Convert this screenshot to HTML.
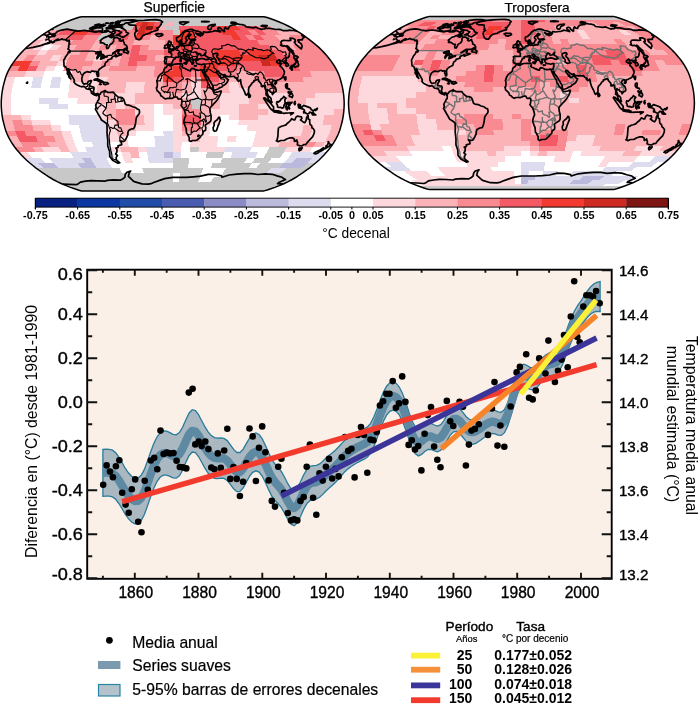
<!DOCTYPE html>
<html><head><meta charset="utf-8"><style>
html,body{margin:0;padding:0;background:#fff;width:700px;height:705px;overflow:hidden}
svg{display:block;font-family:"Liberation Sans",Arial,Helvetica,sans-serif}
</style></head><body>
<svg width="700" height="705" viewBox="0 0 700 705">
<text x="174.3" y="11.6" font-size="13.8" text-anchor="middle" stroke="#000" stroke-width="0.25">Superficie</text>
<text x="537" y="11.6" font-size="13.6" text-anchor="middle" stroke="#000" stroke-width="0.25">Troposfera</text>
<clipPath id="clipL"><path d="M263.97,190.90 L267.16,190.02 L270.83,188.82 L274.90,187.34 L279.25,185.62 L283.76,183.70 L288.15,181.63 L292.19,179.49 L295.94,177.27 L299.52,174.98 L302.99,172.64 L306.37,170.23 L309.66,167.78 L312.84,165.29 L315.90,162.76 L318.82,160.19 L321.54,157.59 L324.05,154.97 L326.40,152.32 L328.65,149.66 L330.75,146.98 L332.65,144.30 L334.37,141.60 L335.94,138.90 L337.34,136.20 L338.55,133.50 L339.57,130.80 L340.41,128.10 L341.15,125.40 L341.85,122.70 L342.49,120.00 L343.00,117.30 L343.41,114.60 L343.73,111.90 L343.96,109.20 L344.12,106.50 L344.20,103.80 L344.12,101.10 L343.96,98.40 L343.73,95.70 L343.41,93.00 L343.00,90.30 L342.49,87.60 L341.85,84.90 L341.15,82.20 L340.41,79.50 L339.57,76.80 L338.55,74.10 L337.34,71.40 L335.94,68.70 L334.37,66.00 L332.65,63.30 L330.75,60.62 L328.65,57.94 L326.40,55.28 L324.05,52.63 L321.54,50.01 L318.82,47.41 L315.90,44.84 L312.84,42.31 L309.66,39.82 L306.37,37.37 L302.99,34.96 L299.52,32.62 L295.94,30.33 L292.19,28.11 L288.15,25.97 L283.76,23.90 L279.25,21.98 L274.90,20.26 L270.83,18.78 L267.16,17.58 L263.97,16.70 L81.43,16.70 L78.24,17.58 L74.57,18.78 L70.50,20.26 L66.15,21.98 L61.64,23.90 L57.25,25.97 L53.21,28.11 L49.46,30.33 L45.88,32.62 L42.41,34.96 L39.03,37.37 L35.74,39.82 L32.56,42.31 L29.50,44.84 L26.58,47.41 L23.86,50.01 L21.35,52.63 L19.00,55.28 L16.75,57.94 L14.65,60.62 L12.75,63.30 L11.03,66.00 L9.46,68.70 L8.06,71.40 L6.85,74.10 L5.83,76.80 L4.99,79.50 L4.25,82.20 L3.55,84.90 L2.91,87.60 L2.40,90.30 L1.99,93.00 L1.67,95.70 L1.44,98.40 L1.28,101.10 L1.20,103.80 L1.28,106.50 L1.44,109.20 L1.67,111.90 L1.99,114.60 L2.40,117.30 L2.91,120.00 L3.55,122.70 L4.25,125.40 L4.99,128.10 L5.83,130.80 L6.85,133.50 L8.06,136.20 L9.46,138.90 L11.03,141.60 L12.75,144.30 L14.65,146.98 L16.75,149.66 L19.00,152.32 L21.35,154.97 L23.86,157.59 L26.58,160.19 L29.50,162.76 L32.56,165.29 L35.74,167.78 L39.03,170.23 L42.41,172.64 L45.88,174.98 L49.46,177.27 L53.21,179.49 L57.25,181.63 L61.64,183.70 L66.15,185.62 L70.50,187.34 L74.57,188.82 L78.24,190.02 L81.43,190.90Z"/></clipPath>
<path d="M263.97,190.90 L267.16,190.02 L270.83,188.82 L274.90,187.34 L279.25,185.62 L283.76,183.70 L288.15,181.63 L292.19,179.49 L295.94,177.27 L299.52,174.98 L302.99,172.64 L306.37,170.23 L309.66,167.78 L312.84,165.29 L315.90,162.76 L318.82,160.19 L321.54,157.59 L324.05,154.97 L326.40,152.32 L328.65,149.66 L330.75,146.98 L332.65,144.30 L334.37,141.60 L335.94,138.90 L337.34,136.20 L338.55,133.50 L339.57,130.80 L340.41,128.10 L341.15,125.40 L341.85,122.70 L342.49,120.00 L343.00,117.30 L343.41,114.60 L343.73,111.90 L343.96,109.20 L344.12,106.50 L344.20,103.80 L344.12,101.10 L343.96,98.40 L343.73,95.70 L343.41,93.00 L343.00,90.30 L342.49,87.60 L341.85,84.90 L341.15,82.20 L340.41,79.50 L339.57,76.80 L338.55,74.10 L337.34,71.40 L335.94,68.70 L334.37,66.00 L332.65,63.30 L330.75,60.62 L328.65,57.94 L326.40,55.28 L324.05,52.63 L321.54,50.01 L318.82,47.41 L315.90,44.84 L312.84,42.31 L309.66,39.82 L306.37,37.37 L302.99,34.96 L299.52,32.62 L295.94,30.33 L292.19,28.11 L288.15,25.97 L283.76,23.90 L279.25,21.98 L274.90,20.26 L270.83,18.78 L267.16,17.58 L263.97,16.70 L81.43,16.70 L78.24,17.58 L74.57,18.78 L70.50,20.26 L66.15,21.98 L61.64,23.90 L57.25,25.97 L53.21,28.11 L49.46,30.33 L45.88,32.62 L42.41,34.96 L39.03,37.37 L35.74,39.82 L32.56,42.31 L29.50,44.84 L26.58,47.41 L23.86,50.01 L21.35,52.63 L19.00,55.28 L16.75,57.94 L14.65,60.62 L12.75,63.30 L11.03,66.00 L9.46,68.70 L8.06,71.40 L6.85,74.10 L5.83,76.80 L4.99,79.50 L4.25,82.20 L3.55,84.90 L2.91,87.60 L2.40,90.30 L1.99,93.00 L1.67,95.70 L1.44,98.40 L1.28,101.10 L1.20,103.80 L1.28,106.50 L1.44,109.20 L1.67,111.90 L1.99,114.60 L2.40,117.30 L2.91,120.00 L3.55,122.70 L4.25,125.40 L4.99,128.10 L5.83,130.80 L6.85,133.50 L8.06,136.20 L9.46,138.90 L11.03,141.60 L12.75,144.30 L14.65,146.98 L16.75,149.66 L19.00,152.32 L21.35,154.97 L23.86,157.59 L26.58,160.19 L29.50,162.76 L32.56,165.29 L35.74,167.78 L39.03,170.23 L42.41,172.64 L45.88,174.98 L49.46,177.27 L53.21,179.49 L57.25,181.63 L61.64,183.70 L66.15,185.62 L70.50,187.34 L74.57,188.82 L78.24,190.02 L81.43,190.90Z" fill="#c8c8c8"/>
<g clip-path="url(#clipL)">
<g shape-rendering="crispEdges"><path d="M81.43,16.70 86.50,16.70 91.57,16.70 96.64,16.70 101.71,16.70 106.78,16.70 111.85,16.70 116.92,16.70 121.99,16.70 127.06,16.70 132.13,16.70 137.21,16.70 142.28,16.70 147.35,16.70 152.42,16.70 157.49,16.70 162.56,16.70 167.63,16.70 172.70,16.70 177.77,16.70 182.84,16.70 187.91,16.70 192.98,16.70 198.05,16.70 203.12,16.70 208.19,16.70 213.27,16.70 218.34,16.70 223.41,16.70 228.48,16.70 233.55,16.70 238.62,16.70 243.69,16.70 248.76,16.70 253.83,16.70 258.90,16.70 263.97,16.70 270.83,18.78 265.38,18.78 259.93,18.78 254.48,18.78 249.03,18.78 243.57,18.78 238.12,18.78 232.67,18.78 227.22,18.78 221.77,18.78 216.31,18.78 210.86,18.78 205.41,18.78 199.96,18.78 194.51,18.78 189.06,18.78 183.60,18.78 178.15,18.78 172.70,18.78 167.25,18.78 161.80,18.78 156.34,18.78 150.89,18.78 145.44,18.78 139.99,18.78 134.54,18.78 129.09,18.78 123.63,18.78 118.18,18.78 112.73,18.78 107.28,18.78 101.83,18.78 96.37,18.78 90.92,18.78 85.47,18.78 80.02,18.78 74.57,18.78ZM74.57,18.78 80.02,18.78 85.47,18.78 90.92,18.78 96.37,18.78 101.83,18.78 107.28,18.78 112.73,18.78 118.18,18.78 123.63,18.78 129.09,18.78 134.54,18.78 139.99,18.78 145.44,18.78 150.89,18.78 156.34,18.78 161.80,18.78 167.25,18.78 172.70,18.78 178.15,18.78 183.60,18.78 189.06,18.78 194.51,18.78 199.96,18.78 205.41,18.78 210.86,18.78 216.31,18.78 221.77,18.78 227.22,18.78 232.67,18.78 238.12,18.78 243.57,18.78 249.03,18.78 254.48,18.78 259.93,18.78 265.38,18.78 270.83,18.78 279.25,21.98 273.33,21.98 267.41,21.98 261.49,21.98 255.57,21.98 249.65,21.98 243.74,21.98 237.82,21.98 231.90,21.98 225.98,21.98 220.06,21.98 214.14,21.98 208.22,21.98 202.30,21.98 196.38,21.98 190.46,21.98 184.54,21.98 178.62,21.98 172.70,21.98 166.78,21.98 160.86,21.98 154.94,21.98 149.02,21.98 143.10,21.98 137.18,21.98 131.26,21.98 125.34,21.98 119.42,21.98 113.50,21.98 107.58,21.98 101.66,21.98 95.75,21.98 89.83,21.98 83.91,21.98 77.99,21.98 72.07,21.98 66.15,21.98ZM66.15,21.98 72.07,21.98 77.99,21.98 83.91,21.98 89.83,21.98 95.75,21.98 101.66,21.98 107.58,21.98 113.50,21.98 119.42,21.98 125.34,21.98 131.26,21.98 137.18,21.98 134.22,25.97 127.80,25.97 121.39,25.97 114.97,25.97 108.56,25.97 102.14,25.97 95.73,25.97 89.32,25.97 82.90,25.97 76.49,25.97 70.07,25.97 63.66,25.97 57.25,25.97ZM160.86,21.98 166.78,21.98 166.29,25.97 159.87,25.97ZM172.70,21.98 178.62,21.98 184.54,21.98 190.46,21.98 196.38,21.98 202.30,21.98 208.22,21.98 214.14,21.98 220.06,21.98 225.98,21.98 231.90,21.98 237.82,21.98 243.74,21.98 249.65,21.98 255.57,21.98 261.49,21.98 267.41,21.98 273.33,21.98 279.25,21.98 288.15,25.97 281.74,25.97 275.33,25.97 268.91,25.97 262.50,25.97 256.08,25.97 249.67,25.97 243.26,25.97 236.84,25.97 230.43,25.97 224.01,25.97 217.60,25.97 211.18,25.97 204.77,25.97 198.36,25.97 191.94,25.97 185.53,25.97 179.11,25.97 172.70,25.97ZM57.25,25.97 63.66,25.97 70.07,25.97 76.49,25.97 82.90,25.97 89.32,25.97 95.73,25.97 102.14,25.97 108.56,25.97 114.97,25.97 121.39,25.97 127.80,25.97 134.22,25.97 131.62,30.33 124.77,30.33 117.93,30.33 111.08,30.33 104.23,30.33 97.39,30.33 90.54,30.33 83.69,30.33 76.85,30.33 70.00,30.33 63.15,30.33 56.31,30.33 49.46,30.33ZM166.29,25.97 172.70,25.97 179.11,25.97 179.55,30.33 172.70,30.33 165.85,30.33ZM268.91,25.97 275.33,25.97 281.74,25.97 288.15,25.97 295.94,30.33 289.09,30.33 282.25,30.33 275.40,30.33ZM104.23,30.33 111.08,30.33 107.56,34.96 100.32,34.96ZM172.70,30.33 179.55,30.33 179.94,34.96 172.70,34.96ZM100.32,34.96 107.56,34.96 114.79,34.96 111.83,39.82 104.22,39.82 96.61,39.82ZM104.22,39.82 111.83,39.82 109.05,44.84 101.10,44.84ZM191.73,98.40 201.24,98.40 201.28,103.80 191.76,103.80ZM191.76,103.80 201.28,103.80 201.24,109.20 191.73,109.20ZM190.26,146.98 199.04,146.98 198.32,152.32 189.78,152.32ZM269.29,146.98 278.07,146.98 286.85,146.98 283.70,152.32 275.17,152.32 266.63,152.32ZM206.86,152.32 215.39,152.32 223.93,152.32 222.31,157.59 214.05,157.59 205.78,157.59ZM266.63,152.32 275.17,152.32 283.70,152.32 280.20,157.59 271.93,157.59 263.66,157.59ZM172.70,157.59 180.97,157.59 189.24,157.59 188.61,162.76 180.66,162.76 172.70,162.76ZM222.31,157.59 230.58,157.59 238.85,157.59 247.12,157.59 244.30,162.76 236.35,162.76 228.39,162.76 220.43,162.76ZM255.39,157.59 263.66,157.59 271.93,157.59 268.17,162.76 260.21,162.76 252.26,162.76ZM172.70,162.76 180.66,162.76 188.61,162.76 187.92,167.78 180.31,167.78 172.70,167.78ZM212.48,162.76 220.43,162.76 228.39,162.76 236.35,162.76 244.30,162.76 252.26,162.76 248.79,167.78 241.18,167.78 233.57,167.78 225.96,167.78 218.35,167.78 210.74,167.78ZM260.21,162.76 268.17,162.76 276.12,162.76 284.08,162.76 279.22,167.78 271.62,167.78 264.01,167.78 256.40,167.78ZM307.95,162.76 315.90,162.76 309.66,167.78 302.05,167.78ZM35.74,167.78 43.35,167.78 50.96,167.78 58.57,167.78 66.18,167.78 73.78,167.78 81.39,167.78 89.00,167.78 96.61,167.78 104.22,167.78 111.83,167.78 119.44,167.78 122.03,172.64 114.79,172.64 107.56,172.64 100.32,172.64 93.08,172.64 85.84,172.64 78.60,172.64 71.36,172.64 64.13,172.64 56.89,172.64 49.65,172.64 42.41,172.64ZM142.26,167.78 149.87,167.78 157.48,167.78 165.09,167.78 172.70,167.78 180.31,167.78 187.92,167.78 195.53,167.78 203.14,167.78 201.65,172.64 194.41,172.64 187.18,172.64 179.94,172.64 172.70,172.64 165.46,172.64 158.22,172.64 150.99,172.64 143.75,172.64ZM225.96,167.78 233.57,167.78 241.18,167.78 248.79,167.78 256.40,167.78 264.01,167.78 271.62,167.78 266.80,172.64 259.56,172.64 252.32,172.64 245.08,172.64 237.84,172.64 230.61,172.64 223.37,172.64ZM286.83,167.78 294.44,167.78 302.05,167.78 309.66,167.78 302.99,172.64 295.75,172.64 288.51,172.64 281.27,172.64ZM42.41,172.64 49.65,172.64 56.89,172.64 64.13,172.64 71.36,172.64 78.60,172.64 85.84,172.64 93.08,172.64 100.32,172.64 107.56,172.64 114.79,172.64 122.03,172.64 129.27,172.64 136.51,172.64 143.75,172.64 150.99,172.64 158.22,172.64 165.46,172.64 172.70,172.64 172.70,177.27 165.85,177.27 159.01,177.27 152.16,177.27 145.31,177.27 138.47,177.27 131.62,177.27 124.77,177.27 117.93,177.27 111.08,177.27 104.23,177.27 97.39,177.27 90.54,177.27 83.69,177.27 76.85,177.27 70.00,177.27 63.15,177.27 56.31,177.27 49.46,177.27ZM179.94,172.64 187.18,172.64 194.41,172.64 201.65,172.64 200.09,177.27 193.24,177.27 186.39,177.27 179.55,177.27ZM223.37,172.64 230.61,172.64 237.84,172.64 245.08,172.64 252.32,172.64 259.56,172.64 266.80,172.64 274.04,172.64 281.27,172.64 288.51,172.64 295.75,172.64 302.99,172.64 295.94,177.27 289.09,177.27 282.25,177.27 275.40,177.27 268.55,177.27 261.71,177.27 254.86,177.27 248.01,177.27 241.17,177.27 234.32,177.27 227.47,177.27 220.63,177.27ZM49.46,177.27 56.31,177.27 63.15,177.27 70.00,177.27 76.85,177.27 83.69,177.27 90.54,177.27 97.39,177.27 104.23,177.27 111.08,177.27 117.93,177.27 124.77,177.27 131.62,177.27 138.47,177.27 145.31,177.27 152.16,177.27 159.01,177.27 165.85,177.27 172.70,177.27 172.70,181.63 166.29,181.63 159.87,181.63 153.46,181.63 147.04,181.63 140.63,181.63 134.22,181.63 127.80,181.63 121.39,181.63 114.97,181.63 108.56,181.63 102.14,181.63 95.73,181.63 89.32,181.63 82.90,181.63 76.49,181.63 70.07,181.63 63.66,181.63 57.25,181.63ZM179.55,177.27 186.39,177.27 193.24,177.27 200.09,177.27 198.36,181.63 191.94,181.63 185.53,181.63 179.11,181.63ZM213.78,177.27 220.63,177.27 227.47,177.27 234.32,177.27 241.17,177.27 248.01,177.27 254.86,177.27 261.71,177.27 268.55,177.27 275.40,177.27 282.25,177.27 289.09,177.27 295.94,177.27 288.15,181.63 281.74,181.63 275.33,181.63 268.91,181.63 262.50,181.63 256.08,181.63 249.67,181.63 243.26,181.63 236.84,181.63 230.43,181.63 224.01,181.63 217.60,181.63 211.18,181.63ZM57.25,181.63 63.66,181.63 70.07,181.63 76.49,181.63 82.90,181.63 89.32,181.63 95.73,181.63 102.14,181.63 108.56,181.63 114.97,181.63 121.39,181.63 127.80,181.63 134.22,181.63 140.63,181.63 147.04,181.63 153.46,181.63 159.87,181.63 166.29,181.63 172.70,181.63 179.11,181.63 185.53,181.63 191.94,181.63 198.36,181.63 204.77,181.63 211.18,181.63 217.60,181.63 224.01,181.63 230.43,181.63 236.84,181.63 243.26,181.63 249.67,181.63 256.08,181.63 262.50,181.63 268.91,181.63 275.33,181.63 281.74,181.63 288.15,181.63 279.25,185.62 273.33,185.62 267.41,185.62 261.49,185.62 255.57,185.62 249.65,185.62 243.74,185.62 237.82,185.62 231.90,185.62 225.98,185.62 220.06,185.62 214.14,185.62 208.22,185.62 202.30,185.62 196.38,185.62 190.46,185.62 184.54,185.62 178.62,185.62 172.70,185.62 166.78,185.62 160.86,185.62 154.94,185.62 149.02,185.62 143.10,185.62 137.18,185.62 131.26,185.62 125.34,185.62 119.42,185.62 113.50,185.62 107.58,185.62 101.66,185.62 95.75,185.62 89.83,185.62 83.91,185.62 77.99,185.62 72.07,185.62 66.15,185.62ZM66.15,185.62 72.07,185.62 77.99,185.62 83.91,185.62 89.83,185.62 95.75,185.62 101.66,185.62 107.58,185.62 113.50,185.62 119.42,185.62 125.34,185.62 131.26,185.62 137.18,185.62 143.10,185.62 149.02,185.62 154.94,185.62 160.86,185.62 166.78,185.62 172.70,185.62 178.62,185.62 184.54,185.62 190.46,185.62 196.38,185.62 202.30,185.62 208.22,185.62 214.14,185.62 220.06,185.62 225.98,185.62 231.90,185.62 237.82,185.62 243.74,185.62 249.65,185.62 255.57,185.62 261.49,185.62 267.41,185.62 273.33,185.62 279.25,185.62 270.83,188.82 265.38,188.82 259.93,188.82 254.48,188.82 249.03,188.82 243.57,188.82 238.12,188.82 232.67,188.82 227.22,188.82 221.77,188.82 216.31,188.82 210.86,188.82 205.41,188.82 199.96,188.82 194.51,188.82 189.06,188.82 183.60,188.82 178.15,188.82 172.70,188.82 167.25,188.82 161.80,188.82 156.34,188.82 150.89,188.82 145.44,188.82 139.99,188.82 134.54,188.82 129.09,188.82 123.63,188.82 118.18,188.82 112.73,188.82 107.28,188.82 101.83,188.82 96.37,188.82 90.92,188.82 85.47,188.82 80.02,188.82 74.57,188.82ZM74.57,188.82 80.02,188.82 85.47,188.82 90.92,188.82 96.37,188.82 101.83,188.82 107.28,188.82 112.73,188.82 118.18,188.82 123.63,188.82 129.09,188.82 134.54,188.82 139.99,188.82 145.44,188.82 150.89,188.82 156.34,188.82 161.80,188.82 167.25,188.82 172.70,188.82 178.15,188.82 183.60,188.82 189.06,188.82 194.51,188.82 199.96,188.82 205.41,188.82 210.86,188.82 216.31,188.82 221.77,188.82 227.22,188.82 232.67,188.82 238.12,188.82 243.57,188.82 249.03,188.82 254.48,188.82 259.93,188.82 265.38,188.82 270.83,188.82 263.97,190.90 258.90,190.90 253.83,190.90 248.76,190.90 243.69,190.90 238.62,190.90 233.55,190.90 228.48,190.90 223.41,190.90 218.34,190.90 213.27,190.90 208.19,190.90 203.12,190.90 198.05,190.90 192.98,190.90 187.91,190.90 182.84,190.90 177.77,190.90 172.70,190.90 167.63,190.90 162.56,190.90 157.49,190.90 152.42,190.90 147.35,190.90 142.28,190.90 137.21,190.90 132.13,190.90 127.06,190.90 121.99,190.90 116.92,190.90 111.85,190.90 106.78,190.90 101.71,190.90 96.64,190.90 91.57,190.90 86.50,190.90 81.43,190.90Z" fill="#c8c8c8"/><path d="M137.18,21.98 143.10,21.98 140.63,25.97 134.22,25.97ZM149.02,21.98 154.94,21.98 153.46,25.97 147.04,25.97ZM153.46,25.97 159.87,25.97 159.01,30.33 152.16,30.33ZM217.60,25.97 224.01,25.97 230.43,25.97 236.84,25.97 241.17,30.33 234.32,30.33 227.47,30.33 220.63,30.33ZM76.85,30.33 83.69,30.33 90.54,30.33 85.84,34.96 78.60,34.96 71.36,34.96ZM145.31,30.33 152.16,30.33 150.99,34.96 143.75,34.96ZM179.55,30.33 186.39,30.33 193.24,30.33 194.41,34.96 187.18,34.96 179.94,34.96ZM220.63,30.33 227.47,30.33 234.32,30.33 237.84,34.96 230.61,34.96 223.37,34.96ZM136.51,34.96 143.75,34.96 142.26,39.82 134.66,39.82ZM172.70,34.96 179.94,34.96 187.18,34.96 194.41,34.96 195.53,39.82 187.92,39.82 180.31,39.82 172.70,39.82ZM230.61,34.96 237.84,34.96 241.18,39.82 233.57,39.82ZM172.70,39.82 180.31,39.82 187.92,39.82 188.61,44.84 180.66,44.84 172.70,44.84ZM180.66,44.84 188.61,44.84 189.24,50.01 180.97,50.01ZM214.05,50.01 222.31,50.01 230.58,50.01 238.85,50.01 241.01,55.28 232.47,55.28 223.93,55.28 215.39,55.28ZM247.12,50.01 255.39,50.01 263.66,50.01 271.93,50.01 275.17,55.28 266.63,55.28 258.09,55.28 249.55,55.28ZM215.39,55.28 223.93,55.28 232.47,55.28 241.01,55.28 249.55,55.28 258.09,55.28 260.51,60.62 251.73,60.62 242.95,60.62 234.17,60.62 225.38,60.62 216.60,60.62ZM14.65,60.62 23.43,60.62 32.21,60.62 28.99,66.00 20.01,66.00 11.03,66.00ZM207.82,60.62 216.60,60.62 225.38,60.62 234.17,60.62 235.57,66.00 226.59,66.00 217.61,66.00 208.63,66.00ZM269.29,60.62 278.07,60.62 280.48,66.00 271.50,66.00ZM20.01,66.00 28.99,66.00 26.35,71.40 17.21,71.40ZM172.70,66.00 181.68,66.00 181.85,71.40 172.70,71.40ZM199.65,66.00 208.63,66.00 217.61,66.00 218.43,71.40 209.29,71.40 200.14,71.40ZM163.55,71.40 172.70,71.40 181.85,71.40 181.97,76.80 172.70,76.80 163.43,76.80ZM200.14,71.40 209.29,71.40 218.43,71.40 219.05,76.80 209.78,76.80 200.51,76.80ZM163.43,76.80 172.70,76.80 172.70,82.20 163.34,82.20ZM200.51,76.80 209.78,76.80 210.13,82.20 200.77,82.20Z" fill="#f33a30"/><path d="M143.10,21.98 149.02,21.98 147.04,25.97 140.63,25.97ZM140.63,25.97 147.04,25.97 145.31,30.33 138.47,30.33ZM138.47,30.33 145.31,30.33 143.75,34.96 136.51,34.96ZM258.09,55.28 266.63,55.28 275.17,55.28 278.07,60.62 269.29,60.62 260.51,60.62ZM260.51,60.62 269.29,60.62 271.50,66.00 262.52,66.00Z" fill="#cf2a22"/><path d="M154.94,21.98 160.86,21.98 159.87,25.97 153.46,25.97ZM134.22,25.97 140.63,25.97 138.47,30.33 131.62,30.33ZM179.11,25.97 185.53,25.97 191.94,25.97 198.36,25.97 204.77,25.97 211.18,25.97 217.60,25.97 220.63,30.33 213.78,30.33 206.93,30.33 200.09,30.33 193.24,30.33 186.39,30.33 179.55,30.33ZM236.84,25.97 243.26,25.97 249.67,25.97 256.08,25.97 261.71,30.33 254.86,30.33 248.01,30.33 241.17,30.33ZM63.15,30.33 70.00,30.33 76.85,30.33 71.36,34.96 64.13,34.96 56.89,34.96ZM90.54,30.33 97.39,30.33 104.23,30.33 100.32,34.96 93.08,34.96 85.84,34.96ZM117.93,30.33 124.77,30.33 122.03,34.96 114.79,34.96ZM193.24,30.33 200.09,30.33 206.93,30.33 213.78,30.33 220.63,30.33 223.37,34.96 216.13,34.96 208.89,34.96 201.65,34.96 194.41,34.96ZM234.32,30.33 241.17,30.33 248.01,30.33 252.32,34.96 245.08,34.96 237.84,34.96ZM254.86,30.33 261.71,30.33 266.80,34.96 259.56,34.96ZM71.36,34.96 78.60,34.96 85.84,34.96 81.39,39.82 73.78,39.82 66.18,39.82ZM122.03,34.96 129.27,34.96 127.05,39.82 119.44,39.82ZM194.41,34.96 201.65,34.96 208.89,34.96 216.13,34.96 223.37,34.96 230.61,34.96 233.57,39.82 225.96,39.82 218.35,39.82 210.74,39.82 203.14,39.82 195.53,39.82ZM237.84,34.96 245.08,34.96 248.79,39.82 241.18,39.82ZM252.32,34.96 259.56,34.96 264.01,39.82 256.40,39.82ZM187.92,39.82 195.53,39.82 203.14,39.82 210.74,39.82 218.35,39.82 225.96,39.82 233.57,39.82 241.18,39.82 248.79,39.82 256.40,39.82 260.21,44.84 252.26,44.84 244.30,44.84 236.35,44.84 228.39,44.84 220.43,44.84 212.48,44.84 204.52,44.84 196.57,44.84 188.61,44.84ZM132.92,44.84 140.88,44.84 139.62,50.01 131.35,50.01ZM172.70,44.84 180.66,44.84 180.97,50.01 172.70,50.01ZM188.61,44.84 196.57,44.84 204.52,44.84 212.48,44.84 220.43,44.84 228.39,44.84 236.35,44.84 244.30,44.84 252.26,44.84 260.21,44.84 268.17,44.84 271.93,50.01 263.66,50.01 255.39,50.01 247.12,50.01 238.85,50.01 230.58,50.01 222.31,50.01 214.05,50.01 205.78,50.01 197.51,50.01 189.24,50.01ZM131.35,50.01 139.62,50.01 138.54,55.28 130.01,55.28ZM164.43,50.01 172.70,50.01 180.97,50.01 189.24,50.01 197.51,50.01 205.78,50.01 214.05,50.01 215.39,55.28 206.86,55.28 198.32,55.28 189.78,55.28 181.24,55.28 172.70,55.28 164.16,55.28ZM238.85,50.01 247.12,50.01 249.55,55.28 241.01,55.28ZM271.93,50.01 280.20,50.01 283.70,55.28 275.17,55.28ZM130.01,55.28 138.54,55.28 147.08,55.28 146.36,60.62 137.58,60.62 128.80,60.62ZM172.70,55.28 181.24,55.28 189.78,55.28 198.32,55.28 206.86,55.28 215.39,55.28 216.60,60.62 207.82,60.62 199.04,60.62 190.26,60.62 181.48,60.62 172.70,60.62ZM275.17,55.28 283.70,55.28 292.24,55.28 295.63,60.62 286.85,60.62 278.07,60.62ZM128.80,60.62 137.58,60.62 136.77,66.00 127.79,66.00ZM163.92,60.62 172.70,60.62 181.48,60.62 190.26,60.62 199.04,60.62 207.82,60.62 208.63,66.00 199.65,66.00 190.66,66.00 181.68,66.00 172.70,66.00 163.72,66.00ZM234.17,60.62 242.95,60.62 251.73,60.62 260.51,60.62 262.52,66.00 253.54,66.00 244.55,66.00 235.57,66.00ZM278.07,60.62 286.85,60.62 295.63,60.62 298.45,66.00 289.46,66.00 280.48,66.00ZM28.99,66.00 37.97,66.00 35.50,71.40 26.35,71.40ZM163.72,66.00 172.70,66.00 172.70,71.40 163.55,71.40ZM181.68,66.00 190.66,66.00 199.65,66.00 200.14,71.40 190.99,71.40 181.85,71.40ZM217.61,66.00 226.59,66.00 235.57,66.00 236.73,71.40 227.58,71.40 218.43,71.40ZM244.55,66.00 253.54,66.00 262.52,66.00 271.50,66.00 280.48,66.00 282.46,71.40 273.31,71.40 264.17,71.40 255.02,71.40 245.87,71.40ZM289.46,66.00 298.45,66.00 300.75,71.40 291.61,71.40ZM181.85,71.40 190.99,71.40 191.24,76.80 181.97,76.80ZM264.17,71.40 273.31,71.40 282.46,71.40 283.95,76.80 274.68,76.80 265.41,76.80ZM172.70,76.80 181.97,76.80 182.06,82.20 172.70,82.20ZM209.78,76.80 219.05,76.80 219.49,82.20 210.13,82.20ZM200.77,82.20 210.13,82.20 210.43,87.60 201.00,87.60ZM182.18,114.60 191.67,114.60 201.15,114.60 201.00,120.00 191.56,120.00 182.13,120.00ZM182.13,120.00 191.56,120.00 201.00,120.00 200.77,125.40 191.42,125.40 182.06,125.40ZM15.10,130.80 24.37,130.80 26.35,136.20 17.21,136.20ZM17.21,136.20 26.35,136.20 35.50,136.20 37.97,141.60 28.99,141.60 20.01,141.60Z" fill="#f45a66"/><path d="M166.78,21.98 172.70,21.98 172.70,25.97 166.29,25.97ZM159.87,25.97 166.29,25.97 165.85,30.33 159.01,30.33ZM49.46,30.33 56.31,30.33 49.65,34.96 42.41,34.96ZM275.40,30.33 282.25,30.33 289.09,30.33 295.94,30.33 302.99,34.96 295.75,34.96 288.51,34.96 281.27,34.96ZM49.65,34.96 56.89,34.96 50.96,39.82 43.35,39.82ZM150.99,34.96 158.22,34.96 157.48,39.82 149.87,39.82ZM274.04,34.96 281.27,34.96 288.51,34.96 294.44,39.82 286.83,39.82 279.22,39.82ZM35.74,39.82 43.35,39.82 37.45,44.84 29.50,44.84ZM58.57,39.82 66.18,39.82 73.78,39.82 69.28,44.84 61.32,44.84 53.36,44.84ZM96.61,39.82 104.22,39.82 101.10,44.84 93.14,44.84ZM134.66,39.82 142.26,39.82 149.87,39.82 157.48,39.82 165.09,39.82 164.74,44.84 156.79,44.84 148.83,44.84 140.88,44.84 132.92,44.84ZM279.22,39.82 286.83,39.82 294.44,39.82 299.99,44.84 292.04,44.84 284.08,44.84ZM29.50,44.84 37.45,44.84 32.12,50.01 23.86,50.01ZM61.32,44.84 69.28,44.84 77.23,44.84 73.47,50.01 65.20,50.01 56.93,50.01ZM93.14,44.84 101.10,44.84 98.28,50.01 90.01,50.01ZM109.05,44.84 117.01,44.84 114.82,50.01 106.55,50.01ZM148.83,44.84 156.79,44.84 164.74,44.84 164.43,50.01 156.16,50.01 147.89,50.01ZM284.08,44.84 292.04,44.84 296.74,50.01 288.47,50.01ZM23.86,50.01 32.12,50.01 40.39,50.01 36.08,55.28 27.54,55.28 19.00,55.28ZM48.66,50.01 56.93,50.01 65.20,50.01 73.47,50.01 81.74,50.01 78.77,55.28 70.23,55.28 61.70,55.28 53.16,55.28 44.62,55.28ZM90.01,50.01 98.28,50.01 106.55,50.01 114.82,50.01 112.93,55.28 104.39,55.28 95.85,55.28 87.31,55.28ZM19.00,55.28 27.54,55.28 23.43,60.62 14.65,60.62ZM36.08,55.28 44.62,55.28 53.16,55.28 49.77,60.62 40.99,60.62 32.21,60.62ZM61.70,55.28 70.23,55.28 67.33,60.62 58.55,60.62ZM87.31,55.28 95.85,55.28 93.67,60.62 84.89,60.62ZM104.39,55.28 112.93,55.28 121.47,55.28 120.02,60.62 111.23,60.62 102.45,60.62ZM155.62,55.28 164.16,55.28 163.92,60.62 155.14,60.62ZM40.99,60.62 49.77,60.62 58.55,60.62 55.94,66.00 46.95,66.00 37.97,66.00ZM93.67,60.62 102.45,60.62 100.85,66.00 91.86,66.00ZM111.23,60.62 120.02,60.62 118.81,66.00 109.83,66.00ZM37.97,66.00 46.95,66.00 44.65,71.40 35.50,71.40ZM82.88,66.00 91.86,66.00 100.85,66.00 109.83,66.00 108.67,71.40 99.53,71.40 90.38,71.40 81.23,71.40ZM136.77,66.00 145.75,66.00 154.74,66.00 154.41,71.40 145.26,71.40 136.11,71.40ZM8.06,71.40 17.21,71.40 26.35,71.40 24.37,76.80 15.10,76.80 5.83,76.80ZM72.09,71.40 81.23,71.40 90.38,71.40 89.27,76.80 79.99,76.80 70.72,76.80ZM99.53,71.40 108.67,71.40 117.82,71.40 126.97,71.40 136.11,71.40 145.26,71.40 154.41,71.40 154.16,76.80 144.89,76.80 135.62,76.80 126.35,76.80 117.08,76.80 107.81,76.80 98.54,76.80ZM236.73,71.40 245.87,71.40 255.02,71.40 256.13,76.80 246.86,76.80 237.59,76.80ZM309.90,71.40 319.05,71.40 328.19,71.40 337.34,71.40 339.57,76.80 330.30,76.80 321.03,76.80 311.76,76.80ZM70.72,76.80 79.99,76.80 89.27,76.80 88.48,82.20 79.12,82.20 69.76,82.20ZM107.81,76.80 117.08,76.80 126.35,76.80 135.62,76.80 144.89,76.80 154.16,76.80 163.43,76.80 163.34,82.20 153.98,82.20 144.63,82.20 135.27,82.20 125.91,82.20 116.55,82.20 107.19,82.20ZM191.24,76.80 200.51,76.80 200.77,82.20 191.42,82.20ZM228.32,76.80 237.59,76.80 246.86,76.80 256.13,76.80 256.92,82.20 247.57,82.20 238.21,82.20 228.85,82.20ZM302.49,76.80 311.76,76.80 321.03,76.80 330.30,76.80 339.57,76.80 341.15,82.20 331.79,82.20 322.43,82.20 313.07,82.20 303.71,82.20ZM97.83,82.20 107.19,82.20 116.55,82.20 125.91,82.20 125.54,87.60 116.10,87.60 106.67,87.60 97.24,87.60ZM144.63,82.20 153.98,82.20 163.34,82.20 163.27,87.60 153.83,87.60 144.40,87.60ZM182.06,82.20 191.42,82.20 191.56,87.60 182.13,87.60ZM219.49,82.20 228.85,82.20 229.29,87.60 219.86,87.60ZM238.21,82.20 247.57,82.20 256.92,82.20 266.28,82.20 267.02,87.60 257.59,87.60 248.16,87.60 238.73,87.60ZM275.64,82.20 285.00,82.20 294.36,82.20 303.71,82.20 313.07,82.20 322.43,82.20 331.79,82.20 341.15,82.20 342.49,87.60 333.05,87.60 323.62,87.60 314.19,87.60 304.75,87.60 295.32,87.60 285.89,87.60 276.46,87.60ZM97.24,87.60 106.67,87.60 116.10,87.60 125.54,87.60 125.28,93.00 115.80,93.00 106.31,93.00 96.83,93.00ZM144.40,87.60 153.83,87.60 163.27,87.60 163.22,93.00 153.73,93.00 144.25,93.00ZM182.13,87.60 191.56,87.60 191.67,93.00 182.18,93.00ZM201.00,87.60 210.43,87.60 219.86,87.60 229.29,87.60 229.60,93.00 220.12,93.00 210.64,93.00 201.15,93.00ZM248.16,87.60 257.59,87.60 267.02,87.60 276.46,87.60 285.89,87.60 295.32,87.60 304.75,87.60 314.19,87.60 323.62,87.60 333.05,87.60 342.49,87.60 343.41,93.00 333.93,93.00 324.44,93.00 314.96,93.00 305.48,93.00 295.99,93.00 286.51,93.00 277.02,93.00 267.54,93.00 258.06,93.00 248.57,93.00ZM96.83,93.00 106.31,93.00 115.80,93.00 115.61,98.40 106.10,98.40 96.58,98.40ZM134.76,93.00 144.25,93.00 153.73,93.00 163.22,93.00 172.70,93.00 182.18,93.00 182.21,98.40 172.70,98.40 163.19,98.40 153.67,98.40 144.16,98.40 134.64,98.40ZM201.15,93.00 210.64,93.00 220.12,93.00 220.27,98.40 210.76,98.40 201.24,98.40ZM248.57,93.00 258.06,93.00 267.54,93.00 267.84,98.40 258.33,98.40 248.82,98.40ZM286.51,93.00 295.99,93.00 305.48,93.00 314.96,93.00 315.42,98.40 305.90,98.40 296.39,98.40 286.87,98.40ZM96.58,98.40 106.10,98.40 115.61,98.40 115.53,103.80 106.01,103.80 96.48,103.80ZM134.64,98.40 144.16,98.40 153.67,98.40 163.19,98.40 172.70,98.40 182.21,98.40 191.73,98.40 191.76,103.80 182.23,103.80 172.70,103.80 163.17,103.80 153.64,103.80 144.12,103.80 134.59,103.80ZM201.24,98.40 210.76,98.40 220.27,98.40 220.34,103.80 210.81,103.80 201.28,103.80ZM248.82,98.40 258.33,98.40 267.84,98.40 267.98,103.80 258.45,103.80 248.92,103.80ZM286.87,98.40 296.39,98.40 305.90,98.40 306.09,103.80 296.56,103.80 287.03,103.80ZM106.01,103.80 115.53,103.80 115.61,109.20 106.10,109.20ZM125.06,103.80 134.59,103.80 134.64,109.20 125.13,109.20ZM172.70,103.80 182.23,103.80 182.21,109.20 172.70,109.20ZM201.28,103.80 210.81,103.80 220.34,103.80 220.27,109.20 210.76,109.20 201.24,109.20ZM239.39,103.80 248.92,103.80 258.45,103.80 258.33,109.20 248.82,109.20 239.30,109.20ZM106.10,109.20 115.61,109.20 115.80,114.60 106.31,114.60ZM201.24,109.20 210.76,109.20 210.64,114.60 201.15,114.60ZM239.30,109.20 248.82,109.20 258.33,109.20 267.84,109.20 267.54,114.60 258.06,114.60 248.57,114.60 239.09,114.60ZM334.45,109.20 343.96,109.20 343.41,114.60 333.93,114.60ZM1.99,114.60 11.47,114.60 20.96,114.60 21.78,120.00 12.35,120.00 2.91,120.00ZM106.31,114.60 115.80,114.60 116.10,120.00 106.67,120.00ZM134.76,114.60 144.25,114.60 144.40,120.00 134.97,120.00ZM201.15,114.60 210.64,114.60 210.43,120.00 201.00,120.00ZM239.09,114.60 248.57,114.60 258.06,114.60 257.59,120.00 248.16,120.00 238.73,120.00ZM324.44,114.60 333.93,114.60 343.41,114.60 342.49,120.00 333.05,120.00 323.62,120.00ZM2.91,120.00 12.35,120.00 13.61,125.40 4.25,125.40ZM21.78,120.00 31.21,120.00 32.33,125.40 22.97,125.40ZM134.97,120.00 144.40,120.00 144.63,125.40 135.27,125.40ZM201.00,120.00 210.43,120.00 210.13,125.40 200.77,125.40ZM323.62,120.00 333.05,120.00 342.49,120.00 341.15,125.40 331.79,125.40 322.43,125.40ZM4.25,125.40 13.61,125.40 15.10,130.80 5.83,130.80ZM32.33,125.40 41.69,125.40 51.04,125.40 52.18,130.80 42.91,130.80 33.64,130.80ZM116.55,125.40 125.91,125.40 135.27,125.40 135.62,130.80 126.35,130.80 117.08,130.80ZM303.71,125.40 313.07,125.40 311.76,130.80 302.49,130.80ZM331.79,125.40 341.15,125.40 339.57,130.80 330.30,130.80ZM42.91,130.80 52.18,130.80 61.45,130.80 62.94,136.20 53.79,136.20 44.65,136.20ZM117.08,130.80 126.35,130.80 126.97,136.20 117.82,136.20ZM181.97,130.80 191.24,130.80 200.51,130.80 200.14,136.20 190.99,136.20 181.85,136.20ZM302.49,130.80 311.76,130.80 309.90,136.20 300.75,136.20ZM330.30,130.80 339.57,130.80 337.34,136.20 328.19,136.20ZM8.06,136.20 17.21,136.20 20.01,141.60 11.03,141.60ZM53.79,136.20 62.94,136.20 64.92,141.60 55.94,141.60ZM190.99,136.20 200.14,136.20 199.65,141.60 190.66,141.60ZM291.61,136.20 300.75,136.20 309.90,136.20 307.43,141.60 298.45,141.60 289.46,141.60ZM328.19,136.20 337.34,136.20 334.37,141.60 325.39,141.60ZM11.03,141.60 20.01,141.60 23.43,146.98 14.65,146.98ZM46.95,141.60 55.94,141.60 64.92,141.60 67.33,146.98 58.55,146.98 49.77,146.98ZM280.48,141.60 289.46,141.60 298.45,141.60 307.43,141.60 304.41,146.98 295.63,146.98 286.85,146.98 278.07,146.98ZM316.41,141.60 325.39,141.60 321.97,146.98 313.19,146.98ZM32.21,146.98 40.99,146.98 44.62,152.32 36.08,152.32ZM58.55,146.98 67.33,146.98 70.23,152.32 61.70,152.32ZM120.02,146.98 128.80,146.98 137.58,146.98 138.54,152.32 130.01,152.32 121.47,152.32ZM130.01,152.32 138.54,152.32 139.62,157.59 131.35,157.59Z" fill="#fcb3b8"/><path d="M147.04,25.97 153.46,25.97 152.16,30.33 145.31,30.33Z" fill="#7e1614"/><path d="M256.08,25.97 262.50,25.97 268.91,25.97 275.40,30.33 268.55,30.33 261.71,30.33ZM56.31,30.33 63.15,30.33 56.89,34.96 49.65,34.96ZM111.08,30.33 117.93,30.33 114.79,34.96 107.56,34.96ZM124.77,30.33 131.62,30.33 138.47,30.33 136.51,34.96 129.27,34.96 122.03,34.96ZM152.16,30.33 159.01,30.33 165.85,30.33 172.70,30.33 172.70,34.96 165.46,34.96 158.22,34.96 150.99,34.96ZM248.01,30.33 254.86,30.33 259.56,34.96 252.32,34.96ZM261.71,30.33 268.55,30.33 275.40,30.33 281.27,34.96 274.04,34.96 266.80,34.96ZM56.89,34.96 64.13,34.96 71.36,34.96 66.18,39.82 58.57,39.82 50.96,39.82ZM85.84,34.96 93.08,34.96 100.32,34.96 96.61,39.82 89.00,39.82 81.39,39.82ZM114.79,34.96 122.03,34.96 119.44,39.82 111.83,39.82ZM129.27,34.96 136.51,34.96 134.66,39.82 127.05,39.82ZM143.75,34.96 150.99,34.96 149.87,39.82 142.26,39.82ZM158.22,34.96 165.46,34.96 172.70,34.96 172.70,39.82 165.09,39.82 157.48,39.82ZM245.08,34.96 252.32,34.96 256.40,39.82 248.79,39.82ZM259.56,34.96 266.80,34.96 274.04,34.96 279.22,39.82 271.62,39.82 264.01,39.82ZM288.51,34.96 295.75,34.96 302.99,34.96 309.66,39.82 302.05,39.82 294.44,39.82ZM73.78,39.82 81.39,39.82 89.00,39.82 96.61,39.82 93.14,44.84 85.19,44.84 77.23,44.84 69.28,44.84ZM111.83,39.82 119.44,39.82 127.05,39.82 134.66,39.82 132.92,44.84 124.97,44.84 117.01,44.84 109.05,44.84ZM165.09,39.82 172.70,39.82 172.70,44.84 164.74,44.84ZM256.40,39.82 264.01,39.82 271.62,39.82 279.22,39.82 284.08,44.84 276.12,44.84 268.17,44.84 260.21,44.84ZM294.44,39.82 302.05,39.82 309.66,39.82 315.90,44.84 307.95,44.84 299.99,44.84ZM77.23,44.84 85.19,44.84 93.14,44.84 90.01,50.01 81.74,50.01 73.47,50.01ZM101.10,44.84 109.05,44.84 106.55,50.01 98.28,50.01ZM117.01,44.84 124.97,44.84 132.92,44.84 131.35,50.01 123.09,50.01 114.82,50.01ZM140.88,44.84 148.83,44.84 147.89,50.01 139.62,50.01ZM164.74,44.84 172.70,44.84 172.70,50.01 164.43,50.01ZM268.17,44.84 276.12,44.84 284.08,44.84 288.47,50.01 280.20,50.01 271.93,50.01ZM292.04,44.84 299.99,44.84 307.95,44.84 315.90,44.84 321.54,50.01 313.28,50.01 305.01,50.01 296.74,50.01ZM81.74,50.01 90.01,50.01 87.31,55.28 78.77,55.28ZM114.82,50.01 123.09,50.01 131.35,50.01 130.01,55.28 121.47,55.28 112.93,55.28ZM139.62,50.01 147.89,50.01 156.16,50.01 164.43,50.01 164.16,55.28 155.62,55.28 147.08,55.28 138.54,55.28ZM280.20,50.01 288.47,50.01 296.74,50.01 305.01,50.01 313.28,50.01 321.54,50.01 326.40,55.28 317.86,55.28 309.32,55.28 300.78,55.28 292.24,55.28 283.70,55.28ZM27.54,55.28 36.08,55.28 32.21,60.62 23.43,60.62ZM70.23,55.28 78.77,55.28 87.31,55.28 84.89,60.62 76.11,60.62 67.33,60.62ZM121.47,55.28 130.01,55.28 128.80,60.62 120.02,60.62ZM147.08,55.28 155.62,55.28 155.14,60.62 146.36,60.62ZM164.16,55.28 172.70,55.28 172.70,60.62 163.92,60.62ZM292.24,55.28 300.78,55.28 309.32,55.28 317.86,55.28 326.40,55.28 330.75,60.62 321.97,60.62 313.19,60.62 304.41,60.62 295.63,60.62ZM32.21,60.62 40.99,60.62 37.97,66.00 28.99,66.00ZM67.33,60.62 76.11,60.62 84.89,60.62 93.67,60.62 91.86,66.00 82.88,66.00 73.90,66.00 64.92,66.00ZM102.45,60.62 111.23,60.62 109.83,66.00 100.85,66.00ZM120.02,60.62 128.80,60.62 127.79,66.00 118.81,66.00ZM137.58,60.62 146.36,60.62 155.14,60.62 163.92,60.62 163.72,66.00 154.74,66.00 145.75,66.00 136.77,66.00ZM295.63,60.62 304.41,60.62 313.19,60.62 321.97,60.62 330.75,60.62 334.37,66.00 325.39,66.00 316.41,66.00 307.43,66.00 298.45,66.00ZM11.03,66.00 20.01,66.00 17.21,71.40 8.06,71.40ZM64.92,66.00 73.90,66.00 82.88,66.00 81.23,71.40 72.09,71.40 62.94,71.40ZM109.83,66.00 118.81,66.00 127.79,66.00 136.77,66.00 136.11,71.40 126.97,71.40 117.82,71.40 108.67,71.40ZM154.74,66.00 163.72,66.00 163.55,71.40 154.41,71.40ZM235.57,66.00 244.55,66.00 245.87,71.40 236.73,71.40ZM280.48,66.00 289.46,66.00 291.61,71.40 282.46,71.40ZM298.45,66.00 307.43,66.00 316.41,66.00 325.39,66.00 334.37,66.00 337.34,71.40 328.19,71.40 319.05,71.40 309.90,71.40 300.75,71.40ZM154.41,71.40 163.55,71.40 163.43,76.80 154.16,76.80ZM190.99,71.40 200.14,71.40 200.51,76.80 191.24,76.80ZM218.43,71.40 227.58,71.40 236.73,71.40 237.59,76.80 228.32,76.80 219.05,76.80ZM255.02,71.40 264.17,71.40 265.41,76.80 256.13,76.80ZM282.46,71.40 291.61,71.40 300.75,71.40 309.90,71.40 311.76,76.80 302.49,76.80 293.22,76.80 283.95,76.80ZM181.97,76.80 191.24,76.80 191.42,82.20 182.06,82.20ZM219.05,76.80 228.32,76.80 228.85,82.20 219.49,82.20ZM256.13,76.80 265.41,76.80 274.68,76.80 283.95,76.80 293.22,76.80 302.49,76.80 303.71,82.20 294.36,82.20 285.00,82.20 275.64,82.20 266.28,82.20 256.92,82.20ZM163.34,82.20 172.70,82.20 182.06,82.20 182.13,87.60 172.70,87.60 163.27,87.60ZM210.13,82.20 219.49,82.20 219.86,87.60 210.43,87.60ZM266.28,82.20 275.64,82.20 276.46,87.60 267.02,87.60ZM163.27,87.60 172.70,87.60 182.13,87.60 182.18,93.00 172.70,93.00 163.22,93.00ZM182.23,103.80 191.76,103.80 191.73,109.20 182.21,109.20ZM115.61,109.20 125.13,109.20 134.64,109.20 134.76,114.60 125.28,114.60 115.80,114.60ZM182.21,109.20 191.73,109.20 201.24,109.20 201.15,114.60 191.67,114.60 182.18,114.60ZM115.80,114.60 125.28,114.60 134.76,114.60 134.97,120.00 125.54,120.00 116.10,120.00ZM12.35,120.00 21.78,120.00 22.97,125.40 13.61,125.40ZM116.10,120.00 125.54,120.00 134.97,120.00 135.27,125.40 125.91,125.40 116.55,125.40ZM13.61,125.40 22.97,125.40 32.33,125.40 33.64,130.80 24.37,130.80 15.10,130.80ZM182.06,125.40 191.42,125.40 200.77,125.40 200.51,130.80 191.24,130.80 181.97,130.80ZM5.83,130.80 15.10,130.80 17.21,136.20 8.06,136.20ZM24.37,130.80 33.64,130.80 42.91,130.80 44.65,136.20 35.50,136.20 26.35,136.20ZM35.50,136.20 44.65,136.20 53.79,136.20 55.94,141.60 46.95,141.60 37.97,141.60ZM20.01,141.60 28.99,141.60 37.97,141.60 46.95,141.60 49.77,146.98 40.99,146.98 32.21,146.98 23.43,146.98ZM307.43,141.60 316.41,141.60 313.19,146.98 304.41,146.98ZM14.65,146.98 23.43,146.98 32.21,146.98 36.08,152.32 27.54,152.32 19.00,152.32Z" fill="#fa8a92"/><path d="M42.41,34.96 49.65,34.96 43.35,39.82 35.74,39.82ZM43.35,39.82 50.96,39.82 58.57,39.82 53.36,44.84 45.41,44.84 37.45,44.84ZM37.45,44.84 45.41,44.84 40.39,50.01 32.12,50.01ZM53.36,44.84 61.32,44.84 56.93,50.01 48.66,50.01ZM40.39,50.01 48.66,50.01 44.62,55.28 36.08,55.28ZM53.16,55.28 61.70,55.28 58.55,60.62 49.77,60.62ZM95.85,55.28 104.39,55.28 102.45,60.62 93.67,60.62ZM58.55,60.62 67.33,60.62 64.92,66.00 55.94,66.00ZM46.95,66.00 55.94,66.00 53.79,71.40 44.65,71.40ZM26.35,71.40 35.50,71.40 44.65,71.40 42.91,76.80 33.64,76.80 24.37,76.80ZM90.38,71.40 99.53,71.40 98.54,76.80 89.27,76.80ZM5.83,76.80 15.10,76.80 13.61,82.20 4.25,82.20ZM89.27,76.80 98.54,76.80 107.81,76.80 107.19,82.20 97.83,82.20 88.48,82.20ZM4.25,82.20 13.61,82.20 12.35,87.60 2.91,87.60ZM69.76,82.20 79.12,82.20 88.48,82.20 97.83,82.20 97.24,87.60 87.81,87.60 78.37,87.60 68.94,87.60ZM125.91,82.20 135.27,82.20 144.63,82.20 144.40,87.60 134.97,87.60 125.54,87.60ZM191.42,82.20 200.77,82.20 201.00,87.60 191.56,87.60ZM228.85,82.20 238.21,82.20 238.73,87.60 229.29,87.60ZM2.91,87.60 12.35,87.60 11.47,93.00 1.99,93.00ZM68.94,87.60 78.37,87.60 87.81,87.60 97.24,87.60 96.83,93.00 87.34,93.00 77.86,93.00 68.38,93.00ZM125.54,87.60 134.97,87.60 144.40,87.60 144.25,93.00 134.76,93.00 125.28,93.00ZM191.56,87.60 201.00,87.60 201.15,93.00 191.67,93.00ZM229.29,87.60 238.73,87.60 248.16,87.60 248.57,93.00 239.09,93.00 229.60,93.00ZM1.99,93.00 11.47,93.00 10.95,98.40 1.44,98.40ZM68.38,93.00 77.86,93.00 87.34,93.00 96.83,93.00 96.58,98.40 87.07,98.40 77.56,98.40 68.04,98.40ZM115.80,93.00 125.28,93.00 134.76,93.00 134.64,98.40 125.13,98.40 115.61,98.40ZM182.18,93.00 191.67,93.00 201.15,93.00 201.24,98.40 191.73,98.40 182.21,98.40ZM220.12,93.00 229.60,93.00 239.09,93.00 248.57,93.00 248.82,98.40 239.30,98.40 229.79,98.40 220.27,98.40ZM267.54,93.00 277.02,93.00 286.51,93.00 286.87,98.40 277.36,98.40 267.84,98.40ZM314.96,93.00 324.44,93.00 333.93,93.00 343.41,93.00 343.96,98.40 334.45,98.40 324.93,98.40 315.42,98.40ZM1.44,98.40 10.95,98.40 10.73,103.80 1.20,103.80ZM77.56,98.40 87.07,98.40 96.58,98.40 96.48,103.80 86.95,103.80 77.42,103.80ZM115.61,98.40 125.13,98.40 134.64,98.40 134.59,103.80 125.06,103.80 115.53,103.80ZM220.27,98.40 229.79,98.40 239.30,98.40 248.82,98.40 248.92,103.80 239.39,103.80 229.87,103.80 220.34,103.80ZM267.84,98.40 277.36,98.40 286.87,98.40 287.03,103.80 277.51,103.80 267.98,103.80ZM305.90,98.40 315.42,98.40 324.93,98.40 334.45,98.40 343.96,98.40 344.20,103.80 334.67,103.80 325.14,103.80 315.62,103.80 306.09,103.80ZM1.20,103.80 10.73,103.80 10.95,109.20 1.44,109.20ZM96.48,103.80 106.01,103.80 106.10,109.20 96.58,109.20ZM115.53,103.80 125.06,103.80 125.13,109.20 115.61,109.20ZM134.59,103.80 144.12,103.80 153.64,103.80 153.67,109.20 144.16,109.20 134.64,109.20ZM163.17,103.80 172.70,103.80 172.70,109.20 163.19,109.20ZM220.34,103.80 229.87,103.80 239.39,103.80 239.30,109.20 229.79,109.20 220.27,109.20ZM258.45,103.80 267.98,103.80 277.51,103.80 287.03,103.80 296.56,103.80 306.09,103.80 315.62,103.80 325.14,103.80 334.67,103.80 344.20,103.80 343.96,109.20 334.45,109.20 324.93,109.20 315.42,109.20 305.90,109.20 296.39,109.20 286.87,109.20 277.36,109.20 267.84,109.20 258.33,109.20ZM1.44,109.20 10.95,109.20 11.47,114.60 1.99,114.60ZM96.58,109.20 106.10,109.20 106.31,114.60 96.83,114.60ZM134.64,109.20 144.16,109.20 153.67,109.20 153.73,114.60 144.25,114.60 134.76,114.60ZM163.19,109.20 172.70,109.20 182.21,109.20 182.18,114.60 172.70,114.60 163.22,114.60ZM210.76,109.20 220.27,109.20 229.79,109.20 239.30,109.20 239.09,114.60 229.60,114.60 220.12,114.60 210.64,114.60ZM267.84,109.20 277.36,109.20 286.87,109.20 296.39,109.20 305.90,109.20 315.42,109.20 324.93,109.20 334.45,109.20 333.93,114.60 324.44,114.60 314.96,114.60 305.48,114.60 295.99,114.60 286.51,114.60 277.02,114.60 267.54,114.60ZM20.96,114.60 30.44,114.60 31.21,120.00 21.78,120.00ZM96.83,114.60 106.31,114.60 106.67,120.00 97.24,120.00ZM144.25,114.60 153.73,114.60 153.83,120.00 144.40,120.00ZM172.70,114.60 182.18,114.60 182.13,120.00 172.70,120.00ZM210.64,114.60 220.12,114.60 219.86,120.00 210.43,120.00ZM229.60,114.60 239.09,114.60 238.73,120.00 229.29,120.00ZM258.06,114.60 267.54,114.60 277.02,114.60 286.51,114.60 295.99,114.60 305.48,114.60 314.96,114.60 324.44,114.60 323.62,120.00 314.19,120.00 304.75,120.00 295.32,120.00 285.89,120.00 276.46,120.00 267.02,120.00 257.59,120.00ZM31.21,120.00 40.65,120.00 50.08,120.00 51.04,125.40 41.69,125.40 32.33,125.40ZM106.67,120.00 116.10,120.00 116.55,125.40 107.19,125.40ZM144.40,120.00 153.83,120.00 153.98,125.40 144.63,125.40ZM172.70,120.00 182.13,120.00 182.06,125.40 172.70,125.40ZM210.43,120.00 219.86,120.00 219.49,125.40 210.13,125.40ZM238.73,120.00 248.16,120.00 257.59,120.00 267.02,120.00 276.46,120.00 285.89,120.00 295.32,120.00 304.75,120.00 314.19,120.00 323.62,120.00 322.43,125.40 313.07,125.40 303.71,125.40 294.36,125.40 285.00,125.40 275.64,125.40 266.28,125.40 256.92,125.40 247.57,125.40 238.21,125.40ZM51.04,125.40 60.40,125.40 61.45,130.80 52.18,130.80ZM107.19,125.40 116.55,125.40 117.08,130.80 107.81,130.80ZM135.27,125.40 144.63,125.40 153.98,125.40 154.16,130.80 144.89,130.80 135.62,130.80ZM172.70,125.40 182.06,125.40 181.97,130.80 172.70,130.80ZM200.77,125.40 210.13,125.40 209.78,130.80 200.51,130.80ZM247.57,125.40 256.92,125.40 266.28,125.40 275.64,125.40 285.00,125.40 294.36,125.40 303.71,125.40 302.49,130.80 293.22,130.80 283.95,130.80 274.68,130.80 265.41,130.80 256.13,130.80 246.86,130.80ZM313.07,125.40 322.43,125.40 331.79,125.40 330.30,130.80 321.03,130.80 311.76,130.80ZM61.45,130.80 70.72,130.80 72.09,136.20 62.94,136.20ZM107.81,130.80 117.08,130.80 117.82,136.20 108.67,136.20ZM126.35,130.80 135.62,130.80 136.11,136.20 126.97,136.20ZM172.70,130.80 181.97,130.80 181.85,136.20 172.70,136.20ZM200.51,130.80 209.78,130.80 209.29,136.20 200.14,136.20ZM256.13,130.80 265.41,130.80 274.68,130.80 283.95,130.80 293.22,130.80 302.49,130.80 300.75,136.20 291.61,136.20 282.46,136.20 273.31,136.20 264.17,136.20 255.02,136.20ZM311.76,130.80 321.03,130.80 330.30,130.80 328.19,136.20 319.05,136.20 309.90,136.20ZM62.94,136.20 72.09,136.20 73.90,141.60 64.92,141.60ZM108.67,136.20 117.82,136.20 126.97,136.20 127.79,141.60 118.81,141.60 109.83,141.60ZM172.70,136.20 181.85,136.20 190.99,136.20 190.66,141.60 181.68,141.60 172.70,141.60ZM200.14,136.20 209.29,136.20 218.43,136.20 217.61,141.60 208.63,141.60 199.65,141.60ZM227.58,136.20 236.73,136.20 235.57,141.60 226.59,141.60ZM255.02,136.20 264.17,136.20 273.31,136.20 282.46,136.20 291.61,136.20 289.46,141.60 280.48,141.60 271.50,141.60 262.52,141.60 253.54,141.60ZM309.90,136.20 319.05,136.20 328.19,136.20 325.39,141.60 316.41,141.60 307.43,141.60ZM64.92,141.60 73.90,141.60 76.11,146.98 67.33,146.98ZM118.81,141.60 127.79,141.60 128.80,146.98 120.02,146.98ZM172.70,141.60 181.68,141.60 181.48,146.98 172.70,146.98ZM190.66,141.60 199.65,141.60 208.63,141.60 217.61,141.60 216.60,146.98 207.82,146.98 199.04,146.98 190.26,146.98ZM253.54,141.60 262.52,141.60 271.50,141.60 280.48,141.60 278.07,146.98 269.29,146.98 260.51,146.98 251.73,146.98ZM325.39,141.60 334.37,141.60 330.75,146.98 321.97,146.98ZM40.99,146.98 49.77,146.98 58.55,146.98 61.70,152.32 53.16,152.32 44.62,152.32ZM67.33,146.98 76.11,146.98 78.77,152.32 70.23,152.32ZM111.23,146.98 120.02,146.98 121.47,152.32 112.93,152.32ZM137.58,146.98 146.36,146.98 147.08,152.32 138.54,152.32ZM172.70,146.98 181.48,146.98 181.24,152.32 172.70,152.32ZM199.04,146.98 207.82,146.98 216.60,146.98 225.38,146.98 223.93,152.32 215.39,152.32 206.86,152.32 198.32,152.32ZM286.85,146.98 295.63,146.98 304.41,146.98 313.19,146.98 309.32,152.32 300.78,152.32 292.24,152.32 283.70,152.32ZM19.00,152.32 27.54,152.32 32.12,157.59 23.86,157.59ZM121.47,152.32 130.01,152.32 131.35,157.59 123.09,157.59ZM123.09,157.59 131.35,157.59 132.92,162.76 124.97,162.76Z" fill="#fdd8dc"/><path d="M45.41,44.84 53.36,44.84 48.66,50.01 40.39,50.01ZM55.94,66.00 64.92,66.00 62.94,71.40 53.79,71.40ZM44.65,71.40 53.79,71.40 62.94,71.40 72.09,71.40 70.72,76.80 61.45,76.80 52.18,76.80 42.91,76.80ZM15.10,76.80 24.37,76.80 33.64,76.80 32.33,82.20 22.97,82.20 13.61,82.20ZM42.91,76.80 52.18,76.80 51.04,82.20 41.69,82.20ZM61.45,76.80 70.72,76.80 69.76,82.20 60.40,82.20ZM13.61,82.20 22.97,82.20 32.33,82.20 31.21,87.60 21.78,87.60 12.35,87.60ZM41.69,82.20 51.04,82.20 50.08,87.60 40.65,87.60ZM60.40,82.20 69.76,82.20 68.94,87.60 59.51,87.60ZM12.35,87.60 21.78,87.60 31.21,87.60 40.65,87.60 50.08,87.60 59.51,87.60 68.94,87.60 68.38,93.00 58.89,93.00 49.41,93.00 39.92,93.00 30.44,93.00 20.96,93.00 11.47,93.00ZM11.47,93.00 20.96,93.00 30.44,93.00 39.92,93.00 49.41,93.00 58.89,93.00 68.38,93.00 68.04,98.40 58.53,98.40 49.01,98.40 39.50,98.40 29.98,98.40 20.47,98.40 10.95,98.40ZM10.95,98.40 20.47,98.40 29.98,98.40 39.50,98.40 39.31,103.80 29.78,103.80 20.26,103.80 10.73,103.80ZM58.53,98.40 68.04,98.40 77.56,98.40 77.42,103.80 67.89,103.80 58.37,103.80ZM10.73,103.80 20.26,103.80 29.78,103.80 39.31,103.80 48.84,103.80 49.01,109.20 39.50,109.20 29.98,109.20 20.47,109.20 10.95,109.20ZM67.89,103.80 77.42,103.80 86.95,103.80 96.48,103.80 96.58,109.20 87.07,109.20 77.56,109.20 68.04,109.20ZM153.64,103.80 163.17,103.80 163.19,109.20 153.67,109.20ZM10.95,109.20 20.47,109.20 29.98,109.20 39.50,109.20 49.01,109.20 58.53,109.20 68.04,109.20 77.56,109.20 87.07,109.20 96.58,109.20 96.83,114.60 87.34,114.60 77.86,114.60 68.38,114.60 58.89,114.60 49.41,114.60 39.92,114.60 30.44,114.60 20.96,114.60 11.47,114.60ZM153.67,109.20 163.19,109.20 163.22,114.60 153.73,114.60ZM30.44,114.60 39.92,114.60 49.41,114.60 58.89,114.60 68.38,114.60 68.94,120.00 59.51,120.00 50.08,120.00 40.65,120.00 31.21,120.00ZM153.73,114.60 163.22,114.60 172.70,114.60 172.70,120.00 163.27,120.00 153.83,120.00ZM220.12,114.60 229.60,114.60 229.29,120.00 219.86,120.00ZM50.08,120.00 59.51,120.00 68.94,120.00 69.76,125.40 60.40,125.40 51.04,125.40ZM153.83,120.00 163.27,120.00 172.70,120.00 172.70,125.40 163.34,125.40 153.98,125.40ZM219.86,120.00 229.29,120.00 238.73,120.00 238.21,125.40 228.85,125.40 219.49,125.40ZM60.40,125.40 69.76,125.40 79.12,125.40 79.99,130.80 70.72,130.80 61.45,130.80ZM153.98,125.40 163.34,125.40 172.70,125.40 172.70,130.80 163.43,130.80 154.16,130.80ZM210.13,125.40 219.49,125.40 228.85,125.40 238.21,125.40 247.57,125.40 246.86,130.80 237.59,130.80 228.32,130.80 219.05,130.80 209.78,130.80ZM70.72,130.80 79.99,130.80 81.23,136.20 72.09,136.20ZM135.62,130.80 144.89,130.80 154.16,130.80 163.43,130.80 163.55,136.20 154.41,136.20 145.26,136.20 136.11,136.20ZM209.78,130.80 219.05,130.80 228.32,130.80 237.59,130.80 246.86,130.80 256.13,130.80 255.02,136.20 245.87,136.20 236.73,136.20 227.58,136.20 218.43,136.20 209.29,136.20ZM72.09,136.20 81.23,136.20 82.88,141.60 73.90,141.60ZM126.97,136.20 136.11,136.20 145.26,136.20 154.41,136.20 154.74,141.60 145.75,141.60 136.77,141.60 127.79,141.60ZM218.43,136.20 227.58,136.20 226.59,141.60 217.61,141.60ZM236.73,136.20 245.87,136.20 255.02,136.20 253.54,141.60 244.55,141.60 235.57,141.60ZM73.90,141.60 82.88,141.60 91.86,141.60 93.67,146.98 84.89,146.98 76.11,146.98ZM109.83,141.60 118.81,141.60 120.02,146.98 111.23,146.98ZM127.79,141.60 136.77,141.60 145.75,141.60 154.74,141.60 155.14,146.98 146.36,146.98 137.58,146.98 128.80,146.98ZM181.68,141.60 190.66,141.60 190.26,146.98 181.48,146.98ZM217.61,141.60 226.59,141.60 235.57,141.60 244.55,141.60 253.54,141.60 251.73,146.98 242.95,146.98 234.17,146.98 225.38,146.98 216.60,146.98ZM76.11,146.98 84.89,146.98 87.31,152.32 78.77,152.32ZM181.48,146.98 190.26,146.98 189.78,152.32 181.24,152.32ZM251.73,146.98 260.51,146.98 269.29,146.98 266.63,152.32 258.09,152.32 249.55,152.32ZM313.19,146.98 321.97,146.98 330.75,146.98 326.40,152.32 317.86,152.32 309.32,152.32ZM27.54,152.32 36.08,152.32 44.62,152.32 53.16,152.32 61.70,152.32 70.23,152.32 73.47,157.59 65.20,157.59 56.93,157.59 48.66,157.59 40.39,157.59 32.12,157.59ZM112.93,152.32 121.47,152.32 123.09,157.59 114.82,157.59ZM138.54,152.32 147.08,152.32 147.89,157.59 139.62,157.59ZM181.24,152.32 189.78,152.32 198.32,152.32 206.86,152.32 205.78,157.59 197.51,157.59 189.24,157.59 180.97,157.59ZM223.93,152.32 232.47,152.32 230.58,157.59 222.31,157.59ZM258.09,152.32 266.63,152.32 263.66,157.59 255.39,157.59ZM283.70,152.32 292.24,152.32 288.47,157.59 280.20,157.59ZM40.39,157.59 48.66,157.59 53.36,162.76 45.41,162.76ZM106.55,157.59 114.82,157.59 123.09,157.59 124.97,162.76 117.01,162.76 109.05,162.76ZM131.35,157.59 139.62,157.59 147.89,157.59 148.83,162.76 140.88,162.76 132.92,162.76ZM189.24,157.59 197.51,157.59 205.78,157.59 214.05,157.59 222.31,157.59 220.43,162.76 212.48,162.76 204.52,162.76 196.57,162.76 188.61,162.76ZM247.12,157.59 255.39,157.59 252.26,162.76 244.30,162.76ZM271.93,157.59 280.20,157.59 288.47,157.59 284.08,162.76 276.12,162.76 268.17,162.76ZM109.05,162.76 117.01,162.76 124.97,162.76 132.92,162.76 140.88,162.76 148.83,162.76 156.79,162.76 164.74,162.76 172.70,162.76 172.70,167.78 165.09,167.78 157.48,167.78 149.87,167.78 142.26,167.78 134.66,167.78 127.05,167.78 119.44,167.78 111.83,167.78ZM188.61,162.76 196.57,162.76 204.52,162.76 212.48,162.76 210.74,167.78 203.14,167.78 195.53,167.78 187.92,167.78ZM252.26,162.76 260.21,162.76 256.40,167.78 248.79,167.78ZM119.44,167.78 127.05,167.78 134.66,167.78 142.26,167.78 143.75,172.64 136.51,172.64 129.27,172.64 122.03,172.64ZM203.14,167.78 210.74,167.78 218.35,167.78 225.96,167.78 223.37,172.64 216.13,172.64 208.89,172.64 201.65,172.64ZM172.70,172.64 179.94,172.64 179.55,177.27 172.70,177.27ZM201.65,172.64 208.89,172.64 216.13,172.64 223.37,172.64 220.63,177.27 213.78,177.27 206.93,177.27 200.09,177.27ZM172.70,177.27 179.55,177.27 179.11,181.63 172.70,181.63ZM200.09,177.27 206.93,177.27 213.78,177.27 211.18,181.63 204.77,181.63 198.36,181.63Z" fill="#ffffff"/><path d="M33.64,76.80 42.91,76.80 41.69,82.20 32.33,82.20ZM52.18,76.80 61.45,76.80 60.40,82.20 51.04,82.20ZM32.33,82.20 41.69,82.20 40.65,87.60 31.21,87.60ZM51.04,82.20 60.40,82.20 59.51,87.60 50.08,87.60ZM39.50,98.40 49.01,98.40 58.53,98.40 58.37,103.80 48.84,103.80 39.31,103.80ZM48.84,103.80 58.37,103.80 67.89,103.80 68.04,109.20 58.53,109.20 49.01,109.20ZM68.38,114.60 77.86,114.60 87.34,114.60 96.83,114.60 97.24,120.00 87.81,120.00 78.37,120.00 68.94,120.00ZM68.94,120.00 78.37,120.00 87.81,120.00 97.24,120.00 106.67,120.00 107.19,125.40 97.83,125.40 88.48,125.40 79.12,125.40 69.76,125.40ZM79.12,125.40 88.48,125.40 97.83,125.40 107.19,125.40 107.81,130.80 98.54,130.80 89.27,130.80 79.99,130.80ZM79.99,130.80 89.27,130.80 98.54,130.80 107.81,130.80 108.67,136.20 99.53,136.20 90.38,136.20 81.23,136.20ZM163.43,130.80 172.70,130.80 172.70,136.20 163.55,136.20ZM81.23,136.20 90.38,136.20 99.53,136.20 108.67,136.20 109.83,141.60 100.85,141.60 91.86,141.60 82.88,141.60ZM154.41,136.20 163.55,136.20 172.70,136.20 172.70,141.60 163.72,141.60 154.74,141.60ZM91.86,141.60 100.85,141.60 109.83,141.60 111.23,146.98 102.45,146.98 93.67,146.98ZM154.74,141.60 163.72,141.60 172.70,141.60 172.70,146.98 163.92,146.98 155.14,146.98ZM84.89,146.98 93.67,146.98 102.45,146.98 111.23,146.98 112.93,152.32 104.39,152.32 95.85,152.32 87.31,152.32ZM146.36,146.98 155.14,146.98 163.92,146.98 172.70,146.98 172.70,152.32 164.16,152.32 155.62,152.32 147.08,152.32ZM225.38,146.98 234.17,146.98 242.95,146.98 251.73,146.98 249.55,152.32 241.01,152.32 232.47,152.32 223.93,152.32ZM70.23,152.32 78.77,152.32 87.31,152.32 95.85,152.32 104.39,152.32 112.93,152.32 114.82,157.59 106.55,157.59 98.28,157.59 90.01,157.59 81.74,157.59 73.47,157.59ZM147.08,152.32 155.62,152.32 164.16,152.32 164.43,157.59 156.16,157.59 147.89,157.59ZM172.70,152.32 181.24,152.32 180.97,157.59 172.70,157.59ZM232.47,152.32 241.01,152.32 249.55,152.32 258.09,152.32 255.39,157.59 247.12,157.59 238.85,157.59 230.58,157.59ZM292.24,152.32 300.78,152.32 309.32,152.32 317.86,152.32 326.40,152.32 321.54,157.59 313.28,157.59 305.01,157.59 296.74,157.59 288.47,157.59ZM23.86,157.59 32.12,157.59 40.39,157.59 45.41,162.76 37.45,162.76 29.50,162.76ZM48.66,157.59 56.93,157.59 65.20,157.59 73.47,157.59 81.74,157.59 85.19,162.76 77.23,162.76 69.28,162.76 61.32,162.76 53.36,162.76ZM90.01,157.59 98.28,157.59 106.55,157.59 109.05,162.76 101.10,162.76 93.14,162.76ZM147.89,157.59 156.16,157.59 164.43,157.59 172.70,157.59 172.70,162.76 164.74,162.76 156.79,162.76 148.83,162.76ZM288.47,157.59 296.74,157.59 292.04,162.76 284.08,162.76ZM313.28,157.59 321.54,157.59 315.90,162.76 307.95,162.76ZM29.50,162.76 37.45,162.76 43.35,167.78 35.74,167.78ZM53.36,162.76 61.32,162.76 69.28,162.76 77.23,162.76 81.39,167.78 73.78,167.78 66.18,167.78 58.57,167.78ZM93.14,162.76 101.10,162.76 109.05,162.76 111.83,167.78 104.22,167.78 96.61,167.78ZM271.62,167.78 279.22,167.78 286.83,167.78 281.27,172.64 274.04,172.64 266.80,172.64Z" fill="#dddcee"/><path d="M164.16,152.32 172.70,152.32 172.70,157.59 164.43,157.59ZM81.74,157.59 90.01,157.59 93.14,162.76 85.19,162.76ZM296.74,157.59 305.01,157.59 313.28,157.59 307.95,162.76 299.99,162.76 292.04,162.76ZM37.45,162.76 45.41,162.76 53.36,162.76 58.57,167.78 50.96,167.78 43.35,167.78ZM77.23,162.76 85.19,162.76 93.14,162.76 96.61,167.78 89.00,167.78 81.39,167.78ZM284.08,162.76 292.04,162.76 299.99,162.76 307.95,162.76 302.05,167.78 294.44,167.78 286.83,167.78 279.22,167.78Z" fill="#bbb9dc"/></g>
<path d="M70.0,51.1 L93.4,51.1 L93.8,51.4 L95.1,51.5 L97.6,52.1 L98.8,51.8 L101.1,53.3 L101.3,53.7 L101.8,54.1 L102.5,55.0 L101.4,57.4 L100.5,58.4 L100.9,58.8 L104.4,57.6 L104.6,57.1 L107.2,56.1 L108.7,55.3 L111.6,55.3 L112.5,54.7 L113.5,53.5 L114.5,52.7 L115.3,52.7 L115.5,53.2 L115.1,54.5 L115.5,55.3M75.7,30.7 L65.7,39.5 L66.9,39.8 L67.3,40.6 L69.4,40.0 L69.7,41.3 L69.4,43.3 L70.1,43.9 L69.3,44.8M66.5,68.7 L68.8,68.5 L68.6,68.7 L71.6,70.0 L74.2,70.0 L74.3,69.5 L75.9,69.5 L77.0,71.8 L78.2,72.5 L79.0,71.6 L79.9,71.6 L81.0,74.1 L82.8,75.8M85.7,88.1 L86.0,86.5 L87.6,86.5 L87.8,84.6 L89.0,84.6 L89.9,83.8M88.6,87.5 L89.6,86.8M88.3,88.2 L89.7,89.3M88.6,87.5 L90.1,88.7 L92.5,88.1 L94.2,87.6M91.5,91.7 L93.4,92.0M93.9,94.8 L94.3,93.4M99.2,94.4 L98.7,96.0M104.6,91.3 L104.0,91.9 L104.0,94.6 L104.3,96.2 L106.2,96.2 L108.5,97.2 L108.2,99.5 L108.6,101.6 L109.0,102.5M115.7,94.6 L114.5,96.6 L115.0,98.4 L112.9,99.5 L111.0,99.3 L111.7,102.3 L109.0,102.5 L106.5,102.6 L106.6,105.0 L106.1,108.3M118.3,97.4 L117.5,99.5 L118.4,101.7M121.3,97.6 L121.1,100.6 L120.8,101.3M123.6,99.3 L122.3,101.4 L120.8,101.3 L119.4,101.6 L118.4,101.7 L115.7,102.3 L115.0,98.2M97.6,102.3 L99.3,103.4 L101.0,103.8 L101.0,104.8 L102.6,105.2 L106.1,108.3M96.3,107.5 L97.5,109.2 L98.1,107.5 L99.4,106.6 L101.0,104.8M106.1,108.3 L103.3,111.9 L102.9,113.5 L105.8,115.7 L106.8,115.7 L110.8,114.4 L111.7,117.2 L114.1,118.4 L115.8,120.0 L117.9,121.4 L118.2,125.2 L118.8,127.6 L120.8,127.9 L122.2,131.4M106.8,115.7 L107.7,117.3 L107.3,120.3 L107.8,121.6 L107.3,122.7 L106.6,123.6M107.3,122.7 L108.6,125.4 L109.6,128.4 L110.9,127.3 L112.8,128.4 L114.4,127.9 L114.9,125.0 L118.2,125.2M109.6,128.4 L110.5,130.3 L109.6,133.0 L109.0,136.2 L109.3,139.4 L109.6,142.7 L109.9,145.9 L110.8,150.2 L111.4,152.3 L111.9,155.5 L112.0,157.6 L113.6,159.3 L116.2,159.9M114.4,127.9 L117.0,129.7 L119.0,131.3 L122.2,131.4M122.2,131.4 L123.1,133.1 L121.4,134.0 L120.0,136.4 L119.8,138.4 L120.0,140.5M120.0,136.4 L121.6,137.3 L124.4,140.2M165.0,58.6 L165.7,58.5 L167.0,58.6 L166.7,59.5 L166.5,61.0 L166.2,62.3 L166.0,63.6M171.1,57.0 L173.3,57.6 L175.5,58.0M174.8,48.9 L176.2,50.1 L177.5,50.5 L178.0,50.5 L179.5,51.1 L179.1,52.5 L178.5,52.6 L177.8,53.9 L178.5,54.1 L178.7,55.0 L178.3,55.2 L178.7,56.1 L179.1,56.6M175.5,48.5 L176.4,48.4 L177.5,49.0 L177.6,49.2 L177.7,49.9M177.6,49.2 L177.6,48.0 L178.4,47.7 L178.5,46.7M179.5,44.9 L180.6,45.0M184.1,46.0 L184.5,47.3 L184.8,49.0 L185.0,49.0M182.7,49.7 L184.4,49.0 L185.0,49.0 L186.1,49.3 L186.7,49.7 L188.0,50.1 L188.5,50.5 L187.0,51.2 L186.5,51.3 L185.2,51.1 L184.2,51.3 L182.7,49.7M184.2,51.3 L183.6,51.9 L183.5,52.5 L181.5,52.6 L180.8,52.6 L179.9,52.4 L179.1,52.5M178.6,54.3 L179.9,53.9 L180.3,54.3 L181.6,53.7 L181.6,53.3 L183.0,53.2 L184.3,53.7 L186.2,53.5 L186.6,52.6 L186.9,52.1 L186.8,51.5M188.5,50.5 L191.4,50.9 L191.7,50.4 L192.5,49.5 L191.9,48.3 L192.1,47.2 L191.6,46.0 L190.9,45.5 L188.4,45.5M189.6,44.6 L190.9,45.5M189.3,43.7 L193.7,44.1M191.6,41.9 L194.1,42.3M194.1,40.4 L194.1,42.3 L194.5,43.0 L194.9,43.7M191.6,46.0 L193.1,45.6 L193.7,44.1 L194.9,43.7 L197.2,44.2 L199.1,46.6 L198.6,47.8M192.0,48.4 L193.9,48.0 L197.7,48.7 L198.6,47.8 L200.9,48.7 L201.8,49.4 L204.3,50.0 L205.9,50.4 L206.0,52.3 L204.9,53.1M191.2,51.7 L191.9,52.1 L193.6,52.4 L195.0,51.9 L196.3,51.9 L197.2,52.5 L198.2,53.8 L197.9,54.9M195.0,51.9 L196.4,53.5 L196.7,54.7M192.2,56.1 L194.2,56.7 L196.0,56.2 L197.3,56.7M191.2,51.7 L190.5,54.0 L189.9,54.1 L191.0,55.1 L192.2,56.1M187.1,52.1 L188.5,52.3 L189.7,51.6 L191.2,51.7M186.6,52.6 L186.3,53.3 L186.7,53.7 L188.7,54.3 L189.9,54.1M184.3,54.7 L185.6,54.7 L186.0,54.0 L186.7,53.7M186.1,55.1 L186.8,55.1 L188.9,55.3 L189.2,56.3 L188.7,57.9M189.3,55.4 L189.4,56.9 L188.7,57.4M189.6,58.5 L190.0,57.9 L190.6,58.6 L191.1,59.8 L190.9,60.6 L190.3,60.9M190.8,59.7 L192.7,59.2 L195.5,59.2 L195.8,58.6 L197.0,58.5M192.2,56.1 L192.1,57.4 L192.7,58.5 L192.7,59.2M190.6,58.6 L192.1,57.4 L190.0,57.9M182.1,40.8 L181.7,40.0 L182.1,38.8 L181.8,37.6 L182.8,35.6 L183.1,34.3 L184.2,32.6 L185.4,31.7 L187.0,31.1M187.0,31.1 L189.3,32.2 L190.1,34.2M187.0,31.1 L188.3,31.5 L190.5,31.3 L192.7,31.1 L192.6,30.3M192.7,31.1 L192.7,32.0 L193.8,32.4 L193.6,33.3 L194.3,34.3 L194.3,35.7 L195.1,36.4 L196.1,37.0 L193.8,39.3M205.0,64.3 L206.7,63.9 L208.9,63.7 L210.4,63.6 L212.6,63.6 L211.9,62.8 L211.9,60.9M208.9,59.0 L210.7,59.4 L211.0,60.4 L211.9,60.9M210.4,63.6 L209.6,64.5 L209.6,66.6 L207.8,67.7 L208.3,69.0 L206.4,69.8 L207.4,70.9 L206.1,71.9 L204.8,71.9M208.3,69.0 L211.0,70.2 L213.7,72.3 L215.4,72.4 L216.5,73.0M212.6,63.6 L213.4,65.0 L214.1,66.0 L213.6,67.1 L214.4,68.2 L216.0,69.2 L216.5,70.3 L217.1,71.5M204.9,68.7 L204.9,70.1 L204.8,71.9M203.8,70.0 L204.7,71.9M204.8,65.0 L205.7,66.9 L204.9,67.8 L204.5,68.0M213.0,86.1 L214.2,85.0 L216.3,85.2 L217.4,84.9 L218.7,83.7 L221.4,83.3 L224.2,82.2 L224.6,80.0 L224.1,79.3 L221.1,79.0 L220.6,77.6M221.4,83.3 L222.7,85.8M229.8,76.6 L230.6,74.4 L231.1,74.4 L230.4,73.2 L229.0,71.9 L228.4,71.6 L228.9,69.9 L227.3,67.5 L227.5,66.6 L227.6,65.4M227.6,65.4 L225.3,63.4 L223.6,62.9 L220.7,63.4M228.4,71.6 L231.6,71.9 L233.5,71.5 L234.6,69.7 L235.7,69.3 L236.3,67.2 L236.8,66.6 L236.3,64.8 L236.7,64.2 L239.1,63.8M227.6,65.4 L228.6,65.7 L230.3,64.6 L231.8,63.4 L233.3,63.8 L234.9,63.2 L236.1,62.9 L238.9,63.4M236.1,78.2 L238.1,77.4 L238.4,76.0 L237.1,73.8 L238.9,73.7 L240.3,71.4 L240.6,70.3 L240.3,68.4 L241.4,68.4 L242.4,65.5M242.4,65.5 L243.8,66.8 L244.5,68.7 L244.3,69.8 L246.1,71.1 L246.8,71.2 L248.3,72.0 L250.0,72.7 L251.9,73.7 L253.8,73.7 L254.6,74.5 L255.2,73.2 L257.1,73.8 L257.7,74.7 L259.4,72.3 L260.7,71.9 L262.2,73.2 L262.3,73.7M246.2,72.7 L248.3,74.1 L250.7,74.4 L254.2,75.3M254.8,79.9 L255.5,79.0 L255.0,77.6 L256.0,76.5 L258.1,76.7 L258.5,77.9 L258.1,78.2 L258.9,80.8M262.3,73.7 L264.0,75.8 L263.5,77.9 L264.6,77.8 L265.5,79.9 L267.2,80.7 L267.9,79.6 L269.1,79.3 L272.1,79.2 L273.4,80.6M266.3,81.8 L264.9,82.5 L264.4,83.7 L265.8,86.3 L265.7,88.6 L266.6,90.8 L266.3,92.6M266.3,81.8 L267.5,82.7 L267.7,84.9 L269.1,84.5 L271.1,84.9 L272.2,87.0 L272.3,88.2M269.1,79.3 L270.2,82.7 L272.3,85.1 L274.2,87.3 L274.3,88.1 L273.3,92.0 L271.8,92.6M269.8,90.6 L270.0,88.5 L272.3,88.2 L274.3,88.1M267.9,96.8 L268.8,97.0 L269.8,97.1M245.7,50.8 L249.8,54.5 L256.0,57.7 L259.9,57.7 L264.1,58.9 L268.1,57.5 L268.9,56.7 L268.0,55.8 L269.7,55.5 L272.0,53.6 L274.0,53.5 L271.6,52.1 L269.3,50.2M245.7,50.8 L248.5,49.2 L253.3,50.3 L252.7,47.9 L256.3,48.7 L259.1,49.7 L260.9,49.6 L263.6,50.7 L267.2,49.8 L269.3,50.2M269.3,50.2 L270.5,50.5 L271.3,49.3 L270.3,46.6 L272.2,46.4 L275.4,46.9 L278.3,50.2 L281.5,51.2 L282.7,52.4 L285.4,51.8 L286.4,54.7 L284.9,55.4 L285.9,57.5 L285.9,58.0M285.9,58.0 L285.0,58.0 L284.0,58.5 L282.9,59.5 L281.9,60.7M284.7,63.1 L285.3,62.4 L286.2,62.1M245.7,50.8 L244.8,53.2 L242.6,52.9 L242.9,54.7 L241.0,55.3 L242.1,57.6 L239.8,60.2 L237.6,61.2 L239.2,63.5 L239.6,63.8 L242.4,65.5M245.7,50.8 L244.6,50.2 L241.2,49.0 L238.4,49.1 L235.5,46.6 L234.0,45.7 L231.7,45.9 L228.9,44.5 L227.4,44.4 L224.8,45.5 L221.6,45.9 L222.2,48.3 L219.5,48.9 L218.6,49.4 L214.7,48.7 L212.8,49.4 L211.6,51.7 L212.0,52.6 L213.3,53.7M218.6,58.7 L221.5,59.2 L222.9,57.8 L225.0,55.9 L226.1,56.9 L228.5,56.7 L229.8,57.5 L232.8,59.1 L234.3,58.2 L236.4,57.9 L242.1,57.6M221.5,59.2 L222.5,59.2 L224.8,58.5 L226.7,59.4 L229.6,61.8 L231.8,63.4M232.8,59.1 L234.4,60.1 L237.6,61.2M233.3,63.8 L233.0,61.2 L234.4,60.1M207.2,57.0 L208.9,57.2 L210.8,57.7 L213.1,58.7 L214.8,58.7M210.7,59.4 L211.9,59.2 L213.3,59.4M211.9,60.9 L213.8,61.8 L215.2,62.2 L216.0,62.3M171.2,66.0 L171.1,66.5 L171.6,69.1 L169.3,69.9 L168.1,71.4 L164.7,72.8 L164.7,74.3 L161.6,75.7 L161.5,78.4 L160.6,79.0 L160.5,80.8 L156.8,80.8M164.7,74.3 L168.3,76.8 L167.1,81.0 L167.5,86.0 L161.9,87.1 L161.2,87.9M168.3,76.8 L173.8,81.4 L176.7,83.1 L178.1,82.7 L179.7,81.2 L183.9,78.4M180.4,63.9 L180.1,66.4 L179.5,67.9 L181.0,69.1 L181.4,71.2 L181.8,74.6 L181.9,76.3 L182.7,77.2 L183.8,78.4M195.4,69.7 L196.0,80.0 L196.1,82.2 L195.2,82.2 L195.2,82.7 L187.5,78.5 L185.9,79.4 L185.4,79.0M187.1,79.0 L187.6,81.8 L187.1,84.5 L185.5,89.0M196.0,80.0 L201.9,80.0 L207.1,80.0M195.2,82.7 L195.3,86.8 L194.0,88.7 L193.5,90.2 L194.4,91.8 L196.0,94.2 L198.8,98.4 L202.0,100.0 L205.0,99.3 L206.3,97.9 L205.1,94.5 L203.9,90.6 L205.5,92.0 L206.8,90.1 L207.2,88.4 L207.5,85.4 L208.9,84.4M205.0,99.3 L208.9,99.9 L211.7,99.5 L212.6,99.5 L215.4,98.5 L218.2,95.2 L214.5,94.1 L213.8,93.5 L213.3,91.9 L212.8,90.4M207.1,88.2 L208.5,87.7 L210.5,88.4 L212.1,89.4 L213.5,90.1M212.6,99.5 L211.7,100.8 L211.8,104.8 L212.3,105.6M161.2,87.9 L161.9,90.4 L163.0,90.9 L164.6,92.6 L164.9,91.5 L167.5,92.6 L167.5,91.8 L168.5,90.3 L170.0,87.6 L172.9,87.7 L173.9,87.3 L176.1,87.1 L176.7,85.5 L176.7,83.1M167.5,92.6 L170.0,92.0 L170.0,93.4 L170.3,95.2 L169.7,97.0 L170.0,98.4M172.7,91.9 L173.2,94.6 L173.8,97.2M175.3,97.0 L175.3,94.1 L176.1,91.2M176.1,91.2 L176.6,89.2 L179.1,89.7 L181.2,90.0 L184.5,89.2 L185.5,89.0M186.1,90.3 L185.6,92.8 L184.3,94.8 L183.0,96.3 L181.8,97.0 L180.8,98.9M186.1,90.3 L187.0,93.0 L187.4,95.7 L186.5,98.7 L187.9,101.4M187.9,101.4 L190.3,100.0 L193.9,99.4 L196.5,98.4 L198.8,98.4M187.4,95.7 L190.6,94.3 L193.4,92.0 L194.4,91.8M182.0,101.3 L183.5,101.3 L185.4,101.4 L187.9,101.4M185.4,101.4 L186.5,106.4 L183.9,108.3M190.3,100.0 L189.6,104.4 L188.4,105.6 L187.8,108.2 L184.4,110.3M184.4,110.3 L188.2,110.4 L189.4,112.5 L191.1,112.4 L193.4,111.7 L193.6,114.4 L195.4,115.7 L198.5,116.5 L200.1,118.3 L200.7,117.0 L199.9,113.0 L201.9,112.8M202.0,100.0 L200.9,105.3 L200.5,107.5 L200.6,110.5 L201.9,112.8M205.0,99.3 L205.6,102.2 L205.0,104.9 L208.6,107.1 L210.0,108.9M200.9,104.9 L205.0,104.9M211.0,114.9 L208.2,116.3 L206.1,116.1 L205.5,116.2 L204.3,114.1 L203.9,114.0 L201.9,112.8M205.5,116.2 L205.7,118.4 L206.0,119.5 L206.5,121.1 L205.8,122.3 L204.1,118.9 L203.6,118.5M201.4,120.6 L203.9,118.9M201.4,120.6 L199.9,121.1 L198.1,123.1 L196.5,123.0M193.5,117.8 L193.4,121.4 L194.8,123.1 L196.5,123.0M183.8,122.5 L185.3,122.2 L190.1,122.6 L192.4,123.2 L194.8,123.1M192.4,123.5 L192.3,127.6 L191.4,127.6 L191.2,130.6 L191.1,134.5M187.9,134.7 L191.1,134.5M191.2,130.6 L191.9,132.7 L194.0,131.0 L196.5,131.3 L197.8,129.7 L200.1,127.8 L198.6,125.9 L197.1,123.2 L196.5,123.0M200.1,127.8 L201.9,128.0 L203.1,126.5 L203.6,123.2 L203.5,121.2 L201.4,120.6M201.9,128.0 L202.4,130.3 L203.1,132.7M197.4,135.8 L198.6,134.8 L199.6,135.6 L198.9,136.4 L197.8,136.8 L197.4,135.8" fill="none" stroke="#000" stroke-width="1.15" stroke-linejoin="round"/>
<path d="M57.6,31.3 L61.5,30.1 L67.0,29.2 L69.6,29.6 L73.4,30.3 L75.7,30.7 L77.8,31.2 L80.8,30.8 L84.4,30.3 L87.3,30.8 L89.6,31.2 L92.6,31.7 L95.6,32.2 L99.1,31.4 L101.8,32.3 L104.0,32.2 L106.3,32.0 L108.0,30.8 L109.6,31.7 L111.4,32.6 L114.2,30.8 L115.2,32.2 L114.6,33.5 L111.8,34.0 L109.4,35.9 L108.3,35.9 L106.2,36.9 L103.7,37.9 L101.2,39.8 L100.1,40.8 L100.9,41.3 L100.4,42.8 L102.3,42.8 L103.6,43.3 L105.2,44.5 L107.2,44.8 L106.4,46.9 L106.9,48.4 L108.1,48.4 L109.2,46.4 L109.9,44.8 L112.2,43.3 L113.7,41.3 L113.6,39.3 L114.8,37.6 L117.6,37.7 L118.8,38.8 L120.3,38.8 L119.3,40.8 L121.0,41.3 L123.2,39.8 L123.2,40.8 L124.2,42.8 L124.4,44.3 L126.4,45.4 L127.2,47.4 L125.3,48.4 L123.2,49.8 L117.7,49.9 L115.1,51.6 L112.8,53.3 L115.5,51.6 L118.7,50.8 L119.0,51.6 L118.2,52.3 L118.0,53.4 L120.4,54.4 L121.8,54.2 L120.7,55.0 L118.3,55.7 L116.0,56.8 L116.4,55.1 L114.9,55.8 L112.5,56.7 L111.6,57.8 L111.8,58.7 L110.6,59.0 L107.9,60.0 L107.6,61.2 L105.9,62.2 L105.0,63.8 L104.8,65.8 L103.4,66.5 L101.9,67.3 L99.1,69.5 L98.2,71.4 L98.7,74.6 L98.4,76.3 L97.5,76.6 L97.2,75.0 L96.5,73.6 L96.9,71.9 L95.9,71.3 L94.4,71.7 L93.2,71.0 L91.4,71.1 L90.6,72.3 L89.3,72.2 L87.1,71.7 L85.6,72.2 L83.4,73.8 L82.5,75.7 L81.8,78.4 L81.9,80.6 L82.6,82.7 L84.0,84.1 L85.9,83.7 L87.4,83.6 L88.3,81.2 L90.1,80.7 L91.5,80.6 L90.7,82.7 L89.8,84.0 L89.7,86.2 L91.7,86.6 L93.5,87.0 L94.1,88.0 L93.6,90.8 L93.3,92.1 L94.7,93.9 L95.8,94.3 L97.3,93.4 L99.1,94.5 L99.3,94.9 L98.2,94.9 L97.0,94.2 L96.4,95.7 L95.1,95.1 L93.9,94.7 L91.4,93.1 L91.4,91.7 L90.0,89.4 L88.1,89.2 L86.3,88.7 L84.6,86.7 L83.2,86.4 L81.8,86.8 L80.0,86.2 L77.3,84.9 L75.6,84.0 L74.0,82.2 L74.4,80.6 L73.6,78.7 L72.2,76.5 L71.2,74.6 L70.6,73.6 L69.6,71.9 L69.2,70.3 L68.3,69.6 L68.3,71.2 L69.1,73.0 L69.3,75.0 L70.1,77.6 L70.8,79.0 L70.2,78.4 L68.8,77.0 L68.9,75.7 L67.3,73.8 L67.5,71.4 L66.8,69.5 L66.5,68.5 L65.9,67.1 L64.2,66.4 L63.9,64.3 L64.0,63.0 L63.7,61.2 L63.8,60.1 L64.9,58.5 L65.4,56.9 L67.7,53.9 L68.4,51.8 L69.7,51.9 L69.7,52.6 L70.3,51.1 L69.3,50.0 L68.0,49.0 L68.8,47.4 L68.6,45.7 L69.3,44.3 L69.0,43.3 L69.3,41.5 L68.6,40.8 L66.9,41.0 L66.1,40.1 L64.8,39.7 L63.2,39.7 L62.2,38.9 L60.3,39.6 L58.1,40.2 L56.3,40.6 L58.5,39.2 L57.1,39.4 L54.8,40.8 L53.1,42.0 L51.2,42.3 L48.0,43.5 L44.8,44.3 L41.3,45.4 L43.2,44.6 L47.0,43.3 L50.0,42.0 L51.5,41.0 L49.6,41.0 L49.2,40.0 L48.5,39.3 L48.7,38.3 L49.8,37.1 L51.4,36.7 L54.3,36.4 L55.6,35.4 L54.2,35.3 L51.9,35.3 L51.9,34.4 L55.5,33.5 L57.6,31.3M128.4,23.1 L134.0,21.6 L138.3,20.6 L144.3,20.3 L150.2,19.8 L155.9,19.7 L160.2,20.3 L161.2,20.9 L162.6,22.0 L161.2,23.1 L161.2,24.3 L159.9,26.0 L158.5,27.7 L156.8,28.1 L157.9,29.0 L157.7,30.2 L155.1,30.8 L151.7,32.0 L148.5,33.5 L145.4,34.4 L143.2,35.4 L141.5,37.4 L140.0,39.6 L138.5,39.6 L136.8,39.0 L135.6,37.4 L135.0,35.9 L134.7,34.0 L135.2,32.2 L137.2,30.8 L135.6,29.9 L136.4,29.0 L135.9,28.1 L135.8,25.5 L133.5,25.1 L130.4,25.1 L128.5,24.3 L128.4,23.1M121.6,28.1 L123.6,29.0 L125.1,29.9 L125.9,30.8 L126.1,32.2 L128.7,33.3 L126.7,35.0 L125.1,36.1 L123.3,37.4 L122.1,36.9 L120.1,36.4 L119.9,35.4 L117.8,35.4 L115.9,35.4 L120.0,33.5 L121.6,32.2 L119.8,31.7 L119.0,30.8 L116.4,30.5 L114.2,29.9 L112.5,29.4 L113.0,28.1 L117.1,27.2 L120.3,27.2 L121.6,28.1M93.4,29.0 L97.5,27.7 L99.8,28.0 L102.3,27.5 L102.5,29.3 L102.5,30.8 L99.3,31.2 L95.4,31.7 L92.1,30.8 L92.2,29.4 L93.4,29.0M116.3,24.7 L121.1,24.9 L123.9,24.3 L125.4,23.1 L128.8,22.7 L132.8,21.6 L137.2,20.6 L133.3,19.9 L127.5,20.1 L121.0,20.7 L118.7,21.6 L115.7,22.1 L115.0,23.1 L117.2,23.9 L116.3,24.7M121.1,26.3 L113.3,26.4 L114.6,25.1 L119.7,24.5 L122.3,25.0 L121.1,26.3M89.0,28.7 L93.7,26.6 L97.2,26.8 L96.5,27.7 L91.5,29.4 L89.0,28.7M98.2,25.5 L103.2,24.6 L105.5,25.3 L103.2,26.1 L99.7,26.4 L98.2,25.5M119.9,23.1 L119.9,21.6 L118.2,21.1 L115.9,22.0 L116.1,23.3 L119.9,23.1M105.7,28.1 L109.4,27.0 L112.2,26.8 L109.2,28.6 L106.8,29.0 L105.7,28.1M109.8,35.9 L113.8,35.4 L113.9,36.4 L110.3,37.4 L109.1,36.4 L109.8,35.9M122.9,52.5 L125.6,52.5 L127.9,53.5 L128.6,51.6 L126.7,50.2 L127.3,48.4 L126.1,48.4 L122.9,52.5M93.5,80.1 L95.4,79.0 L97.8,78.9 L100.4,80.3 L102.0,81.0 L103.3,82.0 L100.2,82.3 L99.8,81.6 L97.1,80.5 L95.8,80.0 L93.5,80.1M102.9,84.0 L104.6,82.3 L107.2,82.5 L108.5,83.7 L107.0,84.1 L105.5,84.8 L102.9,84.0M99.2,83.9 L101.2,84.3 L100.4,84.6 L99.3,84.1 L99.2,83.9M99.3,94.9 L100.1,94.2 L101.1,92.5 L102.4,91.7 L104.1,91.1 L105.1,90.4 L104.9,91.9 L106.4,91.4 L108.0,92.5 L110.1,92.4 L112.0,92.4 L113.5,92.2 L114.3,93.5 L115.3,94.6 L117.1,96.2 L118.5,97.3 L120.4,97.4 L122.3,97.9 L123.7,99.3 L124.6,101.9 L125.1,103.8 L126.5,104.9 L129.8,105.4 L132.7,106.8 L135.6,107.6 L137.3,109.0 L139.1,109.7 L139.6,111.9 L139.3,113.5 L137.6,115.7 L136.3,117.8 L135.9,120.5 L135.6,123.2 L134.6,127.0 L133.6,128.6 L131.3,129.0 L128.6,130.6 L127.9,132.4 L127.9,134.6 L126.7,137.3 L125.3,140.0 L124.5,141.0 L123.3,141.5 L121.4,141.1 L120.0,140.8 L121.4,142.7 L121.7,144.8 L118.0,145.9 L118.1,147.5 L115.9,148.1 L117.0,149.7 L116.8,152.3 L115.6,153.9 L117.4,155.5 L116.1,157.6 L116.4,159.9 L117.3,160.7 L119.8,162.8 L118.0,163.3 L115.3,161.7 L112.6,160.2 L109.8,156.5 L109.7,153.9 L109.6,151.3 L108.8,149.1 L107.8,145.9 L107.7,143.8 L107.8,140.5 L107.3,136.2 L107.0,133.0 L107.1,129.2 L106.9,124.3 L105.5,122.7 L101.5,120.0 L100.4,117.8 L98.2,114.1 L96.7,111.4 L95.4,109.2 L96.2,107.4 L95.7,105.4 L96.5,103.3 L97.4,102.2 L97.7,100.8 L98.9,99.5 L99.2,96.8 L98.6,95.9 L99.3,94.9M164.7,63.8 L164.8,62.0 L164.4,61.3 L165.0,59.5 L165.0,57.9 L164.7,57.4 L165.8,56.7 L168.4,56.9 L171.0,57.0 L171.4,56.9 L171.7,54.7 L171.7,53.9 L170.8,52.9 L168.9,52.2 L168.8,51.5 L170.2,51.3 L171.4,51.4 L171.6,50.4 L172.9,50.5 L173.9,49.9 L174.1,49.0 L175.3,48.5 L176.1,47.9 L176.6,46.9 L177.9,46.4 L179.5,46.3 L179.6,44.8 L179.1,43.0 L180.5,42.2 L180.9,43.3 L181.3,44.3 L180.7,45.4 L181.5,45.9 L182.7,45.5 L183.9,46.0 L185.5,45.6 L187.4,45.0 L188.5,45.5 L189.4,44.6 L189.3,43.3 L189.8,42.2 L191.4,42.6 L191.5,41.5 L190.7,40.6 L192.6,40.3 L194.1,40.1 L195.5,39.8 L194.3,39.3 L192.4,39.4 L190.2,39.9 L189.7,39.0 L188.7,38.3 L188.6,36.9 L190.5,35.2 L191.1,34.7 L189.6,34.2 L188.5,34.2 L188.1,35.2 L187.0,36.4 L185.7,37.4 L185.6,38.5 L186.7,39.6 L187.2,40.3 L186.5,40.8 L185.6,42.3 L185.5,43.3 L184.1,43.8 L182.8,44.3 L182.5,43.3 L182.0,42.3 L181.3,40.9 L180.7,40.1 L180.0,40.8 L178.5,41.8 L177.3,41.5 L176.8,40.6 L176.6,39.3 L176.4,38.3 L176.6,37.6 L177.9,37.1 L179.3,36.4 L180.3,35.4 L181.7,34.0 L182.6,32.6 L183.5,31.9 L184.2,31.4 L185.4,30.5 L187.4,30.2 L189.0,29.5 L190.3,29.4 L192.0,29.4 L193.9,30.2 L195.5,30.9 L197.6,31.1 L200.8,32.3 L201.8,33.3 L200.3,34.0 L197.7,33.7 L196.5,33.5 L195.7,33.0 L197.7,35.0 L199.3,35.4 L200.2,36.1 L201.1,35.4 L202.1,35.3 L203.4,33.8 L203.4,31.9 L204.9,32.0 L206.4,32.4 L210.1,31.9 L211.7,31.7 L213.3,31.3 L214.3,30.6 L216.5,30.9 L219.4,31.7 L220.6,32.0 L219.9,30.8 L218.0,29.6 L217.7,28.4 L218.5,27.7 L219.9,27.8 L221.0,28.4 L221.5,29.5 L223.5,31.1 L223.9,31.7 L224.4,31.4 L224.3,30.2 L224.6,28.3 L225.4,27.2 L226.6,28.6 L228.4,28.8 L228.6,27.5 L229.4,26.9 L230.2,25.7 L232.6,25.0 L235.0,24.9 L235.7,24.5 L237.0,23.7 L239.4,24.4 L242.1,24.6 L244.5,25.2 L246.2,26.8 L250.1,27.3 L253.3,27.8 L255.9,27.2 L258.1,28.2 L261.8,29.5 L262.1,29.0 L264.8,29.0 L265.6,28.1 L269.9,28.3 L273.5,29.0 L276.0,29.5 L278.9,29.4 L281.0,29.7 L283.3,30.7 L285.4,30.6 L287.9,30.7 L289.0,30.2 L291.4,30.5 L293.5,30.5 L295.8,30.9 L297.5,31.3M47.9,31.3 L49.0,32.0 L49.4,33.1 L50.9,33.5 L50.9,34.0 L48.9,34.5 L46.6,35.6 L45.8,35.2 L45.0,34.7 L44.2,34.5 L42.4,35.0M303.0,35.0 L301.9,35.3 L304.1,37.4 L303.2,38.0 L302.3,38.8 L302.4,39.8 L299.0,39.8 L297.7,40.0 L299.0,41.8 L298.5,42.0 L301.1,43.6 L301.8,45.0 L302.1,46.9 L301.6,47.6 L301.4,49.0 L298.8,46.9 L295.4,43.8 L294.2,42.1 L295.4,41.8 L295.0,40.3 L295.1,39.4 L292.7,38.3 L290.0,38.2 L290.8,40.5 L288.6,40.7 L286.1,40.5 L283.7,40.4 L281.9,40.8 L280.9,42.3 L281.7,44.8 L280.5,45.1 L283.3,46.2 L284.4,45.7 L286.8,46.6 L287.8,47.9 L288.4,49.5 L289.9,51.6 L289.5,53.2 L289.2,55.8 L288.2,57.6 L286.2,57.7 L286.1,58.2 L286.0,59.5 L286.3,60.6 L284.8,60.8 L286.1,62.1 L287.9,63.8 L288.6,65.5 L287.7,66.0 L286.5,66.5 L285.9,65.5 L285.7,63.9 L284.7,63.1 L283.7,62.8 L283.0,61.2 L282.1,60.7 L280.5,61.5 L279.8,61.9 L279.8,61.2 L279.9,60.1 L278.5,59.8 L277.7,60.7 L276.7,61.5 L276.6,62.2 L278.3,63.3 L279.1,63.7 L279.9,63.0 L281.7,63.6 L280.7,64.3 L280.0,66.0 L281.4,67.1 L283.1,69.2 L283.9,70.4 L283.8,71.3 L284.4,71.6 L284.3,73.0 L283.9,74.6 L283.3,75.7 L282.8,77.2 L281.5,78.3 L279.4,79.5 L278.5,79.8 L276.8,80.6 L276.1,81.9 L275.5,81.1 L275.1,80.6 L273.9,80.4 L272.5,81.4 L271.8,83.1 L272.8,84.9 L273.9,86.1 L275.3,87.3 L276.1,89.8 L276.1,91.3 L275.1,92.1 L274.0,92.6 L272.5,94.5 L272.1,93.5 L271.8,92.5 L270.3,91.9 L269.5,90.6 L268.2,90.2 L267.3,89.3 L267.4,90.8 L266.8,92.7 L267.5,93.8 L267.9,94.8 L268.2,95.9 L269.0,96.3 L269.9,97.1 L271.1,98.5 L271.2,100.6 L272.0,102.3 L271.3,102.4 L270.3,101.6 L269.2,100.7 L268.3,98.9 L268.0,97.9 L268.1,96.8 L266.7,95.3 L266.1,94.9 L266.1,93.0 L266.2,91.2 L265.3,89.2 L264.8,87.1 L264.1,85.5 L263.2,85.7 L262.6,86.7 L261.4,86.5 L261.5,84.9 L260.8,83.3 L259.7,82.2 L258.8,81.1 L258.2,79.5 L257.0,79.5 L255.7,80.3 L253.9,80.6 L253.9,81.7 L252.3,82.7 L251.5,84.1 L250.1,85.9 L249.0,87.1 L248.5,89.2 L248.6,91.9 L248.4,92.7 L247.6,93.9 L246.3,95.1 L245.3,94.1 L244.5,91.6 L243.3,89.2 L241.9,86.5 L240.9,83.3 L240.8,81.4 L240.5,80.7 L240.6,79.7 L238.6,81.3 L237.0,79.7 L237.9,79.1 L236.6,78.4 L235.4,77.9 L234.3,76.4 L232.5,76.5 L229.7,76.6 L227.3,76.4 L225.7,75.9 L224.8,74.5 L223.0,75.1 L220.6,73.8 L219.3,72.6 L218.5,71.2 L217.4,71.0 L216.6,71.4 L216.6,71.9 L217.3,73.6 L218.4,74.6 L219.0,75.4 L219.6,76.8 L220.4,75.7 L220.6,77.6 L221.9,77.8 L223.3,77.4 L224.5,75.9 L225.0,76.9 L226.2,78.2 L227.6,79.2 L228.4,79.5 L227.4,81.7 L226.8,82.7 L226.0,83.7 L224.7,84.8 L222.6,86.0 L221.9,87.0 L219.4,87.9 L218.5,88.7 L215.7,89.8 L213.8,90.1 L213.3,88.1 L212.9,86.5 L212.8,85.7 L211.3,83.3 L210.6,81.7 L209.3,80.0 L209.0,79.2 L208.2,77.7 L207.4,76.6 L206.6,75.7 L205.5,74.0 L204.7,72.0 L204.2,73.8 L202.5,71.5 L202.1,70.0 L203.8,70.0 L204.3,68.4 L204.6,66.5 L204.8,65.0 L204.8,64.2 L203.5,64.1 L201.8,64.8 L199.9,64.3 L198.6,64.2 L197.0,63.8 L196.2,62.3 L195.9,61.2 L195.9,60.4 L197.7,60.1 L198.5,59.5 L197.6,59.4 L195.9,59.9 L193.7,59.7 L192.7,60.1 L193.4,61.2 L192.9,62.4 L193.8,62.8 L193.0,63.8 L192.3,64.4 L191.8,63.2 L191.3,62.2 L190.3,61.0 L189.7,60.1 L189.7,58.7 L188.7,57.9 L187.4,57.2 L186.0,56.3 L185.5,55.3 L184.4,54.7 L183.3,54.9 L183.2,55.8 L184.4,56.9 L185.5,58.5 L186.6,59.1 L188.5,60.0 L188.9,60.6 L187.6,60.3 L187.4,61.8 L186.9,62.8 L186.6,62.4 L186.6,60.8 L185.7,60.0 L184.7,59.3 L183.4,58.8 L182.2,57.9 L181.6,56.7 L180.2,55.9 L179.1,56.6 L178.3,57.3 L176.8,57.0 L175.4,57.3 L175.5,58.6 L173.6,59.5 L172.7,61.2 L172.3,62.2 L172.0,63.2 L170.8,64.2 L168.7,64.2 L167.7,64.9 L167.1,64.1 L166.0,63.6 L164.7,63.8M198.0,59.3 L197.1,58.9 L196.8,57.1 L197.3,56.0 L198.0,55.0 L198.5,53.7 L199.3,53.6 L200.7,54.2 L200.4,54.9 L201.4,55.8 L202.6,55.5 L203.8,55.1 L204.7,53.7 L205.6,52.9 L205.2,54.5 L204.7,55.3 L205.7,55.9 L207.2,57.0 L208.9,58.9 L207.7,59.7 L205.9,59.7 L204.0,58.8 L202.2,58.5 L200.5,58.7 L198.0,59.3M213.0,55.8 L213.1,54.4 L214.2,53.7 L216.1,53.2 L217.5,53.6 L217.9,55.0 L216.6,55.9 L217.2,57.4 L218.5,58.5 L219.1,60.1 L220.3,61.7 L220.6,63.3 L218.6,64.1 L217.2,63.4 L216.1,62.4 L216.1,60.4 L214.9,58.7 L213.7,57.4 L213.0,55.8M202.1,70.0 L200.9,69.7 L200.0,70.0 L198.2,70.3 L195.4,69.7 L193.6,68.6 L191.7,68.3 L190.9,69.2 L190.5,70.9 L189.1,70.5 L186.8,69.5 L184.5,68.3 L183.1,67.9 L181.9,66.9 L182.6,65.5 L182.1,63.9 L181.3,63.5 L180.3,63.9 L178.5,63.8 L175.4,64.1 L173.6,64.4 L171.4,65.8 L170.0,65.7 L167.9,65.0 L167.0,66.0 L166.4,67.3 L165.0,67.9 L164.0,69.6 L163.7,71.5 L162.1,73.2 L160.7,74.1 L159.3,75.5 L157.8,77.9 L157.3,79.8 L156.8,81.1 L157.2,82.7 L157.4,84.9 L156.9,87.6 L156.3,87.9 L156.8,89.2 L156.9,90.5 L158.3,91.6 L159.0,92.5 L160.2,93.5 L160.8,95.7 L162.2,96.5 L163.7,98.0 L165.6,99.0 L167.5,98.3 L169.8,98.3 L171.7,98.4 L173.7,97.4 L175.4,97.0 L177.0,97.0 L178.2,99.2 L179.2,99.0 L180.8,98.9 L181.7,99.6 L182.0,101.1 L181.8,102.7 L181.6,104.3 L181.1,105.4 L182.2,107.0 L183.6,108.7 L184.4,110.3 L185.2,113.0 L185.8,115.7 L184.5,118.4 L183.8,122.2 L185.3,126.5 L186.2,128.6 L186.5,133.0 L187.9,134.8 L189.3,137.8 L189.2,140.0 L189.4,140.8 L190.7,141.4 L192.5,140.5 L195.7,140.5 L197.1,140.0 L198.6,138.7 L200.1,137.3 L201.3,135.4 L202.6,134.6 L203.1,132.1 L203.7,131.3 L205.5,130.3 L205.8,128.1 L205.6,126.8 L205.2,125.2 L206.9,123.8 L208.7,122.7 L210.3,121.6 L211.0,120.0 L211.1,115.7 L210.2,112.4 L210.1,110.8 L209.8,108.8 L211.0,106.7 L212.2,105.6 L213.7,103.8 L215.6,101.9 L217.9,98.9 L219.7,95.7 L221.0,92.5 L221.2,91.1 L220.0,91.2 L218.6,91.7 L215.8,92.4 L214.4,92.5 L213.6,91.3 L213.0,90.2 L211.4,88.1 L209.9,87.1 L209.2,84.9 L207.9,83.5 L207.5,81.1 L206.7,79.5 L205.7,78.1 L204.6,75.9 L203.7,74.1 L202.6,71.8 L202.1,70.0M219.4,116.8 L220.3,120.5 L219.5,122.2 L219.0,123.8 L218.0,125.9 L216.8,129.7 L216.3,130.8 L214.6,131.3 L213.5,130.6 L213.1,127.6 L214.2,125.4 L214.0,122.7 L215.6,120.9 L217.0,120.0 L218.1,118.4 L219.4,116.8M168.0,49.9 L170.2,49.3 L173.8,48.8 L174.1,47.2 L172.9,46.4 L172.5,45.4 L171.4,44.2 L171.0,43.3 L171.3,42.2 L170.0,42.1 L169.6,41.2 L168.8,41.2 L168.3,42.3 L168.4,43.3 L167.8,43.6 L168.3,44.5 L168.9,45.0 L170.2,44.9 L169.9,45.7 L170.3,46.5 L169.1,46.6 L169.3,47.4 L168.5,48.1 L170.1,48.5 L168.0,49.9M167.8,47.9 L167.8,45.9 L168.3,45.3 L166.9,44.5 L166.0,45.1 L164.7,45.7 L164.8,46.9 L164.2,47.9 L164.9,48.3 L166.0,48.1 L167.4,47.7 L167.8,47.9M156.6,35.9 L156.5,34.5 L155.4,34.4 L157.0,33.6 L159.8,33.8 L162.0,33.7 L162.6,34.5 L162.9,35.0 L161.8,35.6 L159.1,36.5 L157.3,36.1 L156.6,35.9M179.4,23.1 L179.8,22.1 L183.3,21.8 L188.7,22.0 L186.1,23.1 L183.4,24.7 L181.4,24.0 L179.4,23.1M207.7,29.0 L207.7,27.7 L208.2,26.4 L209.3,25.5 L211.1,24.9 L215.3,24.3 L214.7,25.5 L211.7,26.8 L211.0,29.0 L210.0,29.7 L207.7,29.0M230.4,23.1 L231.9,22.0 L235.9,22.7 L235.1,23.5 L230.4,23.1M260.6,26.0 L262.7,25.3 L267.2,25.7 L265.3,27.0 L260.6,26.0M293.2,54.2 L294.1,53.7 L291.8,51.1 L293.2,51.1 L289.8,48.4 L288.1,46.4 L286.9,45.6 L287.1,46.4 L289.1,49.0 L291.7,52.1 L292.8,53.7 L293.2,54.2M294.7,59.0 L295.5,58.7 L296.3,58.2 L297.2,58.5 L298.2,57.1 L297.1,56.2 L295.8,56.1 L293.5,54.9 L294.2,56.3 L293.9,57.2 L294.1,58.2 L294.7,59.0M296.0,59.1 L297.7,61.2 L297.9,62.5 L298.3,63.8 L298.7,65.1 L298.4,66.0 L297.7,66.3 L296.2,66.4 L295.9,66.8 L295.4,67.6 L294.2,66.4 L292.4,66.6 L291.1,67.2 L290.6,66.5 L291.5,65.5 L293.2,65.2 L294.4,65.0 L294.4,63.5 L295.1,64.1 L295.7,63.0 L296.1,62.2 L295.9,61.2 L295.1,59.8 L296.0,59.1M290.3,67.5 L290.9,67.2 L292.1,68.2 L292.3,70.0 L291.6,70.1 L290.9,68.9 L289.9,67.9 L290.3,67.5M284.8,76.7 L285.9,77.1 L285.8,79.5 L285.4,80.1 L284.6,79.0 L284.3,77.7 L284.8,76.7M274.5,83.0 L276.1,82.1 L276.6,82.6 L275.6,84.1 L274.6,83.7 L274.5,83.0M248.5,93.2 L249.6,94.3 L250.5,95.9 L249.9,97.1 L248.9,97.3 L248.5,95.7 L248.5,93.2M285.8,83.8 L287.3,83.8 L287.4,85.4 L287.2,87.1 L287.9,88.5 L290.0,89.8 L289.2,88.9 L287.7,88.8 L286.5,88.2 L285.5,86.5 L285.8,83.8M288.7,96.2 L290.0,94.6 L291.7,93.2 L292.9,95.7 L292.1,97.6 L290.6,96.8 L288.7,96.2M288.1,91.1 L289.8,92.5 L291.6,91.4 L291.2,93.0 L289.4,93.5 L288.3,92.5 L288.1,91.1M276.5,102.2 L277.1,101.6 L278.4,102.1 L280.3,100.5 L281.2,98.9 L282.6,98.3 L283.7,96.3 L285.4,97.9 L286.1,98.2 L285.3,99.0 L284.8,100.0 L285.1,102.4 L286.1,102.8 L284.7,103.8 L284.0,105.4 L283.6,107.6 L281.9,108.1 L280.5,107.3 L278.9,107.5 L277.6,106.9 L277.5,105.1 L276.7,103.8 L276.5,102.2M263.3,97.8 L265.5,98.2 L267.9,101.1 L269.4,101.9 L271.3,104.3 L272.2,105.4 L273.6,107.0 L273.4,110.1 L272.1,110.2 L270.1,108.1 L268.7,106.0 L267.0,103.5 L265.6,101.4 L263.3,97.8M272.7,111.1 L274.0,110.3 L275.9,110.8 L278.2,110.8 L279.7,111.3 L281.5,112.1 L281.4,113.2 L279.1,112.8 L275.8,112.2 L273.9,111.8 L272.7,111.1M282.4,112.9 L283.3,113.3 L285.7,113.1 L288.5,113.0 L291.4,112.8 L293.3,112.9M290.3,114.6 L291.6,113.5 L293.5,112.9 L292.3,113.8 L290.6,114.8 L290.3,114.6M286.4,109.7 L287.2,109.8 L287.2,107.0 L287.9,106.7 L289.3,109.0 L289.6,108.3 L288.4,105.9 L290.1,104.9 L288.4,104.9 L287.5,103.3 L288.4,102.8 L291.1,103.4 L292.0,102.2 L291.1,102.7 L287.9,102.4 L287.0,103.3 L286.5,104.3 L285.8,106.7 L286.4,109.7M294.2,101.9 L295.2,101.4 L294.6,102.9 L295.4,103.5 L294.9,104.7 L294.3,103.8 L294.2,101.9M297.5,105.1 L298.9,104.2 L300.4,104.8 L300.5,106.8 L301.7,107.4 L303.7,105.4 L307.0,106.6 L310.3,107.9 L311.4,109.7 L313.0,110.5 L313.1,112.4 L314.1,113.8 L315.7,114.9 L314.4,114.9 L312.6,114.8 L311.4,112.5 L309.7,112.1 L308.9,113.5 L307.9,113.8 L306.5,113.6 L304.7,112.5 L303.7,112.9 L303.6,111.7 L304.6,111.1 L304.0,109.5 L301.7,108.6 L299.8,108.1 L299.1,108.2 L298.4,106.8 L299.8,106.4 L297.5,105.1M313.8,109.7 L315.4,109.7 L317.4,108.3 L316.8,109.7 L315.3,110.6 L313.8,109.7M278.5,127.6 L278.1,131.9 L277.9,136.2 L277.1,140.0 L276.3,140.8 L278.2,141.6 L280.9,140.5 L284.1,140.5 L287.1,138.7 L290.1,137.9 L292.4,137.8 L294.2,138.9 L294.5,141.4 L296.9,140.0 L296.9,141.1 L297.6,142.5 L297.3,144.8 L299.5,145.7 L301.7,146.0 L304.0,144.6 L306.0,144.3 L307.6,142.1 L310.1,139.4 L312.7,136.7 L314.1,133.5 L314.5,130.8 L313.3,128.6 L312.0,127.9 L311.6,125.6 L309.9,124.1 L309.6,121.1 L309.8,119.8 L308.2,118.9 L308.2,115.7 L307.8,115.4 L306.5,117.8 L306.1,120.5 L304.7,122.7 L303.4,122.2 L301.8,120.9 L300.5,120.0 L301.9,118.4 L301.4,116.8 L298.6,116.4 L297.3,116.0 L295.9,117.3 L294.9,119.8 L293.5,119.8 L291.7,118.7 L290.5,120.5 L288.8,122.2 L287.4,123.2 L286.0,124.9 L283.5,125.7 L281.6,126.3 L279.5,127.3 L278.5,127.6M299.2,147.7 L300.6,148.2 L302.3,147.9 L301.1,149.7 L299.3,150.8 L298.8,149.7 L299.2,147.7M328.2,141.0 L328.9,142.5 L329.0,143.8 L331.2,144.5 L329.5,146.1 L327.9,147.0 L325.2,148.7 L325.1,148.3 L326.4,147.0 L325.9,146.1 L327.1,145.4 L328.3,143.2 L328.2,141.0M324.0,147.5 L324.5,148.6 L322.8,150.0 L321.2,151.0 L319.3,151.8 L317.5,153.3 L315.6,154.0 L314.0,153.4 L315.1,152.3 L317.3,151.3 L320.2,150.0 L322.1,148.6 L324.0,147.5M62.5,184.1 L69.0,184.3 L76.1,184.7 L77.8,184.1 L79.1,183.1 L80.4,182.1 L85.5,181.2 L91.1,180.6 L97.9,180.8 L104.9,181.2 L107.2,180.4 L113.3,179.9 L120.2,180.2 L122.6,179.0 L124.8,177.3 L125.2,174.5 L126.9,172.2 L130.7,171.0 L129.3,172.6 L128.8,174.5 L128.4,176.4 L131.3,179.0 L133.0,180.8 L134.2,181.6 L142.0,183.9 L148.2,184.1 L151.1,183.7 L153.7,182.5 L159.6,180.4 L164.6,178.6 L172.7,177.3 L179.5,177.3 L186.4,177.3 L193.4,176.8 L200.5,176.2 L208.2,174.3 L215.2,174.5 L221.5,175.9 L222.0,177.3 L229.1,175.0 L236.8,174.1 L244.3,173.6 L251.5,173.6 L257.7,174.5 L265.5,173.9 L272.1,174.3 L277.2,175.9 L282.2,177.3 L283.6,178.6 L285.6,179.5 L278.8,182.5 L277.6,183.7 L282.9,184.1M180.0,59.5 L181.2,59.5 L181.2,61.5 L180.2,61.7 L180.0,59.5M180.1,57.5 L180.8,57.5 L180.8,59.1 L180.3,58.8 L180.1,57.5M183.7,62.7 L186.5,62.4 L186.2,64.2 L183.8,63.2 L183.7,62.7M193.8,65.5 L196.3,65.8 L194.7,66.1 L193.8,65.5M95.0,53.5 L98.3,51.8 L101.0,51.3 L101.2,53.4 L99.1,53.7 L96.6,53.6 L95.0,53.5M96.4,58.5 L98.2,54.7 L100.5,54.4 L98.4,56.9 L97.0,58.8 L96.4,58.5M100.9,54.4 L103.3,54.7 L104.2,55.8 L101.4,57.4 L101.0,56.3 L100.9,54.4M100.0,58.8 L104.4,57.6 L104.4,57.8 L100.8,59.1 L100.0,58.8M103.9,57.1 L107.3,56.1 L107.1,56.9 L103.9,57.1M94.4,25.1 L99.0,24.1 L100.6,24.7 L97.3,25.3 L94.4,25.1M108.4,25.5 L112.0,24.6 L109.8,26.0 L108.4,25.5M111.1,26.0 L113.4,25.6 L112.1,26.3 L111.1,26.0M110.5,27.2 L113.5,26.8 L113.0,28.1 L109.9,28.6 L110.5,27.2M103.8,31.2 L106.7,30.7 L106.2,31.7 L104.3,31.9 L103.8,31.2M120.0,27.2 L122.7,27.2 L121.5,27.9 L120.0,27.2M109.7,23.0 L113.3,22.6 L112.7,23.5 L110.1,23.7 L109.7,23.0M111.0,36.9 L112.8,37.0 L111.6,37.7 L111.0,36.9M105.7,22.9 L108.4,23.1 L105.4,23.5 L105.7,22.9M101.1,24.8 L103.8,24.6 L101.8,25.2 L101.1,24.8M46.9,36.2 L48.5,36.5 L46.7,36.9 L46.9,36.2M45.5,39.6 L47.0,39.4 L45.8,40.0 L45.5,39.6M53.2,41.6 L54.7,41.8 L52.6,42.9 L53.2,41.6M40.7,45.6 L37.4,46.4 L33.1,47.4 L29.2,48.0 L25.6,48.3M200.9,21.6 L204.7,21.3 L209.1,21.6 L205.3,22.0 L200.9,21.6M51.7,29.0 L52.9,29.3 L51.8,29.5 L51.1,29.3M293.3,29.3 L293.7,29.0 L294.3,29.3 L293.3,29.3M26.7,82.2 L27.6,82.2 L27.5,83.1 L26.5,83.1 L26.7,82.2" fill="none" stroke="#000" stroke-width="1.7" stroke-linejoin="round"/>
</g>
<path d="M263.97,190.90 L267.16,190.02 L270.83,188.82 L274.90,187.34 L279.25,185.62 L283.76,183.70 L288.15,181.63 L292.19,179.49 L295.94,177.27 L299.52,174.98 L302.99,172.64 L306.37,170.23 L309.66,167.78 L312.84,165.29 L315.90,162.76 L318.82,160.19 L321.54,157.59 L324.05,154.97 L326.40,152.32 L328.65,149.66 L330.75,146.98 L332.65,144.30 L334.37,141.60 L335.94,138.90 L337.34,136.20 L338.55,133.50 L339.57,130.80 L340.41,128.10 L341.15,125.40 L341.85,122.70 L342.49,120.00 L343.00,117.30 L343.41,114.60 L343.73,111.90 L343.96,109.20 L344.12,106.50 L344.20,103.80 L344.12,101.10 L343.96,98.40 L343.73,95.70 L343.41,93.00 L343.00,90.30 L342.49,87.60 L341.85,84.90 L341.15,82.20 L340.41,79.50 L339.57,76.80 L338.55,74.10 L337.34,71.40 L335.94,68.70 L334.37,66.00 L332.65,63.30 L330.75,60.62 L328.65,57.94 L326.40,55.28 L324.05,52.63 L321.54,50.01 L318.82,47.41 L315.90,44.84 L312.84,42.31 L309.66,39.82 L306.37,37.37 L302.99,34.96 L299.52,32.62 L295.94,30.33 L292.19,28.11 L288.15,25.97 L283.76,23.90 L279.25,21.98 L274.90,20.26 L270.83,18.78 L267.16,17.58 L263.97,16.70 L81.43,16.70 L78.24,17.58 L74.57,18.78 L70.50,20.26 L66.15,21.98 L61.64,23.90 L57.25,25.97 L53.21,28.11 L49.46,30.33 L45.88,32.62 L42.41,34.96 L39.03,37.37 L35.74,39.82 L32.56,42.31 L29.50,44.84 L26.58,47.41 L23.86,50.01 L21.35,52.63 L19.00,55.28 L16.75,57.94 L14.65,60.62 L12.75,63.30 L11.03,66.00 L9.46,68.70 L8.06,71.40 L6.85,74.10 L5.83,76.80 L4.99,79.50 L4.25,82.20 L3.55,84.90 L2.91,87.60 L2.40,90.30 L1.99,93.00 L1.67,95.70 L1.44,98.40 L1.28,101.10 L1.20,103.80 L1.28,106.50 L1.44,109.20 L1.67,111.90 L1.99,114.60 L2.40,117.30 L2.91,120.00 L3.55,122.70 L4.25,125.40 L4.99,128.10 L5.83,130.80 L6.85,133.50 L8.06,136.20 L9.46,138.90 L11.03,141.60 L12.75,144.30 L14.65,146.98 L16.75,149.66 L19.00,152.32 L21.35,154.97 L23.86,157.59 L26.58,160.19 L29.50,162.76 L32.56,165.29 L35.74,167.78 L39.03,170.23 L42.41,172.64 L45.88,174.98 L49.46,177.27 L53.21,179.49 L57.25,181.63 L61.64,183.70 L66.15,185.62 L70.50,187.34 L74.57,188.82 L78.24,190.02 L81.43,190.90Z" fill="none" stroke="#000" stroke-width="1.5"/>
<clipPath id="clipR"><path d="M613.49,189.60 L616.71,188.72 L620.41,187.53 L624.51,186.06 L628.90,184.35 L633.45,182.44 L637.88,180.39 L641.95,178.25 L645.73,176.05 L649.34,173.77 L652.84,171.44 L656.25,169.05 L659.57,166.62 L662.78,164.14 L665.86,161.62 L668.80,159.07 L671.55,156.48 L674.08,153.88 L676.45,151.24 L678.72,148.60 L680.84,145.94 L682.76,143.26 L684.49,140.58 L686.07,137.90 L687.48,135.22 L688.70,132.53 L689.73,129.85 L690.58,127.16 L691.32,124.48 L692.03,121.79 L692.67,119.11 L693.19,116.42 L693.60,113.74 L693.92,111.05 L694.16,108.37 L694.31,105.68 L694.40,103.00 L694.31,100.32 L694.16,97.63 L693.92,94.95 L693.60,92.26 L693.19,89.58 L692.67,86.89 L692.03,84.21 L691.32,81.52 L690.58,78.84 L689.73,76.15 L688.70,73.47 L687.48,70.78 L686.07,68.10 L684.49,65.42 L682.76,62.74 L680.84,60.06 L678.72,57.40 L676.45,54.76 L674.08,52.12 L671.55,49.52 L668.80,46.93 L665.86,44.38 L662.78,41.86 L659.57,39.38 L656.25,36.95 L652.84,34.56 L649.34,32.23 L645.73,29.95 L641.95,27.75 L637.88,25.61 L633.45,23.56 L628.90,21.65 L624.51,19.94 L620.41,18.47 L616.71,17.28 L613.49,16.40 L429.41,16.40 L426.19,17.28 L422.49,18.47 L418.39,19.94 L414.00,21.65 L409.45,23.56 L405.02,25.61 L400.95,27.75 L397.17,29.95 L393.56,32.23 L390.06,34.56 L386.65,36.95 L383.33,39.38 L380.12,41.86 L377.04,44.38 L374.10,46.93 L371.35,49.52 L368.82,52.12 L366.45,54.76 L364.18,57.40 L362.06,60.06 L360.14,62.74 L358.41,65.42 L356.83,68.10 L355.42,70.78 L354.20,73.47 L353.17,76.15 L352.32,78.84 L351.58,81.52 L350.87,84.21 L350.23,86.89 L349.71,89.58 L349.30,92.26 L348.98,94.95 L348.74,97.63 L348.59,100.32 L348.50,103.00 L348.59,105.68 L348.74,108.37 L348.98,111.05 L349.30,113.74 L349.71,116.42 L350.23,119.11 L350.87,121.79 L351.58,124.48 L352.32,127.16 L353.17,129.85 L354.20,132.53 L355.42,135.22 L356.83,137.90 L358.41,140.58 L360.14,143.26 L362.06,145.94 L364.18,148.60 L366.45,151.24 L368.82,153.88 L371.35,156.48 L374.10,159.07 L377.04,161.62 L380.12,164.14 L383.33,166.62 L386.65,169.05 L390.06,171.44 L393.56,173.77 L397.17,176.05 L400.95,178.25 L405.02,180.39 L409.45,182.44 L414.00,184.35 L418.39,186.06 L422.49,187.53 L426.19,188.72 L429.41,189.60Z"/></clipPath>
<path d="M613.49,189.60 L616.71,188.72 L620.41,187.53 L624.51,186.06 L628.90,184.35 L633.45,182.44 L637.88,180.39 L641.95,178.25 L645.73,176.05 L649.34,173.77 L652.84,171.44 L656.25,169.05 L659.57,166.62 L662.78,164.14 L665.86,161.62 L668.80,159.07 L671.55,156.48 L674.08,153.88 L676.45,151.24 L678.72,148.60 L680.84,145.94 L682.76,143.26 L684.49,140.58 L686.07,137.90 L687.48,135.22 L688.70,132.53 L689.73,129.85 L690.58,127.16 L691.32,124.48 L692.03,121.79 L692.67,119.11 L693.19,116.42 L693.60,113.74 L693.92,111.05 L694.16,108.37 L694.31,105.68 L694.40,103.00 L694.31,100.32 L694.16,97.63 L693.92,94.95 L693.60,92.26 L693.19,89.58 L692.67,86.89 L692.03,84.21 L691.32,81.52 L690.58,78.84 L689.73,76.15 L688.70,73.47 L687.48,70.78 L686.07,68.10 L684.49,65.42 L682.76,62.74 L680.84,60.06 L678.72,57.40 L676.45,54.76 L674.08,52.12 L671.55,49.52 L668.80,46.93 L665.86,44.38 L662.78,41.86 L659.57,39.38 L656.25,36.95 L652.84,34.56 L649.34,32.23 L645.73,29.95 L641.95,27.75 L637.88,25.61 L633.45,23.56 L628.90,21.65 L624.51,19.94 L620.41,18.47 L616.71,17.28 L613.49,16.40 L429.41,16.40 L426.19,17.28 L422.49,18.47 L418.39,19.94 L414.00,21.65 L409.45,23.56 L405.02,25.61 L400.95,27.75 L397.17,29.95 L393.56,32.23 L390.06,34.56 L386.65,36.95 L383.33,39.38 L380.12,41.86 L377.04,44.38 L374.10,46.93 L371.35,49.52 L368.82,52.12 L366.45,54.76 L364.18,57.40 L362.06,60.06 L360.14,62.74 L358.41,65.42 L356.83,68.10 L355.42,70.78 L354.20,73.47 L353.17,76.15 L352.32,78.84 L351.58,81.52 L350.87,84.21 L350.23,86.89 L349.71,89.58 L349.30,92.26 L348.98,94.95 L348.74,97.63 L348.59,100.32 L348.50,103.00 L348.59,105.68 L348.74,108.37 L348.98,111.05 L349.30,113.74 L349.71,116.42 L350.23,119.11 L350.87,121.79 L351.58,124.48 L352.32,127.16 L353.17,129.85 L354.20,132.53 L355.42,135.22 L356.83,137.90 L358.41,140.58 L360.14,143.26 L362.06,145.94 L364.18,148.60 L366.45,151.24 L368.82,153.88 L371.35,156.48 L374.10,159.07 L377.04,161.62 L380.12,164.14 L383.33,166.62 L386.65,169.05 L390.06,171.44 L393.56,173.77 L397.17,176.05 L400.95,178.25 L405.02,180.39 L409.45,182.44 L414.00,184.35 L418.39,186.06 L422.49,187.53 L426.19,188.72 L429.41,189.60Z" fill="#c8c8c8"/>
<g clip-path="url(#clipR)">
<g shape-rendering="crispEdges"><path d="M429.41,16.40 434.52,16.40 439.63,16.40 444.75,16.40 449.86,16.40 454.97,16.40 460.09,16.40 465.20,16.40 470.31,16.40 475.43,16.40 480.54,16.40 485.66,16.40 490.77,16.40 495.88,16.40 501.00,16.40 506.11,16.40 511.22,16.40 516.34,16.40 521.45,16.40 526.56,16.40 531.68,16.40 536.79,16.40 541.90,16.40 547.02,16.40 552.13,16.40 557.24,16.40 562.36,16.40 567.47,16.40 572.59,16.40 577.70,16.40 582.81,16.40 587.93,16.40 593.04,16.40 598.15,16.40 603.27,16.40 608.38,16.40 613.49,16.40 620.41,18.47 614.91,18.47 609.42,18.47 603.92,18.47 598.42,18.47 592.92,18.47 587.42,18.47 581.93,18.47 576.43,18.47 570.93,18.47 565.43,18.47 559.94,18.47 554.44,18.47 548.94,18.47 543.44,18.47 537.94,18.47 532.45,18.47 526.95,18.47 521.45,18.47 515.95,18.47 510.45,18.47 504.96,18.47 499.46,18.47 493.96,18.47 488.46,18.47 482.96,18.47 477.47,18.47 471.97,18.47 466.47,18.47 460.97,18.47 455.48,18.47 449.98,18.47 444.48,18.47 438.98,18.47 433.48,18.47 427.99,18.47 422.49,18.47ZM422.49,187.53 427.99,187.53 433.48,187.53 438.98,187.53 444.48,187.53 449.98,187.53 455.48,187.53 460.97,187.53 466.47,187.53 471.97,187.53 477.47,187.53 482.96,187.53 488.46,187.53 493.96,187.53 499.46,187.53 504.96,187.53 510.45,187.53 515.95,187.53 521.45,187.53 526.95,187.53 532.45,187.53 537.94,187.53 543.44,187.53 548.94,187.53 554.44,187.53 559.94,187.53 565.43,187.53 570.93,187.53 576.43,187.53 581.93,187.53 587.42,187.53 592.92,187.53 598.42,187.53 603.92,187.53 609.42,187.53 614.91,187.53 620.41,187.53 613.49,189.60 608.38,189.60 603.27,189.60 598.15,189.60 593.04,189.60 587.93,189.60 582.81,189.60 577.70,189.60 572.59,189.60 567.47,189.60 562.36,189.60 557.24,189.60 552.13,189.60 547.02,189.60 541.90,189.60 536.79,189.60 531.68,189.60 526.56,189.60 521.45,189.60 516.34,189.60 511.22,189.60 506.11,189.60 501.00,189.60 495.88,189.60 490.77,189.60 485.66,189.60 480.54,189.60 475.43,189.60 470.31,189.60 465.20,189.60 460.09,189.60 454.97,189.60 449.86,189.60 444.75,189.60 439.63,189.60 434.52,189.60 429.41,189.60Z" fill="#c8c8c8"/><path d="M418.39,19.94 424.11,19.94 429.84,19.94 435.57,19.94 441.29,19.94 447.02,19.94 452.74,19.94 458.47,19.94 464.19,19.94 469.92,19.94 475.64,19.94 473.69,21.65 467.72,21.65 461.75,21.65 455.78,21.65 449.81,21.65 443.84,21.65 437.87,21.65 431.91,21.65 425.94,21.65 419.97,21.65 414.00,21.65ZM492.82,19.94 498.55,19.94 504.27,19.94 510.00,19.94 515.72,19.94 521.45,19.94 521.45,21.65 515.48,21.65 509.51,21.65 503.54,21.65 497.57,21.65 491.60,21.65ZM544.35,19.94 550.08,19.94 555.80,19.94 561.53,19.94 567.26,19.94 572.98,19.94 578.71,19.94 584.43,19.94 590.16,19.94 595.88,19.94 601.61,19.94 607.33,19.94 613.06,19.94 618.79,19.94 622.93,21.65 616.96,21.65 610.99,21.65 605.03,21.65 599.06,21.65 593.09,21.65 587.12,21.65 581.15,21.65 575.18,21.65 569.21,21.65 563.24,21.65 557.27,21.65 551.30,21.65 545.33,21.65ZM414.00,21.65 419.97,21.65 425.94,21.65 417.96,25.61 411.49,25.61 405.02,25.61ZM437.87,21.65 443.84,21.65 449.81,21.65 455.78,21.65 450.30,25.61 443.83,25.61 437.36,25.61 430.89,25.61ZM509.51,21.65 515.48,21.65 521.45,21.65 521.45,25.61 514.98,25.61 508.51,25.61ZM533.39,21.65 539.36,21.65 545.33,21.65 551.30,21.65 557.27,21.65 563.24,21.65 569.21,21.65 575.18,21.65 581.15,21.65 586.13,25.61 579.66,25.61 573.20,25.61 566.73,25.61 560.26,25.61 553.79,25.61 547.32,25.61 540.85,25.61 534.39,25.61ZM593.09,21.65 599.06,21.65 605.03,21.65 610.99,21.65 618.47,25.61 612.01,25.61 605.54,25.61 599.07,25.61ZM616.96,21.65 622.93,21.65 628.90,21.65 637.88,25.61 631.41,25.61 624.94,25.61ZM411.49,25.61 417.96,25.61 424.43,25.61 430.89,25.61 424.79,29.95 417.88,29.95 410.98,29.95 404.07,29.95ZM437.36,25.61 443.83,25.61 450.30,25.61 456.77,25.61 452.40,29.95 445.50,29.95 438.60,29.95 431.69,29.95ZM508.51,25.61 514.98,25.61 521.45,25.61 521.45,29.95 514.55,29.95 507.64,29.95ZM534.39,25.61 540.85,25.61 547.32,25.61 553.79,25.61 555.97,29.95 549.07,29.95 542.16,29.95 535.26,29.95ZM612.01,25.61 618.47,25.61 624.94,25.61 631.92,29.95 625.02,29.95 618.11,29.95ZM631.41,25.61 637.88,25.61 645.73,29.95 638.83,29.95ZM404.07,29.95 410.98,29.95 417.88,29.95 424.79,29.95 431.69,29.95 426.56,34.56 419.26,34.56 411.96,34.56 404.66,34.56 397.36,34.56ZM445.50,29.95 452.40,29.95 459.31,29.95 466.21,29.95 473.12,29.95 470.35,34.56 463.05,34.56 455.75,34.56 448.46,34.56 441.16,34.56ZM500.74,29.95 507.64,29.95 514.55,29.95 521.45,29.95 521.45,34.56 514.15,34.56 506.85,34.56 499.55,34.56ZM535.26,29.95 542.16,29.95 543.35,34.56 536.05,34.56ZM631.92,29.95 638.83,29.95 645.73,29.95 652.84,34.56 645.54,34.56 638.24,34.56ZM404.66,34.56 411.96,34.56 419.26,34.56 426.56,34.56 421.70,39.38 414.02,39.38 406.35,39.38 398.68,39.38ZM433.86,34.56 441.16,34.56 437.04,39.38 429.37,39.38ZM455.75,34.56 463.05,34.56 470.35,34.56 477.65,34.56 475.41,39.38 467.74,39.38 460.06,39.38 452.39,39.38ZM492.25,34.56 499.55,34.56 506.85,34.56 514.15,34.56 521.45,34.56 521.45,39.38 513.78,39.38 506.10,39.38 498.43,39.38 490.76,39.38ZM528.75,34.56 536.05,34.56 543.35,34.56 550.65,34.56 552.14,39.38 544.47,39.38 536.80,39.38 529.12,39.38ZM638.24,34.56 645.54,34.56 652.84,34.56 659.57,39.38 651.89,39.38 644.22,39.38ZM398.68,39.38 406.35,39.38 414.02,39.38 421.70,39.38 417.15,44.38 409.13,44.38 401.11,44.38 393.08,44.38ZM437.04,39.38 444.72,39.38 452.39,39.38 460.06,39.38 467.74,39.38 475.41,39.38 483.08,39.38 490.76,39.38 498.43,39.38 497.38,44.38 489.36,44.38 481.34,44.38 473.31,44.38 465.29,44.38 457.27,44.38 449.24,44.38 441.22,44.38 433.20,44.38ZM506.10,39.38 513.78,39.38 521.45,39.38 521.45,44.38 513.43,44.38 505.40,44.38ZM529.12,39.38 536.80,39.38 544.47,39.38 552.14,39.38 553.54,44.38 545.52,44.38 537.50,44.38 529.47,44.38ZM559.82,39.38 567.49,39.38 569.59,44.38 561.56,44.38ZM613.53,39.38 621.20,39.38 625.75,44.38 617.73,44.38ZM644.22,39.38 651.89,39.38 659.57,39.38 665.86,44.38 657.84,44.38 649.82,44.38ZM425.17,44.38 433.20,44.38 441.22,44.38 449.24,44.38 457.27,44.38 465.29,44.38 473.31,44.38 481.34,44.38 489.36,44.38 488.09,49.52 479.75,49.52 471.42,49.52 463.08,49.52 454.74,49.52 446.40,49.52 438.06,49.52 429.72,49.52 421.38,49.52ZM505.40,44.38 513.43,44.38 521.45,44.38 529.47,44.38 537.50,44.38 545.52,44.38 553.54,44.38 561.56,44.38 569.59,44.38 577.61,44.38 585.63,44.38 593.66,44.38 601.68,44.38 609.70,44.38 617.73,44.38 625.75,44.38 629.86,49.52 621.52,49.52 613.18,49.52 604.84,49.52 596.50,49.52 588.16,49.52 579.82,49.52 571.48,49.52 563.15,49.52 554.81,49.52 546.47,49.52 538.13,49.52 529.79,49.52 521.45,49.52 513.11,49.52 504.77,49.52ZM649.82,44.38 657.84,44.38 665.86,44.38 671.55,49.52 663.21,49.52 654.88,49.52ZM429.72,49.52 438.06,49.52 435.34,54.76 426.73,54.76ZM454.74,49.52 463.08,49.52 471.42,49.52 479.75,49.52 478.40,54.76 469.78,54.76 461.17,54.76 452.56,54.76ZM513.11,49.52 521.45,49.52 529.79,49.52 538.13,49.52 546.47,49.52 554.81,49.52 563.15,49.52 571.48,49.52 579.82,49.52 588.16,49.52 596.50,49.52 604.84,49.52 607.56,54.76 598.95,54.76 590.34,54.76 581.73,54.76 573.12,54.76 564.50,54.76 555.89,54.76 547.28,54.76 538.67,54.76 530.06,54.76 521.45,54.76 512.84,54.76ZM621.52,49.52 629.86,49.52 638.20,49.52 646.54,49.52 650.61,54.76 642.00,54.76 633.39,54.76 624.78,54.76ZM663.21,49.52 671.55,49.52 676.45,54.76 667.84,54.76ZM366.45,54.76 375.06,54.76 383.67,54.76 392.29,54.76 400.90,54.76 397.48,60.06 388.62,60.06 379.77,60.06 370.91,60.06 362.06,60.06ZM426.73,54.76 435.34,54.76 432.90,60.06 424.04,60.06ZM521.45,54.76 530.06,54.76 538.67,54.76 547.28,54.76 555.89,54.76 564.50,54.76 573.12,54.76 581.73,54.76 590.34,54.76 592.29,60.06 583.44,60.06 574.58,60.06 565.73,60.06 556.87,60.06 548.02,60.06 539.16,60.06 530.31,60.06 521.45,60.06ZM624.78,54.76 633.39,54.76 642.00,54.76 650.61,54.76 659.23,54.76 667.84,54.76 676.45,54.76 680.84,60.06 671.99,60.06 663.13,60.06 654.28,60.06 645.42,60.06 636.57,60.06 627.71,60.06ZM362.06,60.06 370.91,60.06 379.77,60.06 388.62,60.06 397.48,60.06 394.64,65.42 385.58,65.42 376.53,65.42 367.47,65.42 358.41,65.42ZM424.04,60.06 432.90,60.06 430.87,65.42 421.81,65.42ZM441.75,60.06 450.61,60.06 448.99,65.42 439.93,65.42ZM512.59,60.06 521.45,60.06 530.31,60.06 539.16,60.06 548.02,60.06 556.87,60.06 557.68,65.42 548.62,65.42 539.57,65.42 530.51,65.42 521.45,65.42 512.39,65.42ZM565.73,60.06 574.58,60.06 583.44,60.06 592.29,60.06 593.91,65.42 584.85,65.42 575.80,65.42 566.74,65.42ZM610.00,60.06 618.86,60.06 621.09,65.42 612.03,65.42ZM636.57,60.06 645.42,60.06 654.28,60.06 657.32,65.42 648.26,65.42 639.20,65.42ZM663.13,60.06 671.99,60.06 680.84,60.06 684.49,65.42 675.43,65.42 666.37,65.42ZM358.41,65.42 367.47,65.42 376.53,65.42 385.58,65.42 394.64,65.42 392.31,70.78 383.09,70.78 373.87,70.78 364.64,70.78 355.42,70.78ZM421.81,65.42 430.87,65.42 429.21,70.78 419.99,70.78ZM439.93,65.42 448.99,65.42 447.66,70.78 438.43,70.78ZM476.16,65.42 485.22,65.42 484.55,70.78 475.33,70.78ZM494.28,65.42 503.33,65.42 503.00,70.78 493.78,70.78ZM512.39,65.42 521.45,65.42 530.51,65.42 539.57,65.42 548.62,65.42 557.68,65.42 566.74,65.42 575.80,65.42 576.79,70.78 567.57,70.78 558.35,70.78 549.12,70.78 539.90,70.78 530.67,70.78 521.45,70.78 512.23,70.78ZM584.85,65.42 593.91,65.42 602.97,65.42 612.03,65.42 621.09,65.42 630.14,65.42 632.14,70.78 622.91,70.78 613.69,70.78 604.47,70.78 595.24,70.78 586.02,70.78ZM639.20,65.42 648.26,65.42 657.32,65.42 659.81,70.78 650.59,70.78 641.36,70.78ZM429.21,70.78 438.43,70.78 437.31,76.15 427.96,76.15ZM466.11,70.78 475.33,70.78 484.55,70.78 484.05,76.15 474.71,76.15 465.36,76.15ZM493.78,70.78 503.00,70.78 512.23,70.78 521.45,70.78 530.67,70.78 539.90,70.78 549.12,70.78 558.35,70.78 567.57,70.78 576.79,70.78 577.54,76.15 568.19,76.15 558.85,76.15 549.50,76.15 540.15,76.15 530.80,76.15 521.45,76.15 512.10,76.15 502.75,76.15 493.40,76.15ZM586.02,70.78 595.24,70.78 596.24,76.15 586.89,76.15ZM604.47,70.78 613.69,70.78 622.91,70.78 632.14,70.78 641.36,70.78 642.99,76.15 633.64,76.15 624.29,76.15 614.94,76.15 605.59,76.15ZM456.01,76.15 465.36,76.15 474.71,76.15 484.05,76.15 483.70,81.52 474.26,81.52 464.83,81.52 455.39,81.52ZM493.40,76.15 502.75,76.15 512.10,76.15 521.45,76.15 530.80,76.15 530.89,81.52 521.45,81.52 512.01,81.52 502.58,81.52 493.14,81.52ZM540.15,76.15 549.50,76.15 558.85,76.15 559.20,81.52 549.76,81.52 540.32,81.52ZM568.19,76.15 577.54,76.15 586.89,76.15 596.24,76.15 596.95,81.52 587.51,81.52 578.07,81.52 568.64,81.52ZM464.83,81.52 474.26,81.52 483.70,81.52 493.14,81.52 502.58,81.52 512.01,81.52 521.45,81.52 530.89,81.52 540.32,81.52 540.47,86.89 530.96,86.89 521.45,86.89 511.94,86.89 502.43,86.89 492.91,86.89 483.40,86.89 473.89,86.89 464.38,86.89ZM549.76,81.52 559.20,81.52 568.64,81.52 578.07,81.52 587.51,81.52 588.04,86.89 578.52,86.89 569.01,86.89 559.50,86.89 549.99,86.89ZM473.89,86.89 483.40,86.89 492.91,86.89 492.76,92.26 483.19,92.26 473.63,92.26ZM530.96,86.89 540.47,86.89 540.58,92.26 531.01,92.26ZM569.01,86.89 578.52,86.89 578.83,92.26 569.27,92.26ZM464.07,113.74 473.63,113.74 483.19,113.74 492.76,113.74 492.91,119.11 483.40,119.11 473.89,119.11 464.38,119.11ZM511.89,113.74 521.45,113.74 521.45,119.11 511.94,119.11ZM454.86,119.11 464.38,119.11 473.89,119.11 483.40,119.11 492.91,119.11 502.43,119.11 502.58,124.48 493.14,124.48 483.70,124.48 474.26,124.48 464.83,124.48 455.39,124.48ZM521.45,119.11 530.96,119.11 530.89,124.48 521.45,124.48ZM351.58,124.48 361.02,124.48 370.45,124.48 371.87,129.85 362.52,129.85 353.17,129.85ZM474.26,124.48 483.70,124.48 493.14,124.48 502.58,124.48 502.75,129.85 493.40,129.85 484.05,129.85 474.71,129.85ZM521.45,124.48 530.89,124.48 530.80,129.85 521.45,129.85ZM615.82,124.48 625.26,124.48 624.29,129.85 614.94,129.85ZM681.88,124.48 691.32,124.48 689.73,129.85 680.38,129.85ZM353.17,129.85 362.52,129.85 364.64,135.22 355.42,135.22ZM371.87,129.85 381.22,129.85 383.09,135.22 373.87,135.22ZM474.71,129.85 484.05,129.85 493.40,129.85 493.78,135.22 484.55,135.22 475.33,135.22ZM521.45,129.85 530.80,129.85 530.67,135.22 521.45,135.22ZM540.15,129.85 549.50,129.85 558.85,129.85 568.19,129.85 567.57,135.22 558.35,135.22 549.12,135.22 539.90,135.22ZM614.94,129.85 624.29,129.85 622.91,135.22 613.69,135.22ZM642.99,129.85 652.33,129.85 661.68,129.85 659.81,135.22 650.59,135.22 641.36,135.22ZM680.38,129.85 689.73,129.85 687.48,135.22 678.26,135.22ZM355.42,135.22 364.64,135.22 373.87,135.22 376.53,140.58 367.47,140.58 358.41,140.58ZM383.09,135.22 392.31,135.22 394.64,140.58 385.58,140.58ZM521.45,135.22 530.67,135.22 539.90,135.22 539.57,140.58 530.51,140.58 521.45,140.58ZM558.35,135.22 567.57,135.22 566.74,140.58 557.68,140.58ZM358.41,140.58 367.47,140.58 376.53,140.58 385.58,140.58 394.64,140.58 397.48,145.94 388.62,145.94 379.77,145.94 370.91,145.94 362.06,145.94ZM530.51,140.58 539.57,140.58 539.16,145.94 530.31,145.94ZM557.68,140.58 566.74,140.58 565.73,145.94 556.87,145.94ZM539.16,145.94 548.02,145.94 556.87,145.94 565.73,145.94 564.50,151.24 555.89,151.24 547.28,151.24 538.67,151.24Z" fill="#fa8a92"/><path d="M475.64,19.94 481.37,19.94 487.10,19.94 492.82,19.94 491.60,21.65 485.63,21.65 479.66,21.65 473.69,21.65ZM521.45,19.94 527.18,19.94 532.90,19.94 538.63,19.94 544.35,19.94 545.33,21.65 539.36,21.65 533.39,21.65 527.42,21.65 521.45,21.65ZM425.94,21.65 431.91,21.65 437.87,21.65 430.89,25.61 424.43,25.61 417.96,25.61ZM455.78,21.65 461.75,21.65 467.72,21.65 473.69,21.65 479.66,21.65 485.63,21.65 491.60,21.65 497.57,21.65 503.54,21.65 509.51,21.65 508.51,25.61 502.05,25.61 495.58,25.61 489.11,25.61 482.64,25.61 476.17,25.61 469.70,25.61 463.24,25.61 456.77,25.61 450.30,25.61ZM521.45,21.65 527.42,21.65 533.39,21.65 534.39,25.61 527.92,25.61 521.45,25.61ZM430.89,25.61 437.36,25.61 431.69,29.95 424.79,29.95ZM456.77,25.61 463.24,25.61 469.70,25.61 476.17,25.61 482.64,25.61 489.11,25.61 486.93,29.95 480.02,29.95 473.12,29.95 466.21,29.95 459.31,29.95 452.40,29.95ZM502.05,25.61 508.51,25.61 507.64,29.95 500.74,29.95ZM521.45,25.61 527.92,25.61 534.39,25.61 535.26,29.95 528.35,29.95 521.45,29.95ZM473.12,29.95 480.02,29.95 486.93,29.95 484.95,34.56 477.65,34.56 470.35,34.56ZM493.83,29.95 500.74,29.95 499.55,34.56 492.25,34.56ZM521.45,29.95 528.35,29.95 535.26,29.95 536.05,34.56 528.75,34.56 521.45,34.56ZM477.65,34.56 484.95,34.56 492.25,34.56 490.76,39.38 483.08,39.38 475.41,39.38ZM521.45,34.56 528.75,34.56 529.12,39.38 521.45,39.38ZM521.45,39.38 529.12,39.38 529.47,44.38 521.45,44.38ZM604.84,49.52 613.18,49.52 621.52,49.52 624.78,54.76 616.17,54.76 607.56,54.76ZM590.34,54.76 598.95,54.76 607.56,54.76 616.17,54.76 624.78,54.76 627.71,60.06 618.86,60.06 610.00,60.06 601.15,60.06 592.29,60.06ZM415.19,60.06 424.04,60.06 421.81,65.42 412.76,65.42ZM432.90,60.06 441.75,60.06 439.93,65.42 430.87,65.42ZM592.29,60.06 601.15,60.06 610.00,60.06 612.03,65.42 602.97,65.42 593.91,65.42ZM618.86,60.06 627.71,60.06 636.57,60.06 639.20,65.42 630.14,65.42 621.09,65.42ZM430.87,65.42 439.93,65.42 438.43,70.78 429.21,70.78ZM485.22,65.42 494.28,65.42 493.78,70.78 484.55,70.78ZM575.80,65.42 584.85,65.42 586.02,70.78 576.79,70.78ZM630.14,65.42 639.20,65.42 641.36,70.78 632.14,70.78ZM484.55,70.78 493.78,70.78 493.40,76.15 484.05,76.15ZM576.79,70.78 586.02,70.78 586.89,76.15 577.54,76.15ZM484.05,76.15 493.40,76.15 493.14,81.52 483.70,81.52ZM530.80,76.15 540.15,76.15 540.32,81.52 530.89,81.52ZM558.85,76.15 568.19,76.15 568.64,81.52 559.20,81.52ZM362.52,129.85 371.87,129.85 373.87,135.22 364.64,135.22ZM373.87,135.22 383.09,135.22 385.58,140.58 376.53,140.58ZM539.90,135.22 549.12,135.22 558.35,135.22 557.68,140.58 548.62,140.58 539.57,140.58ZM539.57,140.58 548.62,140.58 557.68,140.58 556.87,145.94 548.02,145.94 539.16,145.94Z" fill="#f45a66"/><path d="M618.79,19.94 624.51,19.94 628.90,21.65 622.93,21.65ZM581.15,21.65 587.12,21.65 593.09,21.65 599.07,25.61 592.60,25.61 586.13,25.61ZM610.99,21.65 616.96,21.65 624.94,25.61 618.47,25.61ZM405.02,25.61 411.49,25.61 404.07,29.95 397.17,29.95ZM553.79,25.61 560.26,25.61 566.73,25.61 573.20,25.61 579.66,25.61 586.13,25.61 592.60,25.61 599.07,25.61 605.54,25.61 612.01,25.61 618.11,29.95 611.21,29.95 604.30,29.95 597.40,29.95 590.50,29.95 583.59,29.95 576.69,29.95 569.78,29.95 562.88,29.95 555.97,29.95ZM624.94,25.61 631.41,25.61 638.83,29.95 631.92,29.95ZM397.17,29.95 404.07,29.95 397.36,34.56 390.06,34.56ZM431.69,29.95 438.60,29.95 445.50,29.95 441.16,34.56 433.86,34.56 426.56,34.56ZM542.16,29.95 549.07,29.95 555.97,29.95 562.88,29.95 569.78,29.95 576.69,29.95 579.85,34.56 572.55,34.56 565.25,34.56 557.95,34.56 550.65,34.56 543.35,34.56ZM583.59,29.95 590.50,29.95 597.40,29.95 604.30,29.95 611.21,29.95 618.11,29.95 623.64,34.56 616.34,34.56 609.04,34.56 601.74,34.56 594.44,34.56 587.15,34.56ZM625.02,29.95 631.92,29.95 638.24,34.56 630.94,34.56ZM390.06,34.56 397.36,34.56 404.66,34.56 398.68,39.38 391.01,39.38 383.33,39.38ZM426.56,34.56 433.86,34.56 429.37,39.38 421.70,39.38ZM441.16,34.56 448.46,34.56 455.75,34.56 452.39,39.38 444.72,39.38 437.04,39.38ZM550.65,34.56 557.95,34.56 565.25,34.56 572.55,34.56 579.85,34.56 582.84,39.38 575.16,39.38 567.49,39.38 559.82,39.38 552.14,39.38ZM587.15,34.56 594.44,34.56 601.74,34.56 609.04,34.56 616.34,34.56 623.64,34.56 630.94,34.56 638.24,34.56 644.22,39.38 636.55,39.38 628.88,39.38 621.20,39.38 613.53,39.38 605.86,39.38 598.18,39.38 590.51,39.38ZM383.33,39.38 391.01,39.38 398.68,39.38 393.08,44.38 385.06,44.38 377.04,44.38ZM421.70,39.38 429.37,39.38 437.04,39.38 433.20,44.38 425.17,44.38 417.15,44.38ZM498.43,39.38 506.10,39.38 505.40,44.38 497.38,44.38ZM552.14,39.38 559.82,39.38 561.56,44.38 553.54,44.38ZM567.49,39.38 575.16,39.38 582.84,39.38 590.51,39.38 598.18,39.38 605.86,39.38 613.53,39.38 617.73,44.38 609.70,44.38 601.68,44.38 593.66,44.38 585.63,44.38 577.61,44.38 569.59,44.38ZM621.20,39.38 628.88,39.38 636.55,39.38 644.22,39.38 649.82,44.38 641.79,44.38 633.77,44.38 625.75,44.38ZM377.04,44.38 385.06,44.38 393.08,44.38 401.11,44.38 409.13,44.38 417.15,44.38 425.17,44.38 421.38,49.52 413.04,49.52 404.70,49.52 396.36,49.52 388.02,49.52 379.69,49.52 371.35,49.52ZM489.36,44.38 497.38,44.38 505.40,44.38 504.77,49.52 496.43,49.52 488.09,49.52ZM625.75,44.38 633.77,44.38 641.79,44.38 649.82,44.38 654.88,49.52 646.54,49.52 638.20,49.52 629.86,49.52ZM371.35,49.52 379.69,49.52 388.02,49.52 396.36,49.52 404.70,49.52 413.04,49.52 421.38,49.52 429.72,49.52 426.73,54.76 418.12,54.76 409.51,54.76 400.90,54.76 392.29,54.76 383.67,54.76 375.06,54.76 366.45,54.76ZM438.06,49.52 446.40,49.52 454.74,49.52 452.56,54.76 443.95,54.76 435.34,54.76ZM479.75,49.52 488.09,49.52 496.43,49.52 504.77,49.52 513.11,49.52 512.84,54.76 504.23,54.76 495.62,54.76 487.01,54.76 478.40,54.76ZM646.54,49.52 654.88,49.52 663.21,49.52 667.84,54.76 659.23,54.76 650.61,54.76ZM400.90,54.76 409.51,54.76 418.12,54.76 426.73,54.76 424.04,60.06 415.19,60.06 406.33,60.06 397.48,60.06ZM435.34,54.76 443.95,54.76 452.56,54.76 461.17,54.76 469.78,54.76 478.40,54.76 487.01,54.76 495.62,54.76 504.23,54.76 512.84,54.76 521.45,54.76 521.45,60.06 512.59,60.06 503.74,60.06 494.88,60.06 486.03,60.06 477.17,60.06 468.32,60.06 459.46,60.06 450.61,60.06 441.75,60.06 432.90,60.06ZM397.48,60.06 406.33,60.06 415.19,60.06 412.76,65.42 403.70,65.42 394.64,65.42ZM450.61,60.06 459.46,60.06 468.32,60.06 477.17,60.06 486.03,60.06 494.88,60.06 503.74,60.06 512.59,60.06 512.39,65.42 503.33,65.42 494.28,65.42 485.22,65.42 476.16,65.42 467.10,65.42 458.05,65.42 448.99,65.42ZM556.87,60.06 565.73,60.06 566.74,65.42 557.68,65.42ZM654.28,60.06 663.13,60.06 666.37,65.42 657.32,65.42ZM394.64,65.42 403.70,65.42 412.76,65.42 421.81,65.42 419.99,70.78 410.76,70.78 401.54,70.78 392.31,70.78ZM448.99,65.42 458.05,65.42 467.10,65.42 476.16,65.42 475.33,70.78 466.11,70.78 456.88,70.78 447.66,70.78ZM503.33,65.42 512.39,65.42 512.23,70.78 503.00,70.78ZM657.32,65.42 666.37,65.42 675.43,65.42 684.49,65.42 687.48,70.78 678.26,70.78 669.03,70.78 659.81,70.78ZM355.42,70.78 364.64,70.78 373.87,70.78 383.09,70.78 392.31,70.78 401.54,70.78 410.76,70.78 419.99,70.78 429.21,70.78 427.96,76.15 418.61,76.15 409.26,76.15 399.91,76.15 390.57,76.15 381.22,76.15 371.87,76.15 362.52,76.15 353.17,76.15ZM438.43,70.78 447.66,70.78 456.88,70.78 466.11,70.78 465.36,76.15 456.01,76.15 446.66,76.15 437.31,76.15ZM595.24,70.78 604.47,70.78 605.59,76.15 596.24,76.15ZM641.36,70.78 650.59,70.78 659.81,70.78 669.03,70.78 678.26,70.78 687.48,70.78 689.73,76.15 680.38,76.15 671.03,76.15 661.68,76.15 652.33,76.15 642.99,76.15ZM353.17,76.15 362.52,76.15 361.02,81.52 351.58,81.52ZM418.61,76.15 427.96,76.15 437.31,76.15 446.66,76.15 456.01,76.15 455.39,81.52 445.95,81.52 436.51,81.52 427.08,81.52 417.64,81.52ZM596.24,76.15 605.59,76.15 614.94,76.15 624.29,76.15 633.64,76.15 642.99,76.15 652.33,76.15 661.68,76.15 671.03,76.15 680.38,76.15 689.73,76.15 691.32,81.52 681.88,81.52 672.45,81.52 663.01,81.52 653.57,81.52 644.13,81.52 634.70,81.52 625.26,81.52 615.82,81.52 606.39,81.52 596.95,81.52ZM351.58,81.52 361.02,81.52 359.74,86.89 350.23,86.89ZM427.08,81.52 436.51,81.52 445.95,81.52 455.39,81.52 464.83,81.52 464.38,86.89 454.86,86.89 445.35,86.89 435.84,86.89 426.33,86.89ZM540.32,81.52 549.76,81.52 549.99,86.89 540.47,86.89ZM587.51,81.52 596.95,81.52 606.39,81.52 615.82,81.52 625.26,81.52 634.70,81.52 644.13,81.52 653.57,81.52 663.01,81.52 672.45,81.52 681.88,81.52 691.32,81.52 692.67,86.89 683.16,86.89 673.65,86.89 664.13,86.89 654.62,86.89 645.11,86.89 635.60,86.89 626.08,86.89 616.57,86.89 607.06,86.89 597.55,86.89 588.04,86.89ZM350.23,86.89 359.74,86.89 358.86,92.26 349.30,92.26ZM426.33,86.89 435.84,86.89 445.35,86.89 454.86,86.89 464.38,86.89 473.89,86.89 473.63,92.26 464.07,92.26 454.50,92.26 444.94,92.26 435.37,92.26 425.81,92.26ZM492.91,86.89 502.43,86.89 511.94,86.89 521.45,86.89 530.96,86.89 531.01,92.26 521.45,92.26 511.89,92.26 502.32,92.26 492.76,92.26ZM540.47,86.89 549.99,86.89 559.50,86.89 569.01,86.89 569.27,92.26 559.71,92.26 550.14,92.26 540.58,92.26ZM578.52,86.89 588.04,86.89 597.55,86.89 607.06,86.89 616.57,86.89 626.08,86.89 635.60,86.89 645.11,86.89 654.62,86.89 664.13,86.89 673.65,86.89 683.16,86.89 692.67,86.89 693.60,92.26 684.04,92.26 674.48,92.26 664.91,92.26 655.35,92.26 645.78,92.26 636.22,92.26 626.66,92.26 617.09,92.26 607.53,92.26 597.96,92.26 588.40,92.26 578.83,92.26ZM349.30,92.26 358.86,92.26 358.34,97.63 348.74,97.63ZM416.24,92.26 425.81,92.26 435.37,92.26 444.94,92.26 454.50,92.26 464.07,92.26 473.63,92.26 483.19,92.26 492.76,92.26 502.32,92.26 511.89,92.26 521.45,92.26 531.01,92.26 540.58,92.26 550.14,92.26 559.71,92.26 559.83,97.63 550.23,97.63 540.64,97.63 531.04,97.63 521.45,97.63 511.86,97.63 502.26,97.63 492.67,97.63 483.07,97.63 473.48,97.63 463.88,97.63 454.29,97.63 444.69,97.63 435.10,97.63 425.50,97.63 415.91,97.63ZM569.27,92.26 578.83,92.26 588.40,92.26 597.96,92.26 607.53,92.26 617.09,92.26 626.66,92.26 636.22,92.26 645.78,92.26 655.35,92.26 664.91,92.26 674.48,92.26 684.04,92.26 693.60,92.26 694.16,97.63 684.56,97.63 674.97,97.63 665.37,97.63 655.78,97.63 646.18,97.63 636.59,97.63 626.99,97.63 617.40,97.63 607.80,97.63 598.21,97.63 588.61,97.63 579.02,97.63 569.42,97.63ZM348.74,97.63 358.34,97.63 358.11,103.00 348.50,103.00ZM406.31,97.63 415.91,97.63 425.50,97.63 435.10,97.63 444.69,97.63 454.29,97.63 463.88,97.63 473.48,97.63 483.07,97.63 492.67,97.63 502.26,97.63 511.86,97.63 521.45,97.63 531.04,97.63 540.64,97.63 550.23,97.63 559.83,97.63 569.42,97.63 569.49,103.00 559.88,103.00 550.28,103.00 540.67,103.00 531.06,103.00 521.45,103.00 511.84,103.00 502.23,103.00 492.63,103.00 483.02,103.00 473.41,103.00 463.80,103.00 454.19,103.00 444.58,103.00 434.98,103.00 425.37,103.00 415.76,103.00 406.15,103.00ZM579.02,97.63 588.61,97.63 598.21,97.63 607.80,97.63 617.40,97.63 626.99,97.63 636.59,97.63 646.18,97.63 655.78,97.63 665.37,97.63 674.97,97.63 684.56,97.63 694.16,97.63 694.40,103.00 684.79,103.00 675.18,103.00 665.58,103.00 655.97,103.00 646.36,103.00 636.75,103.00 627.14,103.00 617.53,103.00 607.93,103.00 598.32,103.00 588.71,103.00 579.10,103.00ZM348.50,103.00 358.11,103.00 367.72,103.00 367.93,108.37 358.34,108.37 348.74,108.37ZM377.33,103.00 386.93,103.00 396.54,103.00 396.72,108.37 387.12,108.37 377.53,108.37ZM406.15,103.00 415.76,103.00 425.37,103.00 434.98,103.00 444.58,103.00 454.19,103.00 463.80,103.00 473.41,103.00 483.02,103.00 492.63,103.00 502.23,103.00 511.84,103.00 521.45,103.00 531.06,103.00 540.67,103.00 550.28,103.00 559.88,103.00 569.49,103.00 579.10,103.00 588.71,103.00 598.32,103.00 607.93,103.00 617.53,103.00 627.14,103.00 636.75,103.00 646.36,103.00 655.97,103.00 665.58,103.00 675.18,103.00 684.79,103.00 694.40,103.00 694.16,108.37 684.56,108.37 674.97,108.37 665.37,108.37 655.78,108.37 646.18,108.37 636.59,108.37 626.99,108.37 617.40,108.37 607.80,108.37 598.21,108.37 588.61,108.37 579.02,108.37 569.42,108.37 559.83,108.37 550.23,108.37 540.64,108.37 531.04,108.37 521.45,108.37 511.86,108.37 502.26,108.37 492.67,108.37 483.07,108.37 473.48,108.37 463.88,108.37 454.29,108.37 444.69,108.37 435.10,108.37 425.50,108.37 415.91,108.37 406.31,108.37ZM348.74,108.37 358.34,108.37 367.93,108.37 368.42,113.74 358.86,113.74 349.30,113.74ZM387.12,108.37 396.72,108.37 397.12,113.74 387.55,113.74ZM415.91,108.37 425.50,108.37 435.10,108.37 444.69,108.37 454.29,108.37 463.88,108.37 473.48,108.37 483.07,108.37 492.67,108.37 502.26,108.37 511.86,108.37 521.45,108.37 531.04,108.37 540.64,108.37 550.23,108.37 559.83,108.37 569.42,108.37 579.02,108.37 588.61,108.37 598.21,108.37 607.80,108.37 617.40,108.37 626.99,108.37 636.59,108.37 646.18,108.37 655.78,108.37 665.37,108.37 674.97,108.37 684.56,108.37 694.16,108.37 693.60,113.74 684.04,113.74 674.48,113.74 664.91,113.74 655.35,113.74 645.78,113.74 636.22,113.74 626.66,113.74 617.09,113.74 607.53,113.74 597.96,113.74 588.40,113.74 578.83,113.74 569.27,113.74 559.71,113.74 550.14,113.74 540.58,113.74 531.01,113.74 521.45,113.74 511.89,113.74 502.32,113.74 492.76,113.74 483.19,113.74 473.63,113.74 464.07,113.74 454.50,113.74 444.94,113.74 435.37,113.74 425.81,113.74 416.24,113.74ZM349.30,113.74 358.86,113.74 368.42,113.74 369.25,119.11 359.74,119.11 350.23,119.11ZM387.55,113.74 397.12,113.74 406.68,113.74 416.24,113.74 416.82,119.11 407.30,119.11 397.79,119.11 388.28,119.11ZM425.81,113.74 435.37,113.74 444.94,113.74 454.50,113.74 464.07,113.74 464.38,119.11 454.86,119.11 445.35,119.11 435.84,119.11 426.33,119.11ZM492.76,113.74 502.32,113.74 511.89,113.74 511.94,119.11 502.43,119.11 492.91,119.11ZM521.45,113.74 531.01,113.74 540.58,113.74 550.14,113.74 559.71,113.74 569.27,113.74 578.83,113.74 588.40,113.74 597.96,113.74 607.53,113.74 617.09,113.74 626.66,113.74 636.22,113.74 645.78,113.74 655.35,113.74 664.91,113.74 674.48,113.74 684.04,113.74 693.60,113.74 692.67,119.11 683.16,119.11 673.65,119.11 664.13,119.11 654.62,119.11 645.11,119.11 635.60,119.11 626.08,119.11 616.57,119.11 607.06,119.11 597.55,119.11 588.04,119.11 578.52,119.11 569.01,119.11 559.50,119.11 549.99,119.11 540.47,119.11 530.96,119.11 521.45,119.11ZM350.23,119.11 359.74,119.11 369.25,119.11 370.45,124.48 361.02,124.48 351.58,124.48ZM388.28,119.11 397.79,119.11 407.30,119.11 416.82,119.11 417.64,124.48 408.20,124.48 398.77,124.48 389.33,124.48ZM435.84,119.11 445.35,119.11 454.86,119.11 455.39,124.48 445.95,124.48 436.51,124.48ZM502.43,119.11 511.94,119.11 521.45,119.11 521.45,124.48 512.01,124.48 502.58,124.48ZM530.96,119.11 540.47,119.11 549.99,119.11 559.50,119.11 569.01,119.11 578.52,119.11 588.04,119.11 597.55,119.11 607.06,119.11 616.57,119.11 626.08,119.11 635.60,119.11 645.11,119.11 654.62,119.11 664.13,119.11 673.65,119.11 683.16,119.11 692.67,119.11 691.32,124.48 681.88,124.48 672.45,124.48 663.01,124.48 653.57,124.48 644.13,124.48 634.70,124.48 625.26,124.48 615.82,124.48 606.39,124.48 596.95,124.48 587.51,124.48 578.07,124.48 568.64,124.48 559.20,124.48 549.76,124.48 540.32,124.48 530.89,124.48ZM379.89,124.48 389.33,124.48 398.77,124.48 408.20,124.48 417.64,124.48 418.61,129.85 409.26,129.85 399.91,129.85 390.57,129.85 381.22,129.85ZM436.51,124.48 445.95,124.48 455.39,124.48 464.83,124.48 474.26,124.48 474.71,129.85 465.36,129.85 456.01,129.85 446.66,129.85 437.31,129.85ZM502.58,124.48 512.01,124.48 521.45,124.48 521.45,129.85 512.10,129.85 502.75,129.85ZM530.89,124.48 540.32,124.48 549.76,124.48 559.20,124.48 568.64,124.48 578.07,124.48 587.51,124.48 596.95,124.48 606.39,124.48 615.82,124.48 614.94,129.85 605.59,129.85 596.24,129.85 586.89,129.85 577.54,129.85 568.19,129.85 558.85,129.85 549.50,129.85 540.15,129.85 530.80,129.85ZM625.26,124.48 634.70,124.48 644.13,124.48 653.57,124.48 663.01,124.48 672.45,124.48 681.88,124.48 680.38,129.85 671.03,129.85 661.68,129.85 652.33,129.85 642.99,129.85 633.64,129.85 624.29,129.85ZM381.22,129.85 390.57,129.85 399.91,129.85 409.26,129.85 418.61,129.85 419.99,135.22 410.76,135.22 401.54,135.22 392.31,135.22 383.09,135.22ZM465.36,129.85 474.71,129.85 475.33,135.22 466.11,135.22ZM493.40,129.85 502.75,129.85 512.10,129.85 521.45,129.85 521.45,135.22 512.23,135.22 503.00,135.22 493.78,135.22ZM530.80,129.85 540.15,129.85 539.90,135.22 530.67,135.22ZM568.19,129.85 577.54,129.85 586.89,129.85 596.24,129.85 605.59,129.85 614.94,129.85 613.69,135.22 604.47,135.22 595.24,135.22 586.02,135.22 576.79,135.22 567.57,135.22ZM624.29,129.85 633.64,129.85 642.99,129.85 641.36,135.22 632.14,135.22 622.91,135.22ZM661.68,129.85 671.03,129.85 680.38,129.85 678.26,135.22 669.03,135.22 659.81,135.22ZM392.31,135.22 401.54,135.22 410.76,135.22 412.76,140.58 403.70,140.58 394.64,140.58ZM456.88,135.22 466.11,135.22 475.33,135.22 484.55,135.22 493.78,135.22 503.00,135.22 512.23,135.22 521.45,135.22 521.45,140.58 512.39,140.58 503.33,140.58 494.28,140.58 485.22,140.58 476.16,140.58 467.10,140.58 458.05,140.58ZM567.57,135.22 576.79,135.22 575.80,140.58 566.74,140.58ZM595.24,135.22 604.47,135.22 613.69,135.22 622.91,135.22 632.14,135.22 641.36,135.22 650.59,135.22 659.81,135.22 669.03,135.22 678.26,135.22 687.48,135.22 684.49,140.58 675.43,140.58 666.37,140.58 657.32,140.58 648.26,140.58 639.20,140.58 630.14,140.58 621.09,140.58 612.03,140.58 602.97,140.58 593.91,140.58ZM394.64,140.58 403.70,140.58 412.76,140.58 415.19,145.94 406.33,145.94 397.48,145.94ZM458.05,140.58 467.10,140.58 476.16,140.58 485.22,140.58 494.28,140.58 503.33,140.58 512.39,140.58 521.45,140.58 530.51,140.58 530.31,145.94 521.45,145.94 512.59,145.94 503.74,145.94 494.88,145.94 486.03,145.94 477.17,145.94 468.32,145.94 459.46,145.94ZM593.91,140.58 602.97,140.58 612.03,140.58 621.09,140.58 630.14,140.58 639.20,140.58 648.26,140.58 657.32,140.58 666.37,140.58 675.43,140.58 684.49,140.58 680.84,145.94 671.99,145.94 663.13,145.94 654.28,145.94 645.42,145.94 636.57,145.94 627.71,145.94 618.86,145.94 610.00,145.94 601.15,145.94 592.29,145.94ZM362.06,145.94 370.91,145.94 379.77,145.94 388.62,145.94 397.48,145.94 406.33,145.94 409.51,151.24 400.90,151.24 392.29,151.24 383.67,151.24 375.06,151.24 366.45,151.24ZM459.46,145.94 468.32,145.94 477.17,145.94 486.03,145.94 494.88,145.94 503.74,145.94 504.23,151.24 495.62,151.24 487.01,151.24 478.40,151.24 469.78,151.24 461.17,151.24ZM530.31,145.94 539.16,145.94 538.67,151.24 530.06,151.24ZM601.15,145.94 610.00,145.94 618.86,145.94 627.71,145.94 636.57,145.94 633.39,151.24 624.78,151.24 616.17,151.24 607.56,151.24 598.95,151.24ZM663.13,145.94 671.99,145.94 680.84,145.94 676.45,151.24 667.84,151.24 659.23,151.24ZM366.45,151.24 375.06,151.24 383.67,151.24 388.02,156.48 379.69,156.48 371.35,156.48ZM487.01,151.24 495.62,151.24 496.43,156.48 488.09,156.48ZM538.67,151.24 547.28,151.24 546.47,156.48 538.13,156.48ZM624.78,151.24 633.39,151.24 642.00,151.24 638.20,156.48 629.86,156.48 621.52,156.48Z" fill="#fcb3b8"/><path d="M489.11,25.61 495.58,25.61 502.05,25.61 500.74,29.95 493.83,29.95 486.93,29.95ZM486.93,29.95 493.83,29.95 492.25,34.56 484.95,34.56Z" fill="#f33a30"/><path d="M576.69,29.95 583.59,29.95 587.15,34.56 579.85,34.56ZM618.11,29.95 625.02,29.95 630.94,34.56 623.64,34.56ZM579.85,34.56 587.15,34.56 590.51,39.38 582.84,39.38ZM362.52,76.15 371.87,76.15 381.22,76.15 390.57,76.15 399.91,76.15 409.26,76.15 418.61,76.15 417.64,81.52 408.20,81.52 398.77,81.52 389.33,81.52 379.89,81.52 370.45,81.52 361.02,81.52ZM361.02,81.52 370.45,81.52 379.89,81.52 389.33,81.52 398.77,81.52 408.20,81.52 417.64,81.52 427.08,81.52 426.33,86.89 416.82,86.89 407.30,86.89 397.79,86.89 388.28,86.89 378.77,86.89 369.25,86.89 359.74,86.89ZM359.74,86.89 369.25,86.89 378.77,86.89 388.28,86.89 397.79,86.89 407.30,86.89 416.82,86.89 426.33,86.89 425.81,92.26 416.24,92.26 406.68,92.26 397.12,92.26 387.55,92.26 377.99,92.26 368.42,92.26 358.86,92.26ZM358.86,92.26 368.42,92.26 377.99,92.26 387.55,92.26 397.12,92.26 406.68,92.26 416.24,92.26 415.91,97.63 406.31,97.63 396.72,97.63 387.12,97.63 377.53,97.63 367.93,97.63 358.34,97.63ZM559.71,92.26 569.27,92.26 569.42,97.63 559.83,97.63ZM358.34,97.63 367.93,97.63 377.53,97.63 387.12,97.63 396.72,97.63 406.31,97.63 406.15,103.00 396.54,103.00 386.93,103.00 377.33,103.00 367.72,103.00 358.11,103.00ZM569.42,97.63 579.02,97.63 579.10,103.00 569.49,103.00ZM367.72,103.00 377.33,103.00 377.53,108.37 367.93,108.37ZM396.54,103.00 406.15,103.00 406.31,108.37 396.72,108.37ZM367.93,108.37 377.53,108.37 387.12,108.37 387.55,113.74 377.99,113.74 368.42,113.74ZM396.72,108.37 406.31,108.37 415.91,108.37 416.24,113.74 406.68,113.74 397.12,113.74ZM368.42,113.74 377.99,113.74 387.55,113.74 388.28,119.11 378.77,119.11 369.25,119.11ZM416.24,113.74 425.81,113.74 426.33,119.11 416.82,119.11ZM369.25,119.11 378.77,119.11 388.28,119.11 389.33,124.48 379.89,124.48 370.45,124.48ZM416.82,119.11 426.33,119.11 435.84,119.11 436.51,124.48 427.08,124.48 417.64,124.48ZM370.45,124.48 379.89,124.48 381.22,129.85 371.87,129.85ZM417.64,124.48 427.08,124.48 436.51,124.48 437.31,129.85 427.96,129.85 418.61,129.85ZM418.61,129.85 427.96,129.85 437.31,129.85 446.66,129.85 456.01,129.85 465.36,129.85 466.11,135.22 456.88,135.22 447.66,135.22 438.43,135.22 429.21,135.22 419.99,135.22ZM410.76,135.22 419.99,135.22 429.21,135.22 438.43,135.22 447.66,135.22 456.88,135.22 458.05,140.58 448.99,140.58 439.93,140.58 430.87,140.58 421.81,140.58 412.76,140.58ZM576.79,135.22 586.02,135.22 595.24,135.22 593.91,140.58 584.85,140.58 575.80,140.58ZM412.76,140.58 421.81,140.58 430.87,140.58 439.93,140.58 448.99,140.58 458.05,140.58 459.46,145.94 450.61,145.94 441.75,145.94 432.90,145.94 424.04,145.94 415.19,145.94ZM566.74,140.58 575.80,140.58 584.85,140.58 593.91,140.58 592.29,145.94 583.44,145.94 574.58,145.94 565.73,145.94ZM406.33,145.94 415.19,145.94 424.04,145.94 432.90,145.94 441.75,145.94 443.95,151.24 435.34,151.24 426.73,151.24 418.12,151.24 409.51,151.24ZM450.61,145.94 459.46,145.94 461.17,151.24 452.56,151.24ZM503.74,145.94 512.59,145.94 521.45,145.94 530.31,145.94 530.06,151.24 521.45,151.24 512.84,151.24 504.23,151.24ZM565.73,145.94 574.58,145.94 583.44,145.94 592.29,145.94 601.15,145.94 598.95,151.24 590.34,151.24 581.73,151.24 573.12,151.24 564.50,151.24ZM636.57,145.94 645.42,145.94 654.28,145.94 663.13,145.94 659.23,151.24 650.61,151.24 642.00,151.24 633.39,151.24ZM383.67,151.24 392.29,151.24 400.90,151.24 409.51,151.24 413.04,156.48 404.70,156.48 396.36,156.48 388.02,156.48ZM452.56,151.24 461.17,151.24 469.78,151.24 478.40,151.24 487.01,151.24 488.09,156.48 479.75,156.48 471.42,156.48 463.08,156.48 454.74,156.48ZM495.62,151.24 504.23,151.24 512.84,151.24 521.45,151.24 521.45,156.48 513.11,156.48 504.77,156.48 496.43,156.48ZM530.06,151.24 538.67,151.24 538.13,156.48 529.79,156.48ZM547.28,151.24 555.89,151.24 564.50,151.24 573.12,151.24 571.48,156.48 563.15,156.48 554.81,156.48 546.47,156.48ZM581.73,151.24 590.34,151.24 598.95,151.24 607.56,151.24 616.17,151.24 624.78,151.24 621.52,156.48 613.18,156.48 604.84,156.48 596.50,156.48 588.16,156.48 579.82,156.48ZM642.00,151.24 650.61,151.24 659.23,151.24 667.84,151.24 676.45,151.24 671.55,156.48 663.21,156.48 654.88,156.48 646.54,156.48 638.20,156.48ZM371.35,156.48 379.69,156.48 388.02,156.48 396.36,156.48 401.11,161.62 393.08,161.62 385.06,161.62 377.04,161.62ZM454.74,156.48 463.08,156.48 471.42,156.48 479.75,156.48 488.09,156.48 496.43,156.48 504.77,156.48 505.40,161.62 497.38,161.62 489.36,161.62 481.34,161.62 473.31,161.62 465.29,161.62 457.27,161.62ZM554.81,156.48 563.15,156.48 571.48,156.48 569.59,161.62 561.56,161.62 553.54,161.62ZM604.84,156.48 613.18,156.48 621.52,156.48 629.86,156.48 638.20,156.48 633.77,161.62 625.75,161.62 617.73,161.62 609.70,161.62 601.68,161.62ZM465.29,161.62 473.31,161.62 481.34,161.62 489.36,161.62 497.38,161.62 498.43,166.62 490.76,166.62 483.08,166.62 475.41,166.62 467.74,166.62ZM601.68,161.62 609.70,161.62 605.86,166.62 598.18,166.62ZM437.04,166.62 444.72,166.62 452.39,166.62 460.06,166.62 467.74,166.62 475.41,166.62 483.08,166.62 490.76,166.62 492.25,171.44 484.95,171.44 477.65,171.44 470.35,171.44 463.05,171.44 455.75,171.44 448.46,171.44 441.16,171.44ZM404.66,171.44 411.96,171.44 419.26,171.44 426.56,171.44 431.69,176.05 424.79,176.05 417.88,176.05 410.98,176.05ZM441.16,171.44 448.46,171.44 455.75,171.44 463.05,171.44 470.35,171.44 477.65,171.44 484.95,171.44 492.25,171.44 499.55,171.44 506.85,171.44 514.15,171.44 514.55,176.05 507.64,176.05 500.74,176.05 493.83,176.05 486.93,176.05 480.02,176.05 473.12,176.05 466.21,176.05 459.31,176.05 452.40,176.05 445.50,176.05ZM410.98,176.05 417.88,176.05 424.79,176.05 431.69,176.05 438.60,176.05 445.50,176.05 452.40,176.05 459.31,176.05 466.21,176.05 473.12,176.05 480.02,176.05 486.93,176.05 493.83,176.05 500.74,176.05 507.64,176.05 514.55,176.05 514.98,180.39 508.51,180.39 502.05,180.39 495.58,180.39 489.11,180.39 482.64,180.39 476.17,180.39 469.70,180.39 463.24,180.39 456.77,180.39 450.30,180.39 443.83,180.39 437.36,180.39 430.89,180.39 424.43,180.39 417.96,180.39ZM411.49,180.39 417.96,180.39 424.43,180.39 430.89,180.39 437.36,180.39 443.83,180.39 450.30,180.39 456.77,180.39 463.24,180.39 469.70,180.39 476.17,180.39 482.64,180.39 489.11,180.39 495.58,180.39 502.05,180.39 508.51,180.39 514.98,180.39 515.48,184.35 509.51,184.35 503.54,184.35 497.57,184.35 491.60,184.35 485.63,184.35 479.66,184.35 473.69,184.35 467.72,184.35 461.75,184.35 455.78,184.35 449.81,184.35 443.84,184.35 437.87,184.35 431.91,184.35 425.94,184.35 419.97,184.35ZM419.97,184.35 425.94,184.35 431.91,184.35 437.87,184.35 443.84,184.35 449.81,184.35 455.78,184.35 461.75,184.35 467.72,184.35 473.69,184.35 479.66,184.35 485.63,184.35 491.60,184.35 497.57,184.35 503.54,184.35 509.51,184.35 515.48,184.35 521.45,184.35 521.45,186.06 515.72,186.06 510.00,186.06 504.27,186.06 498.55,186.06 492.82,186.06 487.10,186.06 481.37,186.06 475.64,186.06 469.92,186.06 464.19,186.06 458.47,186.06 452.74,186.06 447.02,186.06 441.29,186.06 435.57,186.06 429.84,186.06 424.11,186.06Z" fill="#fdd8dc"/><path d="M441.75,145.94 450.61,145.94 452.56,151.24 443.95,151.24ZM409.51,151.24 418.12,151.24 426.73,151.24 435.34,151.24 443.95,151.24 452.56,151.24 454.74,156.48 446.40,156.48 438.06,156.48 429.72,156.48 421.38,156.48 413.04,156.48ZM521.45,151.24 530.06,151.24 529.79,156.48 521.45,156.48ZM573.12,151.24 581.73,151.24 579.82,156.48 571.48,156.48ZM396.36,156.48 404.70,156.48 413.04,156.48 421.38,156.48 429.72,156.48 438.06,156.48 446.40,156.48 454.74,156.48 457.27,161.62 449.24,161.62 441.22,161.62 433.20,161.62 425.17,161.62 417.15,161.62 409.13,161.62 401.11,161.62ZM504.77,156.48 513.11,156.48 521.45,156.48 529.79,156.48 538.13,156.48 546.47,156.48 554.81,156.48 553.54,161.62 545.52,161.62 537.50,161.62 529.47,161.62 521.45,161.62 513.43,161.62 505.40,161.62ZM571.48,156.48 579.82,156.48 588.16,156.48 596.50,156.48 604.84,156.48 601.68,161.62 593.66,161.62 585.63,161.62 577.61,161.62 569.59,161.62ZM638.20,156.48 646.54,156.48 654.88,156.48 649.82,161.62 641.79,161.62 633.77,161.62ZM377.04,161.62 385.06,161.62 391.01,166.62 383.33,166.62ZM401.11,161.62 409.13,161.62 417.15,161.62 425.17,161.62 433.20,161.62 441.22,161.62 449.24,161.62 457.27,161.62 465.29,161.62 467.74,166.62 460.06,166.62 452.39,166.62 444.72,166.62 437.04,166.62 429.37,166.62 421.70,166.62 414.02,166.62 406.35,166.62ZM497.38,161.62 505.40,161.62 513.43,161.62 521.45,161.62 521.45,166.62 513.78,166.62 506.10,166.62 498.43,166.62ZM545.52,161.62 553.54,161.62 561.56,161.62 569.59,161.62 577.61,161.62 585.63,161.62 593.66,161.62 601.68,161.62 598.18,166.62 590.51,166.62 582.84,166.62 575.16,166.62 567.49,166.62 559.82,166.62 552.14,166.62 544.47,166.62ZM609.70,161.62 617.73,161.62 625.75,161.62 633.77,161.62 628.88,166.62 621.20,166.62 613.53,166.62 605.86,166.62ZM657.84,161.62 665.86,161.62 659.57,166.62 651.89,166.62ZM406.35,166.62 414.02,166.62 421.70,166.62 429.37,166.62 437.04,166.62 441.16,171.44 433.86,171.44 426.56,171.44 419.26,171.44 411.96,171.44ZM490.76,166.62 498.43,166.62 506.10,166.62 513.78,166.62 521.45,166.62 521.45,171.44 514.15,171.44 506.85,171.44 499.55,171.44 492.25,171.44ZM544.47,166.62 552.14,166.62 559.82,166.62 567.49,166.62 575.16,166.62 582.84,166.62 590.51,166.62 598.18,166.62 605.86,166.62 601.74,171.44 594.44,171.44 587.15,171.44 579.85,171.44 572.55,171.44 565.25,171.44 557.95,171.44 550.65,171.44 543.35,171.44ZM636.55,166.62 644.22,166.62 651.89,166.62 659.57,166.62 652.84,171.44 645.54,171.44 638.24,171.44 630.94,171.44ZM390.06,171.44 397.36,171.44 404.66,171.44 410.98,176.05 404.07,176.05 397.17,176.05ZM426.56,171.44 433.86,171.44 441.16,171.44 445.50,176.05 438.60,176.05 431.69,176.05ZM514.15,171.44 521.45,171.44 521.45,176.05 514.55,176.05ZM528.75,171.44 536.05,171.44 543.35,171.44 542.16,176.05 535.26,176.05 528.35,176.05ZM557.95,171.44 565.25,171.44 572.55,171.44 569.78,176.05 562.88,176.05 555.97,176.05ZM616.34,171.44 623.64,171.44 630.94,171.44 638.24,171.44 645.54,171.44 652.84,171.44 645.73,176.05 638.83,176.05 631.92,176.05 625.02,176.05 618.11,176.05 611.21,176.05ZM397.17,176.05 404.07,176.05 410.98,176.05 417.96,180.39 411.49,180.39 405.02,180.39ZM514.55,176.05 521.45,176.05 521.45,180.39 514.98,180.39ZM638.83,176.05 645.73,176.05 637.88,180.39 631.41,180.39ZM405.02,180.39 411.49,180.39 419.97,184.35 414.00,184.35ZM514.98,180.39 521.45,180.39 521.45,184.35 515.48,184.35ZM624.94,180.39 631.41,180.39 637.88,180.39 628.90,184.35 622.93,184.35 616.96,184.35ZM414.00,184.35 419.97,184.35 424.11,186.06 418.39,186.06ZM605.03,184.35 610.99,184.35 616.96,184.35 622.93,184.35 628.90,184.35 624.51,186.06 618.79,186.06 613.06,186.06 607.33,186.06 601.61,186.06Z" fill="#ffffff"/><path d="M654.88,156.48 663.21,156.48 671.55,156.48 665.86,161.62 657.84,161.62 649.82,161.62ZM385.06,161.62 393.08,161.62 401.11,161.62 406.35,166.62 398.68,166.62 391.01,166.62ZM521.45,161.62 529.47,161.62 537.50,161.62 545.52,161.62 544.47,166.62 536.80,166.62 529.12,166.62 521.45,166.62ZM633.77,161.62 641.79,161.62 649.82,161.62 657.84,161.62 651.89,166.62 644.22,166.62 636.55,166.62 628.88,166.62ZM383.33,166.62 391.01,166.62 398.68,166.62 406.35,166.62 411.96,171.44 404.66,171.44 397.36,171.44 390.06,171.44ZM521.45,166.62 529.12,166.62 536.80,166.62 544.47,166.62 543.35,171.44 536.05,171.44 528.75,171.44 521.45,171.44ZM605.86,166.62 613.53,166.62 621.20,166.62 628.88,166.62 636.55,166.62 630.94,171.44 623.64,171.44 616.34,171.44 609.04,171.44 601.74,171.44ZM521.45,171.44 528.75,171.44 528.35,176.05 521.45,176.05ZM543.35,171.44 550.65,171.44 557.95,171.44 555.97,176.05 549.07,176.05 542.16,176.05ZM572.55,171.44 579.85,171.44 587.15,171.44 594.44,171.44 601.74,171.44 609.04,171.44 616.34,171.44 611.21,176.05 604.30,176.05 597.40,176.05 590.50,176.05 583.59,176.05 576.69,176.05 569.78,176.05ZM535.26,176.05 542.16,176.05 549.07,176.05 555.97,176.05 562.88,176.05 569.78,176.05 576.69,176.05 583.59,176.05 579.66,180.39 573.20,180.39 566.73,180.39 560.26,180.39 553.79,180.39 547.32,180.39 540.85,180.39 534.39,180.39ZM604.30,176.05 611.21,176.05 618.11,176.05 625.02,176.05 631.92,176.05 638.83,176.05 631.41,180.39 624.94,180.39 618.47,180.39 612.01,180.39 605.54,180.39 599.07,180.39ZM527.92,180.39 534.39,180.39 540.85,180.39 547.32,180.39 553.79,180.39 560.26,180.39 566.73,180.39 573.20,180.39 569.21,184.35 563.24,184.35 557.27,184.35 551.30,184.35 545.33,184.35 539.36,184.35 533.39,184.35 527.42,184.35ZM592.60,180.39 599.07,180.39 605.54,180.39 612.01,180.39 618.47,180.39 624.94,180.39 616.96,184.35 610.99,184.35 605.03,184.35 599.06,184.35 593.09,184.35 587.12,184.35ZM521.45,184.35 527.42,184.35 533.39,184.35 539.36,184.35 545.33,184.35 551.30,184.35 557.27,184.35 563.24,184.35 569.21,184.35 575.18,184.35 581.15,184.35 587.12,184.35 593.09,184.35 599.06,184.35 605.03,184.35 601.61,186.06 595.88,186.06 590.16,186.06 584.43,186.06 578.71,186.06 572.98,186.06 567.26,186.06 561.53,186.06 555.80,186.06 550.08,186.06 544.35,186.06 538.63,186.06 532.90,186.06 527.18,186.06 521.45,186.06Z" fill="#dddcee"/><path d="M521.45,176.05 528.35,176.05 535.26,176.05 534.39,180.39 527.92,180.39 521.45,180.39ZM583.59,176.05 590.50,176.05 597.40,176.05 604.30,176.05 599.07,180.39 592.60,180.39 586.13,180.39 579.66,180.39ZM521.45,180.39 527.92,180.39 527.42,184.35 521.45,184.35ZM573.20,180.39 579.66,180.39 586.13,180.39 592.60,180.39 587.12,184.35 581.15,184.35 575.18,184.35 569.21,184.35Z" fill="#bbb9dc"/></g>
<path d="M417.9,50.6 L441.5,50.6 L441.9,50.9 L443.2,51.0 L445.7,51.6 L446.9,51.3 L449.3,52.8 L449.4,53.2 L449.9,53.6 L450.6,54.4 L449.6,56.9 L448.7,57.8 L449.0,58.3 L452.5,57.1 L452.7,56.6 L455.4,55.6 L456.9,54.8 L459.9,54.8 L460.8,54.2 L461.8,53.0 L462.7,52.2 L463.6,52.2 L463.8,52.6 L463.3,54.0 L463.8,54.8M423.6,30.3 L413.6,39.1 L414.8,39.4 L415.1,40.2 L417.3,39.6 L417.6,40.9 L417.3,42.9 L417.9,43.5 L417.2,44.4M414.4,68.1 L416.6,67.9 L416.5,68.1 L419.5,69.4 L422.1,69.4 L422.2,68.9 L423.8,68.9 L424.9,71.2 L426.1,71.9 L426.9,71.0 L427.9,71.0 L429.0,73.5 L430.8,75.2M433.7,87.4 L434.1,85.8 L435.6,85.8 L435.8,83.9 L437.1,83.9 L437.9,83.1M436.6,86.8 L437.6,86.1M436.3,87.5 L437.8,88.6M436.6,86.8 L438.1,88.0 L440.5,87.4 L442.3,86.9M439.6,91.0 L441.5,91.3M442.0,94.1 L442.4,92.7M447.3,93.7 L446.8,95.3M452.8,90.5 L452.2,91.2 L452.1,93.9 L452.4,95.5 L454.4,95.5 L456.7,96.4 L456.4,98.7 L456.8,100.9 L457.2,101.7M464.0,93.9 L462.8,95.8 L463.3,97.6 L461.2,98.7 L459.3,98.5 L460.0,101.5 L457.2,101.7 L454.7,101.8 L454.8,104.2 L454.3,107.5M466.6,96.7 L465.8,98.7 L466.7,101.0M469.7,96.9 L469.4,99.8 L469.1,100.5M471.9,98.5 L470.6,100.6 L469.1,100.5 L467.7,100.9 L466.7,101.0 L464.0,101.5 L463.2,97.4M445.8,101.5 L447.5,102.6 L449.1,103.0 L449.1,104.0 L450.7,104.4 L454.3,107.5M444.4,106.7 L445.7,108.4 L446.2,106.7 L447.5,105.8 L449.1,104.0M454.3,107.5 L451.5,111.1 L451.1,112.7 L454.0,114.8 L454.9,114.8 L459.0,113.5 L459.9,116.3 L462.4,117.5 L464.1,119.1 L466.2,120.5 L466.5,124.3 L467.1,126.6 L469.1,126.9 L470.5,130.5M454.9,114.8 L455.9,116.4 L455.5,119.4 L456.0,120.7 L455.5,121.8 L454.8,122.7M455.5,121.8 L456.8,124.5 L457.8,127.5 L459.2,126.4 L461.1,127.5 L462.6,126.9 L463.2,124.0 L466.5,124.3M457.8,127.5 L458.7,129.3 L457.8,132.0 L457.3,135.2 L457.5,138.4 L457.9,141.7 L458.1,144.9 L459.0,149.1 L459.6,151.2 L460.1,154.4 L460.2,156.5 L461.9,158.1 L464.4,158.8M462.6,126.9 L465.2,128.8 L467.3,130.4 L470.5,130.5M470.5,130.5 L471.4,132.1 L469.7,133.1 L468.4,135.4 L468.1,137.4 L468.3,139.5M468.4,135.4 L470.0,136.3 L472.7,139.2M513.6,58.0 L514.4,57.9 L515.7,58.0 L515.4,59.0 L515.2,60.5 L514.9,61.8 L514.7,63.1M519.9,56.4 L522.1,57.1 L524.2,57.5M523.5,48.4 L525.0,49.6 L526.3,50.0 L526.8,50.0 L528.3,50.6 L527.9,52.0 L527.3,52.1 L526.6,53.4 L527.3,53.6 L527.5,54.4 L527.1,54.6 L527.5,55.6 L528.0,56.0M524.3,48.1 L525.2,48.0 L526.3,48.5 L526.4,48.7 L526.5,49.4M526.4,48.7 L526.4,47.6 L527.2,47.2 L527.3,46.2M528.4,44.5 L529.4,44.6M532.9,45.5 L533.4,46.8 L533.6,48.5 L533.9,48.5M531.5,49.2 L533.3,48.5 L533.9,48.5 L535.0,48.8 L535.6,49.2 L536.9,49.6 L537.3,50.0 L535.9,50.7 L535.3,50.8 L534.0,50.6 L533.1,50.8 L531.5,49.2M533.1,50.8 L532.4,51.4 L532.3,52.0 L530.4,52.1 L529.6,52.1 L528.7,51.9 L527.9,52.0M527.4,53.8 L528.7,53.4 L529.2,53.8 L530.4,53.2 L530.4,52.8 L531.8,52.6 L533.1,53.2 L535.1,53.0 L535.4,52.1 L535.8,51.6 L535.7,51.0M537.3,50.0 L540.3,50.5 L540.6,49.9 L541.4,49.0 L540.8,47.9 L541.0,46.7 L540.5,45.5 L539.8,45.0 L537.3,45.0M538.5,44.2 L539.8,45.0M538.1,43.3 L542.7,43.7M540.5,41.5 L543.0,41.9M543.1,40.0 L543.0,41.9 L543.4,42.6 L543.9,43.3M540.5,45.5 L542.0,45.1 L542.7,43.7 L543.9,43.3 L546.1,43.8 L548.1,46.1 L547.6,47.3M540.9,48.0 L542.8,47.6 L546.6,48.2 L547.6,47.3 L549.9,48.2 L550.8,48.9 L553.3,49.5 L554.9,49.9 L555.0,51.8 L553.9,52.5M540.1,51.2 L540.8,51.6 L542.5,51.9 L543.9,51.4 L545.3,51.4 L546.2,52.0 L547.1,53.3 L546.9,54.3M543.9,51.4 L545.4,53.0 L545.7,54.2M541.1,55.6 L543.1,56.1 L545.0,55.7 L546.3,56.1M540.1,51.2 L539.4,53.5 L538.8,53.6 L539.9,54.5 L541.1,55.6M536.0,51.6 L537.4,51.8 L538.6,51.1 L540.1,51.2M535.4,52.1 L535.2,52.8 L535.5,53.2 L537.6,53.8 L538.8,53.6M533.1,54.2 L534.5,54.2 L534.9,53.5 L535.5,53.2M535.0,54.5 L535.6,54.5 L537.8,54.8 L538.1,55.8 L537.6,57.4M538.2,54.9 L538.3,56.3 L537.6,56.9M538.4,57.9 L538.9,57.4 L539.5,58.0 L540.0,59.2 L539.8,60.1 L539.2,60.4M539.7,59.1 L541.6,58.7 L544.4,58.7 L544.8,58.0 L546.0,57.9M541.1,55.6 L541.0,56.9 L541.6,57.9 L541.6,58.7M539.5,58.0 L541.0,56.9 L538.9,57.4M531.0,40.4 L530.5,39.6 L531.0,38.4 L530.6,37.1 L531.7,35.2 L532.0,33.9 L533.0,32.2 L534.2,31.3 L535.8,30.8M535.8,30.8 L538.2,31.8 L539.0,33.8M535.8,30.8 L537.2,31.1 L539.4,30.9 L541.6,30.8 L541.5,30.0M541.6,30.8 L541.6,31.6 L542.7,32.0 L542.6,32.9 L543.3,33.9 L543.2,35.3 L544.1,36.0 L545.0,36.6 L542.7,38.9M554.0,63.7 L555.8,63.4 L558.0,63.2 L559.5,63.1 L561.7,63.1 L561.0,62.2 L561.0,60.4M557.9,58.5 L559.7,58.9 L560.1,59.9 L561.0,60.4M559.5,63.1 L558.6,63.9 L558.7,66.1 L556.8,67.1 L557.3,68.4 L555.4,69.2 L556.4,70.2 L555.2,71.3 L553.8,71.3M557.3,68.4 L560.1,69.6 L562.8,71.6 L564.5,71.8 L565.6,72.4M561.7,63.1 L562.5,64.5 L563.2,65.4 L562.7,66.5 L563.5,67.6 L565.2,68.6 L565.6,69.7 L566.2,70.9M553.9,68.1 L553.9,69.5 L553.8,71.3M552.9,69.4 L553.7,71.3M553.8,64.5 L554.7,66.3 L553.9,67.2 L553.5,67.5M562.1,85.4 L563.3,84.3 L565.4,84.5 L566.6,84.2 L567.8,83.0 L570.6,82.6 L573.4,81.5 L573.8,79.4 L573.3,78.6 L570.3,78.3 L569.8,76.9M570.6,82.6 L571.8,85.1M579.0,75.9 L579.8,73.8 L580.3,73.8 L579.7,72.6 L578.3,71.3 L577.7,71.0 L578.1,69.3 L576.6,66.9 L576.7,66.1 L576.8,64.8M576.8,64.8 L574.5,62.8 L572.8,62.3 L569.9,62.8M577.7,71.0 L580.9,71.3 L582.8,70.9 L583.8,69.1 L585.0,68.7 L585.6,66.6 L586.1,66.1 L585.6,64.2 L586.0,63.6 L588.4,63.3M576.8,64.8 L577.8,65.1 L579.6,64.0 L581.1,62.8 L582.5,63.3 L584.2,62.6 L585.4,62.3 L588.2,62.8M585.4,77.5 L587.4,76.8 L587.7,75.4 L586.4,73.1 L588.2,73.0 L589.6,70.8 L589.9,69.7 L589.6,67.8 L590.7,67.8 L591.8,64.9M591.8,64.9 L593.1,66.2 L593.9,68.1 L593.7,69.2 L595.4,70.5 L596.2,70.6 L597.7,71.4 L599.4,72.1 L601.3,73.0 L603.2,73.0 L604.0,73.9 L604.6,72.6 L606.6,73.1 L607.2,74.1 L608.8,71.6 L610.2,71.3 L611.7,72.6 L611.9,73.0M595.6,72.1 L597.6,73.5 L600.1,73.8 L603.6,74.7M604.3,79.3 L605.0,78.3 L604.4,76.9 L605.4,75.8 L607.5,76.0 L608.0,77.2 L607.6,77.5 L608.4,80.1M611.9,73.0 L613.5,75.2 L613.0,77.2 L614.1,77.1 L615.0,79.3 L616.7,80.0 L617.5,78.9 L618.7,78.6 L621.6,78.5 L623.0,79.9M615.9,81.1 L614.5,81.8 L614.0,83.0 L615.4,85.6 L615.3,87.9 L616.1,90.1 L615.8,91.8M615.9,81.1 L617.0,82.1 L617.3,84.2 L618.6,83.8 L620.7,84.2 L621.8,86.2 L621.9,87.5M618.7,78.6 L619.8,82.1 L621.9,84.4 L623.8,86.6 L623.9,87.4 L622.9,91.3 L621.4,91.8M619.4,89.9 L619.5,87.8 L621.9,87.5 L623.9,87.4M617.4,96.0 L618.4,96.2 L619.4,96.3M595.1,50.3 L599.2,54.0 L605.5,57.2 L609.4,57.2 L613.6,58.4 L617.7,57.0 L618.5,56.1 L617.6,55.3 L619.3,55.0 L621.6,53.1 L623.6,53.0 L621.2,51.6 L618.9,49.7M595.1,50.3 L597.9,48.7 L602.8,49.8 L602.1,47.4 L605.7,48.2 L608.6,49.2 L610.4,49.1 L613.1,50.2 L616.7,49.3 L618.9,49.7M618.9,49.7 L620.1,50.0 L620.9,48.8 L619.9,46.1 L621.8,45.9 L625.0,46.4 L627.9,49.7 L631.2,50.7 L632.4,51.9 L635.1,51.3 L636.1,54.2 L634.6,54.9 L635.6,57.0 L635.6,57.5M635.6,57.5 L634.7,57.5 L633.7,57.9 L632.5,59.0 L631.6,60.2M634.4,62.5 L635.0,61.9 L635.9,61.6M595.1,50.3 L594.2,52.6 L592.0,52.4 L592.3,54.2 L590.3,54.8 L591.4,57.1 L589.1,59.6 L586.9,60.6 L588.5,63.0 L588.9,63.3 L591.8,64.9M595.1,50.3 L593.9,49.7 L590.5,48.5 L587.7,48.6 L584.7,46.1 L583.2,45.2 L580.9,45.4 L578.1,44.1 L576.6,44.0 L574.0,45.0 L570.8,45.4 L571.3,47.9 L568.6,48.4 L567.7,48.9 L563.8,48.2 L561.9,48.9 L560.7,51.2 L561.0,52.1 L562.4,53.2M567.8,58.1 L570.6,58.7 L572.1,57.3 L574.2,55.4 L575.3,56.3 L577.8,56.1 L579.0,57.0 L582.1,58.6 L583.6,57.6 L585.7,57.4 L591.4,57.1M570.6,58.7 L571.7,58.7 L574.0,57.9 L575.9,58.9 L578.9,61.2 L581.1,62.8M582.1,58.6 L583.7,59.5 L586.9,60.6M582.5,63.3 L582.3,60.6 L583.7,59.5M556.2,56.4 L558.0,56.7 L559.9,57.2 L562.1,58.1 L563.9,58.1M559.7,58.9 L561.0,58.7 L562.4,58.9M561.0,60.4 L562.9,61.2 L564.3,61.7 L565.1,61.8M519.9,65.4 L519.8,66.0 L520.4,68.5 L518.1,69.3 L516.8,70.8 L513.4,72.2 L513.4,73.7 L510.3,75.1 L510.2,77.8 L509.2,78.3 L509.1,80.1 L505.4,80.1M513.4,73.7 L517.0,76.2 L515.8,80.3 L516.2,85.3 L510.5,86.4 L509.8,87.2M517.0,76.2 L522.6,80.8 L525.5,82.4 L526.9,82.1 L528.5,80.6 L532.7,77.8M529.2,63.4 L528.9,65.8 L528.3,67.3 L529.8,68.5 L530.2,70.6 L530.7,74.0 L530.7,75.6 L531.6,76.6 L532.6,77.8M544.4,69.1 L545.0,79.4 L545.0,81.5 L544.1,81.5 L544.1,82.1 L536.4,77.9 L534.8,78.7 L534.2,78.3M536.0,78.3 L536.4,81.1 L535.9,83.8 L534.4,88.3M545.0,79.4 L550.9,79.4 L556.2,79.4M544.1,82.1 L544.3,86.1 L542.9,88.0 L542.4,89.5 L543.3,91.1 L544.9,93.4 L547.7,97.6 L551.0,99.2 L554.0,98.5 L555.3,97.1 L554.1,93.8 L552.9,89.9 L554.5,91.3 L555.8,89.4 L556.2,87.6 L556.5,84.7 L557.9,83.7M554.0,98.5 L557.9,99.1 L560.8,98.7 L561.7,98.7 L564.5,97.7 L567.3,94.4 L563.6,93.3 L562.9,92.8 L562.3,91.2 L561.9,89.7M556.1,87.5 L557.5,87.0 L559.5,87.6 L561.2,88.7 L562.6,89.4M561.7,98.7 L560.8,100.0 L560.8,104.0 L561.4,104.8M509.8,87.2 L510.6,89.7 L511.7,90.2 L513.3,91.8 L513.6,90.8 L516.2,91.8 L516.2,91.1 L517.3,89.6 L518.7,86.9 L521.6,87.0 L522.7,86.6 L524.9,86.4 L525.5,84.9 L525.5,82.4M516.2,91.8 L518.7,91.3 L518.8,92.7 L519.1,94.4 L518.4,96.2 L518.8,97.6M521.5,91.2 L521.9,93.9 L522.6,96.4M524.0,96.2 L524.0,93.3 L524.9,90.4M524.9,90.4 L525.4,88.5 L527.9,88.9 L530.0,89.3 L533.4,88.5 L534.4,88.3M535.0,89.6 L534.5,92.0 L533.1,94.1 L531.8,95.6 L530.7,96.2 L529.6,98.2M535.0,89.6 L535.9,92.3 L536.3,94.9 L535.4,98.0 L536.8,100.6M536.8,100.6 L539.2,99.2 L542.9,98.6 L545.4,97.6 L547.7,97.6M536.3,94.9 L539.5,93.6 L542.3,91.3 L543.3,91.1M530.9,100.5 L532.3,100.5 L534.2,100.6 L536.8,100.6M534.2,100.6 L535.4,105.6 L532.8,107.5M539.2,99.2 L538.5,103.6 L537.3,104.8 L536.7,107.4 L533.2,109.4M533.2,109.4 L537.1,109.6 L538.3,111.7 L540.0,111.6 L542.3,110.8 L542.5,113.5 L544.4,114.8 L547.4,115.7 L549.1,117.4 L549.7,116.1 L548.8,112.1 L550.9,111.9M551.0,99.2 L549.9,104.5 L549.5,106.7 L549.5,109.7 L550.9,111.9M554.0,98.5 L554.6,101.4 L554.0,104.1 L557.6,106.3 L559.1,108.0M549.9,104.1 L554.0,104.1M560.1,114.1 L557.3,115.5 L555.2,115.2 L554.5,115.3 L553.3,113.2 L552.9,113.1 L550.9,111.9M554.5,115.3 L554.7,117.5 L555.1,118.6 L555.6,120.2 L554.8,121.4 L553.1,118.0 L552.6,117.6M550.3,119.8 L552.9,118.0M550.3,119.8 L548.9,120.2 L547.0,122.2 L545.4,122.1M542.4,117.0 L542.3,120.5 L543.7,122.2 L545.4,122.1M532.6,121.6 L534.2,121.3 L539.0,121.7 L541.3,122.3 L543.7,122.2M541.3,122.5 L541.2,126.6 L540.3,126.6 L540.2,129.6 L540.0,133.5M536.7,133.7 L540.0,133.5M540.2,129.6 L540.8,131.8 L542.9,130.1 L545.4,130.4 L546.7,128.8 L549.1,126.8 L547.6,125.0 L546.1,122.3 L545.4,122.1M549.1,126.8 L550.9,127.1 L552.1,125.6 L552.6,122.3 L552.5,120.3 L550.3,119.8M550.9,127.1 L551.4,129.3 L552.1,131.8M546.4,134.8 L547.6,133.8 L548.6,134.6 L547.9,135.4 L546.8,135.9 L546.4,134.8" fill="none" stroke="#707070" stroke-width="1.4" stroke-linejoin="round"/>
<path d="M405.4,30.9 L409.3,29.7 L414.9,28.8 L417.5,29.2 L421.3,30.0 L423.6,30.3 L425.7,30.9 L428.7,30.4 L432.4,30.0 L435.3,30.4 L437.6,30.9 L440.7,31.3 L443.7,31.8 L447.2,31.0 L449.9,31.9 L452.2,31.8 L454.5,31.6 L456.2,30.4 L457.9,31.3 L459.6,32.2 L462.4,30.4 L463.5,31.8 L462.9,33.2 L460.1,33.6 L457.6,35.5 L456.5,35.5 L454.4,36.5 L451.8,37.4 L449.3,39.4 L448.3,40.4 L449.1,40.9 L448.5,42.4 L450.5,42.4 L451.7,42.9 L453.4,44.1 L455.4,44.4 L454.6,46.4 L455.0,48.0 L456.3,48.0 L457.4,45.9 L458.1,44.4 L460.5,42.9 L461.9,40.9 L461.9,38.9 L463.1,37.1 L465.9,37.2 L467.1,38.4 L468.6,38.4 L467.6,40.4 L469.3,40.9 L471.6,39.4 L471.5,40.4 L472.6,42.4 L472.7,43.9 L474.7,44.9 L475.6,46.9 L473.6,48.0 L471.5,49.3 L466.0,49.4 L463.3,51.1 L461.0,52.8 L463.7,51.1 L466.9,50.3 L467.3,51.1 L466.4,51.8 L466.3,52.9 L468.7,53.9 L470.1,53.7 L469.0,54.4 L466.6,55.2 L464.3,56.2 L464.7,54.5 L463.2,55.3 L460.7,56.1 L459.8,57.3 L460.1,58.1 L458.8,58.5 L456.1,59.4 L455.8,60.6 L454.1,61.7 L453.2,63.3 L452.9,65.2 L451.6,66.0 L450.0,66.7 L447.2,68.9 L446.4,70.8 L446.8,74.0 L446.6,75.6 L445.6,75.9 L445.3,74.3 L444.6,72.9 L445.0,71.3 L444.0,70.7 L442.5,71.1 L441.3,70.4 L439.4,70.5 L438.7,71.6 L437.3,71.5 L435.1,71.1 L433.6,71.5 L431.4,73.1 L430.5,75.1 L429.8,77.8 L429.9,79.9 L430.6,82.1 L432.0,83.5 L433.9,83.0 L435.4,82.9 L436.4,80.6 L438.1,80.0 L439.6,79.9 L438.8,82.1 L437.9,83.3 L437.7,85.5 L439.7,85.9 L441.6,86.2 L442.2,87.3 L441.6,90.1 L441.4,91.4 L442.8,93.1 L443.9,93.6 L445.4,92.7 L447.2,93.8 L447.4,94.2 L446.4,94.2 L445.2,93.4 L444.5,94.9 L443.2,94.3 L442.0,94.0 L439.5,92.4 L439.5,91.0 L438.0,88.7 L436.2,88.5 L434.3,88.0 L432.6,86.0 L431.2,85.7 L429.7,86.1 L427.9,85.5 L425.3,84.2 L423.5,83.3 L421.9,81.5 L422.3,79.9 L421.5,78.1 L420.1,75.8 L419.1,74.0 L418.5,72.9 L417.5,71.3 L417.1,69.7 L416.2,69.0 L416.2,70.6 L416.9,72.4 L417.2,74.3 L418.0,76.9 L418.7,78.3 L418.1,77.8 L416.7,76.4 L416.8,75.1 L415.1,73.1 L415.4,70.8 L414.6,68.9 L414.3,67.9 L413.8,66.5 L412.0,65.8 L411.8,63.7 L411.8,62.4 L411.5,60.6 L411.7,59.5 L412.7,57.9 L413.3,56.3 L415.5,53.4 L416.3,51.3 L417.6,51.4 L417.6,52.1 L418.2,50.6 L417.2,49.5 L415.9,48.5 L416.7,46.9 L416.5,45.2 L417.2,43.9 L416.9,42.9 L417.2,41.1 L416.5,40.4 L414.8,40.6 L414.0,39.7 L412.6,39.3 L411.1,39.3 L410.0,38.5 L408.1,39.2 L405.9,39.8 L404.1,40.2 L406.2,38.8 L404.9,39.0 L402.6,40.4 L400.9,41.6 L399.0,41.9 L395.7,43.1 L392.4,43.9 L388.9,44.9 L390.9,44.2 L394.7,42.9 L397.7,41.6 L399.2,40.6 L397.3,40.6 L396.9,39.6 L396.2,38.9 L396.4,37.9 L397.5,36.7 L399.1,36.3 L402.1,36.0 L403.3,35.0 L402.0,34.9 L399.6,34.9 L399.6,34.0 L403.3,33.2 L405.4,30.9M476.8,22.8 L482.4,21.3 L486.8,20.3 L492.8,19.9 L498.8,19.5 L504.5,19.4 L508.9,19.9 L509.8,20.6 L511.3,21.6 L509.8,22.8 L509.8,24.0 L508.5,25.6 L507.2,27.3 L505.4,27.7 L506.5,28.6 L506.3,29.8 L503.7,30.4 L500.3,31.6 L497.0,33.2 L493.9,34.0 L491.7,35.0 L490.0,36.9 L488.5,39.2 L487.0,39.2 L485.3,38.6 L484.0,36.9 L483.5,35.5 L483.2,33.6 L483.6,31.8 L485.7,30.4 L484.0,29.5 L484.8,28.6 L484.3,27.7 L484.2,25.2 L481.9,24.8 L478.8,24.8 L476.9,24.0 L476.8,22.8M469.9,27.7 L472.0,28.6 L473.4,29.5 L474.2,30.4 L474.5,31.8 L477.1,32.9 L475.1,34.6 L473.4,35.7 L471.6,36.9 L470.4,36.5 L468.4,36.0 L468.3,35.0 L466.1,35.0 L464.2,35.0 L468.3,33.2 L469.9,31.8 L468.1,31.3 L467.3,30.4 L464.7,30.1 L462.4,29.5 L460.7,29.1 L461.2,27.7 L465.4,26.8 L468.6,26.9 L469.9,27.7M441.4,28.6 L445.6,27.3 L447.9,27.7 L450.5,27.1 L450.7,28.9 L450.6,30.4 L447.4,30.9 L443.5,31.3 L440.2,30.4 L440.3,29.1 L441.4,28.6M464.5,24.4 L469.4,24.5 L472.2,24.0 L473.7,22.8 L477.1,22.4 L481.2,21.3 L485.7,20.3 L481.7,19.6 L475.9,19.7 L469.3,20.4 L467.0,21.3 L463.9,21.8 L463.3,22.8 L465.4,23.6 L464.5,24.4M469.4,26.0 L461.5,26.0 L462.8,24.8 L468.0,24.1 L470.6,24.6 L469.4,26.0M437.0,28.4 L441.7,26.2 L445.3,26.5 L444.6,27.3 L439.6,29.1 L437.0,28.4M446.3,25.2 L451.4,24.3 L453.7,24.9 L451.4,25.8 L447.8,26.0 L446.3,25.2M468.2,22.8 L468.2,21.3 L466.5,20.8 L464.1,21.6 L464.3,22.9 L468.2,22.8M453.8,27.7 L457.6,26.6 L460.4,26.5 L457.4,28.2 L455.0,28.6 L453.8,27.7M458.0,35.5 L462.0,35.0 L462.1,36.0 L458.5,36.9 L457.3,36.0 L458.0,35.5M471.2,52.0 L474.0,52.0 L476.3,53.0 L477.0,51.1 L475.1,49.7 L475.7,48.0 L474.4,48.0 L471.2,52.0M441.6,79.5 L443.5,78.3 L445.9,78.2 L448.5,79.6 L450.1,80.3 L451.4,81.3 L448.3,81.6 L447.9,80.9 L445.2,79.8 L443.9,79.4 L441.6,79.5M451.0,83.3 L452.7,81.6 L455.4,81.8 L456.7,83.0 L455.2,83.5 L453.7,84.1 L451.0,83.3M447.4,83.2 L449.3,83.6 L448.5,83.9 L447.4,83.5 L447.4,83.2M447.4,94.2 L448.2,93.4 L449.3,91.7 L450.6,91.0 L452.2,90.3 L453.3,89.7 L453.0,91.2 L454.6,90.7 L456.3,91.7 L458.4,91.6 L460.3,91.6 L461.7,91.5 L462.6,92.8 L463.5,93.9 L465.4,95.5 L466.8,96.6 L468.7,96.7 L470.6,97.1 L472.0,98.5 L472.9,101.1 L473.4,103.0 L474.9,104.1 L478.2,104.6 L481.1,106.0 L484.0,106.8 L485.8,108.2 L487.6,108.9 L488.1,111.1 L487.8,112.7 L486.1,114.8 L484.7,117.0 L484.4,119.6 L484.0,122.3 L483.0,126.1 L482.0,127.7 L479.7,128.0 L477.0,129.6 L476.3,131.5 L476.2,133.6 L475.0,136.3 L473.6,139.0 L472.9,139.9 L471.6,140.5 L469.7,140.0 L468.3,139.8 L469.8,141.7 L470.0,143.8 L466.3,144.9 L466.4,146.5 L464.2,147.0 L465.3,148.6 L465.0,151.2 L463.9,152.8 L465.7,154.4 L464.3,156.5 L464.7,158.8 L465.6,159.6 L468.1,161.6 L466.3,162.1 L463.6,160.6 L460.9,159.1 L458.1,155.4 L457.9,152.8 L457.8,150.2 L457.1,148.1 L456.0,144.9 L455.9,142.7 L456.0,139.5 L455.5,135.2 L455.2,132.0 L455.3,128.2 L455.1,123.4 L453.7,121.8 L449.6,119.1 L448.5,117.0 L446.3,113.2 L444.8,110.5 L443.5,108.4 L444.4,106.5 L443.8,104.6 L444.6,102.5 L445.6,101.4 L445.8,100.0 L447.1,98.7 L447.3,96.0 L446.7,95.2 L447.4,94.2M513.4,63.3 L513.5,61.5 L513.1,60.7 L513.7,59.0 L513.7,57.4 L513.3,56.9 L514.5,56.1 L517.1,56.3 L519.7,56.4 L520.1,56.3 L520.4,54.2 L520.4,53.4 L519.5,52.4 L517.6,51.7 L517.5,51.0 L518.9,50.8 L520.2,50.9 L520.4,49.9 L521.6,50.0 L522.7,49.4 L522.9,48.5 L524.1,48.1 L524.9,47.4 L525.4,46.4 L526.7,45.9 L528.3,45.8 L528.4,44.4 L527.9,42.6 L529.3,41.8 L529.8,42.9 L530.1,43.9 L529.5,44.9 L530.3,45.4 L531.5,45.0 L532.8,45.5 L534.4,45.1 L536.3,44.6 L537.4,45.0 L538.3,44.2 L538.2,42.9 L538.7,41.8 L540.3,42.2 L540.4,41.1 L539.6,40.2 L541.5,39.9 L543.0,39.7 L544.5,39.4 L543.2,38.9 L541.3,39.0 L539.1,39.5 L538.6,38.6 L537.6,37.9 L537.5,36.5 L539.4,34.7 L540.0,34.3 L538.5,33.8 L537.4,33.8 L537.0,34.7 L535.9,36.0 L534.6,36.9 L534.5,38.1 L535.6,39.2 L536.1,39.9 L535.4,40.4 L534.5,41.9 L534.4,42.9 L533.0,43.4 L531.7,43.9 L531.4,42.9 L530.8,41.9 L530.1,40.5 L529.5,39.7 L528.8,40.4 L527.3,41.4 L526.1,41.1 L525.5,40.2 L525.3,38.9 L525.2,37.9 L525.4,37.1 L526.7,36.7 L528.1,36.0 L529.2,35.0 L530.5,33.6 L531.4,32.2 L532.4,31.5 L533.0,31.0 L534.3,30.1 L536.3,29.8 L537.8,29.2 L539.2,29.1 L540.9,29.1 L542.8,29.8 L544.4,30.5 L546.6,30.8 L549.8,31.9 L550.8,32.9 L549.3,33.6 L546.6,33.3 L545.5,33.1 L544.6,32.6 L546.6,34.6 L548.2,35.0 L549.2,35.7 L550.1,35.0 L551.1,34.9 L552.4,33.4 L552.4,31.5 L553.9,31.6 L555.5,32.0 L559.1,31.5 L560.8,31.3 L562.4,30.9 L563.4,30.2 L565.6,30.5 L568.5,31.3 L569.7,31.6 L569.0,30.4 L567.1,29.2 L566.8,28.0 L567.7,27.3 L569.1,27.4 L570.2,28.0 L570.6,29.2 L572.7,30.7 L573.1,31.3 L573.6,31.0 L573.5,29.8 L573.8,27.9 L574.6,26.9 L575.8,28.2 L577.6,28.4 L577.8,27.1 L578.6,26.5 L579.4,25.4 L581.9,24.7 L584.2,24.5 L585.0,24.1 L586.3,23.4 L588.7,24.0 L591.4,24.2 L593.9,24.9 L595.6,26.5 L599.5,27.0 L602.7,27.4 L605.4,26.9 L607.6,27.8 L611.3,29.2 L611.6,28.6 L614.3,28.6 L615.2,27.7 L619.4,27.9 L623.2,28.6 L625.6,29.2 L628.6,29.1 L630.7,29.3 L633.0,30.3 L635.1,30.2 L637.6,30.3 L638.7,29.9 L641.2,30.1 L643.3,30.1 L645.6,30.5 L647.3,30.9M395.6,30.9 L396.7,31.6 L397.1,32.7 L398.6,33.2 L398.7,33.6 L396.6,34.1 L394.2,35.2 L393.4,34.7 L392.7,34.3 L391.8,34.1 L390.1,34.6M652.8,34.6 L651.8,34.8 L654.0,36.9 L653.0,37.6 L652.2,38.4 L652.3,39.4 L648.8,39.4 L647.5,39.6 L648.9,41.4 L648.3,41.6 L650.9,43.2 L651.6,44.6 L651.9,46.4 L651.4,47.1 L651.2,48.5 L648.7,46.4 L645.2,43.4 L643.9,41.7 L645.2,41.4 L644.8,39.9 L644.9,39.0 L642.5,37.9 L639.7,37.8 L640.6,40.1 L638.3,40.3 L635.8,40.1 L633.3,40.0 L631.6,40.4 L630.6,41.9 L631.4,44.4 L630.2,44.7 L632.9,45.7 L634.1,45.2 L636.5,46.1 L637.6,47.4 L638.1,49.0 L639.6,51.1 L639.3,52.6 L638.9,55.3 L637.9,57.1 L636.0,57.2 L635.8,57.6 L635.7,59.0 L636.0,60.1 L634.5,60.3 L635.8,61.6 L637.7,63.3 L638.3,64.9 L637.4,65.4 L636.2,66.0 L635.6,64.9 L635.4,63.4 L634.4,62.5 L633.4,62.2 L632.7,60.6 L631.8,60.2 L630.2,60.9 L629.4,61.3 L629.5,60.6 L629.6,59.5 L628.2,59.2 L627.3,60.2 L626.4,60.9 L626.3,61.7 L627.9,62.7 L628.7,63.2 L629.6,62.4 L631.4,63.1 L630.3,63.7 L629.7,65.4 L631.0,66.5 L632.8,68.6 L633.6,69.8 L633.5,70.7 L634.1,71.0 L634.0,72.4 L633.6,74.0 L633.0,75.1 L632.5,76.6 L631.2,77.7 L629.0,78.8 L628.2,79.2 L626.4,79.9 L625.7,81.2 L625.1,80.4 L624.7,79.9 L623.5,79.7 L622.1,80.8 L621.4,82.4 L622.4,84.2 L623.5,85.4 L624.9,86.6 L625.7,89.0 L625.7,90.5 L624.7,91.4 L623.6,91.8 L622.1,93.8 L621.7,92.8 L621.4,91.7 L619.9,91.2 L619.1,89.9 L617.7,89.5 L616.9,88.6 L616.9,90.1 L616.3,91.9 L617.1,93.0 L617.5,94.1 L617.8,95.2 L618.5,95.6 L619.5,96.3 L620.7,97.7 L620.8,99.8 L621.5,101.5 L620.9,101.6 L619.9,100.9 L618.7,99.9 L617.9,98.2 L617.6,97.1 L617.6,96.0 L616.3,94.5 L615.6,94.2 L615.7,92.3 L615.7,90.4 L614.8,88.5 L614.3,86.4 L613.7,84.9 L612.7,85.0 L612.1,86.0 L610.9,85.8 L611.0,84.2 L610.3,82.6 L609.2,81.5 L608.3,80.4 L607.7,78.8 L606.5,78.8 L605.2,79.6 L603.3,79.9 L603.3,81.0 L601.7,82.1 L601.0,83.5 L599.6,85.2 L598.4,86.4 L597.9,88.5 L598.0,91.2 L597.8,91.9 L597.0,93.1 L595.7,94.3 L594.7,93.3 L593.9,90.9 L592.6,88.5 L591.3,85.8 L590.3,82.6 L590.2,80.8 L589.8,80.0 L589.9,79.1 L587.9,80.7 L586.3,79.1 L587.2,78.4 L585.9,77.8 L584.7,77.2 L583.6,75.7 L581.7,75.8 L578.9,75.9 L576.6,75.7 L574.9,75.3 L574.0,73.9 L572.2,74.4 L569.7,73.1 L568.5,72.0 L567.6,70.6 L566.5,70.4 L565.7,70.8 L565.7,71.3 L566.5,72.9 L567.5,74.0 L568.1,74.8 L568.8,76.2 L569.6,75.1 L569.8,76.9 L571.1,77.1 L572.5,76.8 L573.7,75.3 L574.2,76.3 L575.4,77.5 L576.9,78.5 L577.6,78.8 L576.6,81.0 L576.0,82.1 L575.2,83.0 L573.8,84.1 L571.8,85.3 L571.1,86.2 L568.6,87.2 L567.6,88.0 L564.8,89.0 L562.9,89.4 L562.4,87.4 L562.0,85.8 L561.9,85.0 L560.4,82.6 L559.6,81.0 L558.3,79.4 L558.1,78.5 L557.2,77.0 L556.4,75.9 L555.6,75.1 L554.5,73.4 L553.7,71.4 L553.2,73.1 L551.5,70.9 L551.1,69.4 L552.9,69.4 L553.3,67.8 L553.7,66.0 L553.8,64.5 L553.8,63.6 L552.6,63.5 L550.8,64.2 L548.9,63.7 L547.5,63.6 L546.0,63.3 L545.1,61.8 L544.8,60.6 L544.9,59.9 L546.6,59.5 L547.4,59.0 L546.5,58.9 L544.8,59.3 L542.6,59.1 L541.6,59.5 L542.3,60.6 L541.8,61.9 L542.7,62.2 L541.9,63.3 L541.3,63.8 L540.7,62.6 L540.2,61.7 L539.2,60.5 L538.6,59.5 L538.6,58.1 L537.6,57.4 L536.2,56.7 L534.9,55.8 L534.4,54.8 L533.3,54.2 L532.1,54.3 L532.1,55.3 L533.3,56.3 L534.3,57.9 L535.5,58.6 L537.3,59.4 L537.8,60.1 L536.5,59.7 L536.2,61.2 L535.8,62.2 L535.5,61.9 L535.5,60.3 L534.5,59.4 L533.6,58.8 L532.2,58.3 L531.1,57.4 L530.4,56.1 L529.1,55.4 L528.0,56.0 L527.1,56.8 L525.6,56.4 L524.1,56.8 L524.3,58.0 L522.3,59.0 L521.5,60.6 L521.0,61.7 L520.7,62.6 L519.6,63.6 L517.4,63.6 L516.4,64.3 L515.8,63.5 L514.7,63.1 L513.4,63.3M547.0,58.8 L546.0,58.4 L545.8,56.6 L546.3,55.5 L547.0,54.4 L547.5,53.2 L548.3,53.1 L549.7,53.7 L549.4,54.3 L550.4,55.3 L551.6,55.0 L552.8,54.5 L553.7,53.2 L554.6,52.4 L554.2,54.0 L553.7,54.8 L554.7,55.4 L556.2,56.4 L558.0,58.4 L556.7,59.1 L554.9,59.1 L553.0,58.3 L551.2,57.9 L549.5,58.1 L547.0,58.8M562.0,55.3 L562.2,53.9 L563.3,53.2 L565.3,52.6 L566.6,53.1 L567.0,54.4 L565.7,55.4 L566.3,56.9 L567.6,57.9 L568.3,59.5 L569.4,61.1 L569.8,62.7 L567.7,63.5 L566.3,62.8 L565.2,61.9 L565.2,59.9 L564.0,58.1 L562.8,56.9 L562.0,55.3M551.1,69.4 L549.9,69.1 L549.0,69.4 L547.2,69.7 L544.4,69.1 L542.5,68.0 L540.6,67.7 L539.8,68.6 L539.4,70.2 L538.0,69.9 L535.7,68.9 L533.3,67.7 L531.9,67.3 L530.7,66.3 L531.4,64.9 L530.9,63.4 L530.2,63.0 L529.1,63.4 L527.3,63.3 L524.1,63.5 L522.4,63.8 L520.1,65.2 L518.7,65.1 L516.6,64.5 L515.7,65.4 L515.1,66.7 L513.7,67.3 L512.6,69.0 L512.4,70.9 L510.8,72.6 L509.4,73.5 L507.9,74.9 L506.5,77.2 L505.9,79.2 L505.4,80.4 L505.9,82.1 L506.0,84.2 L505.6,86.9 L504.9,87.2 L505.4,88.5 L505.5,89.8 L506.9,90.9 L507.6,91.7 L508.8,92.8 L509.5,94.9 L510.9,95.7 L512.3,97.2 L514.3,98.3 L516.2,97.5 L518.6,97.5 L520.5,97.6 L522.4,96.7 L524.1,96.2 L525.8,96.2 L527.0,98.4 L528.0,98.3 L529.6,98.2 L530.6,98.8 L530.9,100.3 L530.7,101.9 L530.4,103.5 L529.9,104.6 L531.1,106.2 L532.5,107.8 L533.2,109.4 L534.1,112.1 L534.6,114.8 L533.4,117.5 L532.6,121.3 L534.2,125.6 L535.1,127.7 L535.4,132.0 L536.7,133.8 L538.2,136.8 L538.1,139.0 L538.3,139.8 L539.6,140.4 L541.5,139.5 L544.6,139.5 L546.1,139.0 L547.5,137.7 L549.0,136.3 L550.3,134.5 L551.6,133.6 L552.1,131.1 L552.7,130.4 L554.5,129.3 L554.8,127.2 L554.6,125.9 L554.2,124.3 L556.0,122.9 L557.7,121.8 L559.4,120.7 L560.1,119.1 L560.2,114.8 L559.3,111.6 L559.1,110.0 L558.9,107.9 L560.1,105.9 L561.3,104.8 L562.8,103.0 L564.7,101.1 L567.0,98.2 L568.9,94.9 L570.2,91.7 L570.3,90.3 L569.2,90.4 L567.8,91.0 L564.9,91.6 L563.5,91.7 L562.7,90.5 L562.1,89.5 L560.5,87.4 L559.0,86.4 L558.2,84.2 L556.9,82.8 L556.5,80.4 L555.7,78.8 L554.7,77.4 L553.6,75.3 L552.7,73.5 L551.6,71.2 L551.1,69.4M568.5,115.9 L569.5,119.6 L568.7,121.3 L568.1,122.9 L567.2,125.0 L566.0,128.8 L565.4,129.8 L563.7,130.4 L562.6,129.6 L562.2,126.6 L563.3,124.5 L563.1,121.8 L564.7,120.0 L566.2,119.1 L567.2,117.5 L568.5,115.9M516.7,49.4 L519.0,48.8 L522.5,48.3 L522.8,46.7 L521.7,45.9 L521.2,44.9 L520.2,43.8 L519.7,42.9 L520.0,41.8 L518.7,41.7 L518.3,40.8 L517.6,40.8 L517.0,41.9 L517.1,42.9 L516.5,43.2 L517.0,44.1 L517.6,44.6 L518.9,44.5 L518.6,45.2 L519.0,46.0 L517.8,46.1 L518.0,46.9 L517.2,47.7 L518.8,48.1 L516.7,49.4M516.5,47.4 L516.5,45.4 L517.0,44.8 L515.6,44.1 L514.7,44.7 L513.4,45.2 L513.5,46.4 L512.9,47.4 L513.6,47.9 L514.7,47.7 L516.1,47.2 L516.5,47.4M505.2,35.5 L505.1,34.1 L504.0,34.0 L505.6,33.2 L508.5,33.4 L510.7,33.3 L511.3,34.1 L511.5,34.6 L510.4,35.2 L507.7,36.1 L505.9,35.7 L505.2,35.5M528.2,22.8 L528.6,21.8 L532.1,21.4 L537.6,21.6 L534.9,22.8 L532.2,24.4 L530.2,23.6 L528.2,22.8M556.7,28.6 L556.7,27.3 L557.3,26.0 L558.4,25.2 L560.1,24.5 L564.4,24.0 L563.8,25.2 L560.8,26.5 L560.1,28.6 L559.1,29.3 L556.7,28.6M579.6,22.8 L581.1,21.6 L585.2,22.4 L584.4,23.2 L579.6,22.8M610.1,25.6 L612.2,24.9 L616.8,25.4 L614.9,26.6 L610.1,25.6M643.0,53.7 L643.9,53.2 L641.5,50.6 L642.9,50.6 L639.6,48.0 L637.8,45.9 L636.6,45.1 L636.8,45.9 L638.9,48.5 L641.5,51.6 L642.5,53.2 L643.0,53.7M644.4,58.5 L645.3,58.1 L646.1,57.6 L647.0,57.9 L648.0,56.6 L646.9,55.7 L645.6,55.6 L643.3,54.3 L643.9,55.8 L643.6,56.7 L643.9,57.6 L644.4,58.5M645.8,58.6 L647.5,60.6 L647.7,62.0 L648.1,63.3 L648.6,64.6 L648.3,65.4 L647.5,65.7 L646.0,65.8 L645.7,66.2 L645.2,67.0 L643.9,65.8 L642.2,66.1 L640.8,66.6 L640.3,66.0 L641.2,64.9 L642.9,64.7 L644.2,64.5 L644.2,63.0 L644.9,63.5 L645.5,62.4 L645.9,61.7 L645.7,60.6 L644.9,59.2 L645.8,58.6M640.0,66.9 L640.6,66.6 L641.9,67.6 L642.0,69.4 L641.3,69.5 L640.6,68.3 L639.7,67.3 L640.0,66.9M634.5,76.0 L635.6,76.5 L635.5,78.8 L635.1,79.5 L634.3,78.3 L634.0,77.0 L634.5,76.0M624.1,82.3 L625.7,81.4 L626.3,82.0 L625.2,83.5 L624.2,83.0 L624.1,82.3M597.9,92.5 L599.0,93.6 L599.9,95.2 L599.3,96.3 L598.3,96.6 L597.9,94.9 L597.9,92.5M635.5,83.1 L637.1,83.1 L637.2,84.7 L636.9,86.4 L637.6,87.8 L639.7,89.0 L638.9,88.2 L637.4,88.1 L636.3,87.5 L635.2,85.8 L635.5,83.1M638.4,95.5 L639.7,93.9 L641.5,92.5 L642.7,94.9 L641.8,96.9 L640.3,96.0 L638.4,95.5M637.8,90.3 L639.5,91.7 L641.3,90.7 L641.0,92.3 L639.1,92.8 L638.0,91.7 L637.8,90.3M626.2,101.4 L626.7,100.9 L628.1,101.3 L630.0,99.7 L630.9,98.2 L632.3,97.5 L633.4,95.6 L635.1,97.1 L635.8,97.4 L635.0,98.3 L634.4,99.2 L634.8,101.6 L635.8,102.0 L634.3,103.0 L633.6,104.6 L633.3,106.8 L631.5,107.3 L630.1,106.4 L628.6,106.7 L627.3,106.1 L627.1,104.3 L626.4,103.0 L626.2,101.4M612.9,97.0 L615.0,97.4 L617.5,100.3 L618.9,101.1 L620.9,103.5 L621.8,104.6 L623.2,106.2 L623.0,109.2 L621.7,109.3 L619.6,107.3 L618.3,105.1 L616.6,102.7 L615.1,100.6 L612.9,97.0M622.3,110.3 L623.6,109.4 L625.5,110.0 L627.9,110.0 L629.4,110.4 L631.1,111.3 L631.1,112.3 L628.7,111.9 L625.4,111.4 L623.5,110.9 L622.3,110.3M632.1,112.0 L633.0,112.4 L635.4,112.2 L638.3,112.1 L641.2,111.9 L643.1,112.0M640.0,113.7 L641.4,112.7 L643.3,112.0 L642.0,113.0 L640.3,114.0 L640.0,113.7M636.1,108.9 L636.9,109.0 L637.0,106.2 L637.6,105.9 L639.0,108.2 L639.3,107.5 L638.2,105.0 L639.8,104.1 L638.2,104.1 L637.2,102.5 L638.2,102.0 L640.9,102.6 L641.7,101.4 L640.9,101.9 L637.6,101.6 L636.7,102.5 L636.3,103.5 L635.5,105.9 L636.1,108.9M644.0,101.1 L645.0,100.6 L644.4,102.1 L645.2,102.7 L644.7,103.9 L644.1,103.0 L644.0,101.1M647.3,104.3 L648.8,103.4 L650.2,104.0 L650.3,106.0 L651.5,106.5 L653.5,104.6 L656.9,105.8 L660.2,107.1 L661.3,108.9 L662.9,109.7 L663.0,111.6 L664.0,113.0 L665.6,114.1 L664.4,114.1 L662.5,114.0 L661.3,111.7 L659.6,111.3 L658.8,112.7 L657.8,113.0 L656.4,112.8 L654.6,111.7 L653.6,112.0 L653.5,110.8 L654.5,110.3 L653.8,108.7 L651.5,107.7 L649.6,107.3 L648.9,107.4 L648.2,106.0 L649.7,105.6 L647.3,104.3M663.7,108.9 L665.3,108.9 L667.3,107.5 L666.8,108.9 L665.3,109.8 L663.7,108.9M628.2,126.6 L627.8,130.9 L627.5,135.2 L626.7,139.0 L625.9,139.8 L627.9,140.6 L630.6,139.5 L633.8,139.5 L636.8,137.7 L639.8,136.9 L642.1,136.8 L644.0,137.9 L644.3,140.4 L646.7,139.0 L646.7,140.0 L647.4,141.4 L647.1,143.8 L649.3,144.7 L651.6,145.0 L653.9,143.6 L655.9,143.3 L657.5,141.1 L660.0,138.4 L662.6,135.8 L664.1,132.5 L664.5,129.8 L663.2,127.7 L662.0,126.9 L661.5,124.7 L659.8,123.2 L659.5,120.2 L659.7,118.9 L658.1,118.0 L658.1,114.8 L657.7,114.5 L656.4,117.0 L656.0,119.6 L654.6,121.8 L653.3,121.3 L651.6,120.0 L650.3,119.1 L651.7,117.5 L651.3,115.9 L648.5,115.6 L647.1,115.1 L645.7,116.4 L644.7,118.9 L643.2,118.9 L641.5,117.8 L640.3,119.6 L638.6,121.3 L637.2,122.3 L635.7,123.9 L633.2,124.8 L631.2,125.3 L629.2,126.4 L628.2,126.6M649.0,146.7 L650.4,147.1 L652.2,146.9 L650.9,148.6 L649.1,149.8 L648.6,148.6 L649.0,146.7M678.3,139.9 L679.0,141.4 L679.1,142.7 L681.3,143.5 L679.6,145.1 L678.0,145.9 L675.3,147.6 L675.1,147.2 L676.4,145.9 L676.0,145.1 L677.2,144.3 L678.3,142.2 L678.3,139.9M674.0,146.5 L674.6,147.5 L672.8,148.9 L671.2,150.0 L669.3,150.7 L667.5,152.2 L665.6,152.9 L664.0,152.3 L665.1,151.2 L667.2,150.2 L670.2,148.9 L672.1,147.5 L674.0,146.5M410.4,182.8 L416.9,183.0 L424.0,183.5 L425.8,182.8 L427.1,181.9 L428.4,180.8 L433.5,180.0 L439.2,179.4 L446.0,179.5 L453.0,180.0 L455.4,179.1 L461.6,178.7 L468.5,178.9 L470.9,177.8 L473.1,176.0 L473.6,173.3 L475.2,171.0 L479.1,169.8 L477.7,171.4 L477.2,173.3 L476.7,175.1 L479.7,177.8 L481.4,179.5 L482.6,180.4 L490.5,182.7 L496.8,182.8 L499.7,182.4 L502.3,181.2 L508.2,179.1 L513.3,177.4 L521.5,176.0 L528.4,176.0 L535.3,176.0 L542.3,175.6 L549.5,175.0 L557.3,173.1 L564.3,173.3 L570.6,174.7 L571.2,176.0 L578.3,173.8 L586.1,172.8 L593.7,172.4 L600.9,172.4 L607.2,173.3 L615.0,172.7 L621.7,173.1 L626.8,174.7 L631.9,176.0 L633.3,177.4 L635.3,178.3 L628.5,181.2 L627.2,182.4 L632.5,182.8M528.8,59.0 L530.0,59.0 L530.0,60.9 L529.0,61.1 L528.8,59.0M528.9,57.0 L529.6,57.0 L529.6,58.6 L529.1,58.3 L528.9,57.0M532.5,62.1 L535.4,61.9 L535.0,63.6 L532.6,62.6 L532.5,62.1M542.7,64.9 L545.3,65.2 L543.7,65.5 L542.7,64.9M443.0,53.0 L446.4,51.3 L449.1,50.8 L449.3,52.9 L447.2,53.2 L444.7,53.1 L443.0,53.0M444.5,57.9 L446.3,54.2 L448.6,53.9 L446.5,56.3 L445.1,58.3 L444.5,57.9M449.0,53.9 L451.5,54.2 L452.4,55.3 L449.6,56.9 L449.1,55.8 L449.0,53.9M448.2,58.3 L452.5,57.1 L452.6,57.3 L448.9,58.6 L448.2,58.3M452.0,56.6 L455.5,55.6 L455.3,56.3 L452.0,56.6M442.4,24.8 L447.2,23.7 L448.7,24.4 L445.4,24.9 L442.4,24.8M456.6,25.2 L460.2,24.3 L458.1,25.6 L456.6,25.2M459.4,25.6 L461.6,25.3 L460.3,26.0 L459.4,25.6M458.8,26.8 L461.7,26.5 L461.2,27.7 L458.1,28.2 L458.8,26.8M451.9,30.9 L454.9,30.3 L454.4,31.3 L452.4,31.5 L451.9,30.9M468.3,26.8 L471.0,26.8 L469.8,27.5 L468.3,26.8M457.9,22.7 L461.6,22.2 L461.0,23.2 L458.3,23.3 L457.9,22.7M459.2,36.5 L461.0,36.6 L459.9,37.2 L459.2,36.5M453.8,22.5 L456.6,22.8 L453.6,23.2 L453.8,22.5M449.3,24.5 L452.0,24.3 L450.0,24.9 L449.3,24.5M394.6,35.8 L396.2,36.1 L394.4,36.5 L394.6,35.8M393.2,39.2 L394.7,39.0 L393.4,39.6 L393.2,39.2M400.9,41.2 L402.5,41.4 L400.3,42.5 L400.9,41.2M388.3,45.1 L385.0,45.9 L380.6,46.9 L376.7,47.6 L373.1,47.9M549.9,21.3 L553.7,20.9 L558.2,21.3 L554.3,21.6 L549.9,21.3M399.4,28.6 L400.7,28.9 L399.5,29.2 L398.8,29.0M643.1,29.0 L643.5,28.6 L644.1,29.0 L643.1,29.0" fill="none" stroke="#000" stroke-width="1.7" stroke-linejoin="round"/>
</g>
<path d="M613.49,189.60 L616.71,188.72 L620.41,187.53 L624.51,186.06 L628.90,184.35 L633.45,182.44 L637.88,180.39 L641.95,178.25 L645.73,176.05 L649.34,173.77 L652.84,171.44 L656.25,169.05 L659.57,166.62 L662.78,164.14 L665.86,161.62 L668.80,159.07 L671.55,156.48 L674.08,153.88 L676.45,151.24 L678.72,148.60 L680.84,145.94 L682.76,143.26 L684.49,140.58 L686.07,137.90 L687.48,135.22 L688.70,132.53 L689.73,129.85 L690.58,127.16 L691.32,124.48 L692.03,121.79 L692.67,119.11 L693.19,116.42 L693.60,113.74 L693.92,111.05 L694.16,108.37 L694.31,105.68 L694.40,103.00 L694.31,100.32 L694.16,97.63 L693.92,94.95 L693.60,92.26 L693.19,89.58 L692.67,86.89 L692.03,84.21 L691.32,81.52 L690.58,78.84 L689.73,76.15 L688.70,73.47 L687.48,70.78 L686.07,68.10 L684.49,65.42 L682.76,62.74 L680.84,60.06 L678.72,57.40 L676.45,54.76 L674.08,52.12 L671.55,49.52 L668.80,46.93 L665.86,44.38 L662.78,41.86 L659.57,39.38 L656.25,36.95 L652.84,34.56 L649.34,32.23 L645.73,29.95 L641.95,27.75 L637.88,25.61 L633.45,23.56 L628.90,21.65 L624.51,19.94 L620.41,18.47 L616.71,17.28 L613.49,16.40 L429.41,16.40 L426.19,17.28 L422.49,18.47 L418.39,19.94 L414.00,21.65 L409.45,23.56 L405.02,25.61 L400.95,27.75 L397.17,29.95 L393.56,32.23 L390.06,34.56 L386.65,36.95 L383.33,39.38 L380.12,41.86 L377.04,44.38 L374.10,46.93 L371.35,49.52 L368.82,52.12 L366.45,54.76 L364.18,57.40 L362.06,60.06 L360.14,62.74 L358.41,65.42 L356.83,68.10 L355.42,70.78 L354.20,73.47 L353.17,76.15 L352.32,78.84 L351.58,81.52 L350.87,84.21 L350.23,86.89 L349.71,89.58 L349.30,92.26 L348.98,94.95 L348.74,97.63 L348.59,100.32 L348.50,103.00 L348.59,105.68 L348.74,108.37 L348.98,111.05 L349.30,113.74 L349.71,116.42 L350.23,119.11 L350.87,121.79 L351.58,124.48 L352.32,127.16 L353.17,129.85 L354.20,132.53 L355.42,135.22 L356.83,137.90 L358.41,140.58 L360.14,143.26 L362.06,145.94 L364.18,148.60 L366.45,151.24 L368.82,153.88 L371.35,156.48 L374.10,159.07 L377.04,161.62 L380.12,164.14 L383.33,166.62 L386.65,169.05 L390.06,171.44 L393.56,173.77 L397.17,176.05 L400.95,178.25 L405.02,180.39 L409.45,182.44 L414.00,184.35 L418.39,186.06 L422.49,187.53 L426.19,188.72 L429.41,189.60Z" fill="none" stroke="#000" stroke-width="1.5"/>
<rect x="35.40" y="198" width="42.50" height="9.2" fill="#082080"/>
<rect x="77.60" y="198" width="42.50" height="9.2" fill="#0a37a0"/>
<rect x="119.80" y="198" width="42.50" height="9.2" fill="#1f4da8"/>
<rect x="162.00" y="198" width="42.50" height="9.2" fill="#4a5cb0"/>
<rect x="204.20" y="198" width="42.50" height="9.2" fill="#8b8cc4"/>
<rect x="246.40" y="198" width="42.50" height="9.2" fill="#bbb9dc"/>
<rect x="288.60" y="198" width="42.50" height="9.2" fill="#dddcee"/>
<rect x="330.80" y="198" width="42.50" height="9.2" fill="#ffffff"/>
<rect x="373.00" y="198" width="42.50" height="9.2" fill="#fdd8dc"/>
<rect x="415.20" y="198" width="42.50" height="9.2" fill="#fcb3b8"/>
<rect x="457.40" y="198" width="42.50" height="9.2" fill="#fa8a92"/>
<rect x="499.60" y="198" width="42.50" height="9.2" fill="#f45a66"/>
<rect x="541.80" y="198" width="42.50" height="9.2" fill="#f33a30"/>
<rect x="584.00" y="198" width="42.50" height="9.2" fill="#cf2a22"/>
<rect x="626.20" y="198" width="42.50" height="9.2" fill="#7e1614"/>
<path d="M35.4,198.2H668.4M35.4,207.1H668.4" stroke="#000" stroke-width="0.9"/>
<path d="M35.40,207v2.5M77.60,207v2.5M119.80,207v2.5M162.00,207v2.5M204.20,207v2.5M246.40,207v2.5M288.60,207v2.5M330.80,207v2.5M373.00,207v2.5M415.20,207v2.5M457.40,207v2.5M499.60,207v2.5M541.80,207v2.5M584.00,207v2.5M626.20,207v2.5M668.40,207v2.5M351.90,207v2.5" stroke="#000" stroke-width="1"/>
<path d="M35.4,198V209M668.4,198V209" stroke="#000" stroke-width="1.2"/>
<g font-size="10.8" font-weight="bold"><text x="35.40" y="219" text-anchor="middle">-0.75</text><text x="77.60" y="219" text-anchor="middle">-0.65</text><text x="119.80" y="219" text-anchor="middle">-0.55</text><text x="162.00" y="219" text-anchor="middle">-0.45</text><text x="204.20" y="219" text-anchor="middle">-0.35</text><text x="246.40" y="219" text-anchor="middle">-0.25</text><text x="288.60" y="219" text-anchor="middle">-0.15</text><text x="330.80" y="219" text-anchor="middle">-0.05</text><text x="373.00" y="219" text-anchor="middle">0.05</text><text x="415.20" y="219" text-anchor="middle">0.15</text><text x="457.40" y="219" text-anchor="middle">0.25</text><text x="499.60" y="219" text-anchor="middle">0.35</text><text x="541.80" y="219" text-anchor="middle">0.45</text><text x="584.00" y="219" text-anchor="middle">0.55</text><text x="626.20" y="219" text-anchor="middle">0.65</text><text x="668.40" y="219" text-anchor="middle">0.75</text><text x="351.90" y="219" text-anchor="middle">0</text></g>
<text x="356" y="238" font-size="13.8" text-anchor="middle">°C decenal</text>
<rect x="87.2" y="269.7" width="524.5" height="309.09999999999997" fill="#faf0e7"/>
<path d="M102.9,449.3 L106.1,449.2 L109.3,449.3 L112.5,450.2 L115.7,452.8 L118.9,457.2 L122.1,462.7 L125.2,468.2 L128.4,472.8 L131.6,476.3 L134.8,478.2 L138.0,478.2 L141.2,475.3 L144.4,469.4 L147.5,461.0 L150.7,451.7 L153.9,443.3 L157.1,436.8 L160.3,432.7 L163.5,431.0 L166.7,431.1 L169.9,432.6 L173.0,434.4 L176.2,434.9 L179.4,432.6 L182.6,427.3 L185.8,419.9 L189.0,413.2 L192.2,409.7 L195.4,410.5 L198.5,414.7 L201.7,420.7 L204.9,426.7 L208.1,431.8 L211.3,435.6 L214.5,437.6 L217.7,438.1 L220.8,437.9 L224.0,438.4 L227.2,440.6 L230.4,444.8 L233.6,449.4 L236.8,452.5 L240.0,452.5 L243.2,449.1 L246.3,443.6 L249.5,438.1 L252.7,434.2 L255.9,432.9 L259.1,434.5 L262.3,438.9 L265.5,445.6 L268.7,453.0 L271.8,459.4 L275.0,464.0 L278.2,467.5 L281.4,471.6 L284.6,477.2 L287.8,483.7 L291.0,488.8 L294.1,490.5 L297.3,487.8 L300.5,481.8 L303.7,474.8 L306.9,469.3 L310.1,466.4 L313.3,465.7 L316.5,465.3 L319.6,463.9 L322.8,461.2 L326.0,458.0 L329.2,455.2 L332.4,452.7 L335.6,450.0 L338.8,446.7 L342.0,443.1 L345.1,439.7 L348.3,437.1 L351.5,435.0 L354.7,433.2 L357.9,431.5 L361.1,430.1 L364.3,428.8 L367.5,426.9 L370.6,423.3 L373.8,417.1 L377.0,409.0 L380.2,400.1 L383.4,392.1 L386.6,386.2 L389.8,382.8 L392.9,381.8 L396.1,383.2 L399.3,387.0 L402.5,393.4 L405.7,402.2 L408.9,412.0 L412.1,421.0 L415.3,427.1 L418.4,429.3 L421.6,428.0 L424.8,425.3 L428.0,423.3 L431.2,423.5 L434.4,425.0 L437.6,426.1 L440.8,424.7 L443.9,420.6 L447.1,415.0 L450.3,409.8 L453.5,406.7 L456.7,406.4 L459.9,408.8 L463.1,412.7 L466.2,416.7 L469.4,419.3 L472.6,420.0 L475.8,419.0 L479.0,417.2 L482.2,415.0 L485.4,412.7 L488.6,410.8 L491.7,409.9 L494.9,410.4 L498.1,411.8 L501.3,412.2 L504.5,409.5 L507.7,402.9 L510.9,392.9 L514.1,381.7 L517.2,372.1 L520.4,366.1 L523.6,364.2 L526.8,365.3 L530.0,367.3 L533.2,367.8 L536.4,365.9 L539.5,362.0 L542.7,357.8 L545.9,354.7 L549.1,353.1 L552.3,352.4 L555.5,351.2 L558.7,348.2 L561.9,342.5 L565.0,334.5 L568.2,325.7 L571.4,317.4 L574.6,310.7 L577.8,305.4 L581.0,300.8 L584.2,295.8 L587.4,291.0 L590.5,286.9 L593.7,284.0 L596.9,282.4 L600.1,281.6 L600.1,311.5 L596.9,311.4 L593.7,312.2 L590.5,314.2 L587.4,317.4 L584.2,321.4 L581.0,325.4 L577.8,329.8 L574.6,334.9 L571.4,341.5 L568.2,349.6 L565.0,358.3 L561.9,366.0 L558.7,371.6 L555.5,374.5 L552.3,375.5 L549.1,376.0 L545.9,377.4 L542.7,380.3 L539.5,384.4 L536.4,388.0 L533.2,389.8 L530.0,389.4 L526.8,387.6 L523.6,386.6 L520.4,388.6 L517.2,394.7 L514.1,404.5 L510.9,415.7 L507.7,425.9 L504.5,432.7 L501.3,435.4 L498.1,435.2 L494.9,433.9 L491.7,433.5 L488.6,434.5 L485.4,436.6 L482.2,439.0 L479.0,441.3 L475.8,443.3 L472.6,444.4 L469.4,443.9 L466.2,441.4 L463.1,437.5 L459.9,433.7 L456.7,431.4 L453.5,431.8 L450.3,435.0 L447.1,440.3 L443.9,446.1 L440.8,450.3 L437.6,451.8 L434.4,450.9 L431.2,449.5 L428.0,449.5 L424.8,451.5 L421.6,454.4 L418.4,455.9 L415.3,453.9 L412.1,448.0 L408.9,439.3 L405.7,429.7 L402.5,421.2 L399.3,414.9 L396.1,411.3 L392.9,410.2 L389.8,411.4 L386.6,415.1 L383.4,421.2 L380.2,429.3 L377.0,438.4 L373.8,446.8 L370.6,453.2 L367.5,457.1 L364.3,459.2 L361.1,460.7 L357.9,462.3 L354.7,464.2 L351.5,466.3 L348.3,468.6 L345.1,471.4 L342.0,475.0 L338.8,478.8 L335.6,482.3 L332.4,485.3 L329.2,488.0 L326.0,491.0 L322.8,494.4 L319.6,497.3 L316.5,499.0 L313.3,499.6 L310.1,500.5 L306.9,503.6 L303.7,509.3 L300.5,516.5 L297.3,522.8 L294.1,525.7 L291.0,524.2 L287.8,519.3 L284.6,513.1 L281.4,507.7 L278.2,503.8 L275.0,500.5 L271.8,496.1 L268.7,489.9 L265.5,482.8 L262.3,476.3 L259.1,472.1 L255.9,470.8 L252.7,472.3 L249.5,476.4 L246.3,482.1 L243.2,487.8 L240.0,491.4 L236.8,491.7 L233.6,488.8 L230.4,484.4 L227.2,480.5 L224.0,478.4 L220.8,478.2 L217.7,478.6 L214.5,478.3 L211.3,476.5 L208.1,473.0 L204.9,468.1 L201.7,462.3 L198.5,456.5 L195.4,452.5 L192.2,452.0 L189.0,455.7 L185.8,462.6 L182.6,470.2 L179.4,475.8 L176.2,478.2 L173.0,477.9 L169.9,476.4 L166.7,475.1 L163.5,475.1 L160.3,477.0 L157.1,481.3 L153.9,487.9 L150.7,496.5 L147.5,505.9 L144.4,514.5 L141.2,520.5 L138.0,523.5 L134.8,523.8 L131.6,522.0 L128.4,518.7 L125.2,514.2 L122.1,508.8 L118.9,503.5 L115.7,499.3 L112.5,496.9 L109.3,496.1 L106.1,496.1 L102.9,496.3Z" fill="#aab8c1" stroke="#287b9b" stroke-width="1.3"/>
<path d="M102.9,472.8 L106.1,472.7 L109.3,472.7 L112.5,473.6 L115.7,476.1 L118.9,480.3 L122.1,485.7 L125.2,491.2 L128.4,495.7 L131.6,499.1 L134.8,501.0 L138.0,500.8 L141.2,497.9 L144.4,491.9 L147.5,483.5 L150.7,474.1 L153.9,465.6 L157.1,459.0 L160.3,454.9 L163.5,453.1 L166.7,453.1 L169.9,454.5 L173.0,456.1 L176.2,456.5 L179.4,454.2 L182.6,448.7 L185.8,441.3 L189.0,434.5 L192.2,430.8 L195.4,431.5 L198.5,435.6 L201.7,441.5 L204.9,447.4 L208.1,452.4 L211.3,456.0 L214.5,457.9 L217.7,458.4 L220.8,458.1 L224.0,458.4 L227.2,460.6 L230.4,464.6 L233.6,469.1 L236.8,472.1 L240.0,472.0 L243.2,468.4 L246.3,462.8 L249.5,457.2 L252.7,453.3 L255.9,451.8 L259.1,453.3 L262.3,457.6 L265.5,464.2 L268.7,471.5 L271.8,477.7 L275.0,482.2 L278.2,485.6 L281.4,489.6 L284.6,495.1 L287.8,501.5 L291.0,506.5 L294.1,508.1 L297.3,505.3 L300.5,499.1 L303.7,492.1 L306.9,486.4 L310.1,483.5 L313.3,482.6 L316.5,482.1 L319.6,480.6 L322.8,477.8 L326.0,474.5 L329.2,471.6 L332.4,469.0 L335.6,466.2 L338.8,462.8 L342.0,459.0 L345.1,455.6 L348.3,452.8 L351.5,450.7 L354.7,448.7 L357.9,446.9 L361.1,445.4 L364.3,444.0 L367.5,442.0 L370.6,438.2 L373.8,432.0 L377.0,423.7 L380.2,414.7 L383.4,406.6 L386.6,400.6 L389.8,397.1 L392.9,396.0 L396.1,397.2 L399.3,401.0 L402.5,407.3 L405.7,415.9 L408.9,425.7 L412.1,434.5 L415.3,440.5 L418.4,442.6 L421.6,441.2 L424.8,438.4 L428.0,436.4 L431.2,436.5 L434.4,438.0 L437.6,438.9 L440.8,437.5 L443.9,433.3 L447.1,427.6 L450.3,422.4 L453.5,419.2 L456.7,418.9 L459.9,421.2 L463.1,425.1 L466.2,429.1 L469.4,431.6 L472.6,432.2 L475.8,431.2 L479.0,429.3 L482.2,427.0 L485.4,424.6 L488.6,422.7 L491.7,421.7 L494.9,422.2 L498.1,423.5 L501.3,423.8 L504.5,421.1 L507.7,414.4 L510.9,404.3 L514.1,393.1 L517.2,383.4 L520.4,377.3 L523.6,375.4 L526.8,376.5 L530.0,378.3 L533.2,378.8 L536.4,376.9 L539.5,373.2 L542.7,369.1 L545.9,366.0 L549.1,364.5 L552.3,363.9 L555.5,362.9 L558.7,359.9 L561.9,354.3 L565.0,346.4 L568.2,337.6 L571.4,329.4 L574.6,322.8 L577.8,317.6 L581.0,313.1 L584.2,308.6 L587.4,304.2 L590.5,300.6 L593.7,298.1 L596.9,296.9 L600.1,296.6" fill="none" stroke="#5d89a2" stroke-width="8.3" stroke-linejoin="round"/>
<circle cx="103.2" cy="484.7" r="3.3" fill="#000"/>
<circle cx="106.6" cy="465.4" r="3.3" fill="#000"/>
<circle cx="110" cy="471.6" r="3.3" fill="#000"/>
<circle cx="112.9" cy="477.2" r="3.3" fill="#000"/>
<circle cx="115.9" cy="466.3" r="3.3" fill="#000"/>
<circle cx="119.3" cy="460.3" r="3.3" fill="#000"/>
<circle cx="122.2" cy="492.7" r="3.3" fill="#000"/>
<circle cx="125.6" cy="504.6" r="3.3" fill="#000"/>
<circle cx="128.7" cy="512.8" r="3.3" fill="#000"/>
<circle cx="131.8" cy="489.3" r="3.3" fill="#000"/>
<circle cx="135.2" cy="479.4" r="3.3" fill="#000"/>
<circle cx="138.2" cy="521.8" r="3.3" fill="#000"/>
<circle cx="141.5" cy="532.3" r="3.3" fill="#000"/>
<circle cx="144.7" cy="480.8" r="3.3" fill="#000"/>
<circle cx="147.8" cy="489.8" r="3.3" fill="#000"/>
<circle cx="150.8" cy="460.5" r="3.3" fill="#000"/>
<circle cx="154.2" cy="457.8" r="3.3" fill="#000"/>
<circle cx="157.3" cy="469.2" r="3.3" fill="#000"/>
<circle cx="160.5" cy="430.6" r="3.3" fill="#000"/>
<circle cx="163.6" cy="454" r="3.3" fill="#000"/>
<circle cx="166.7" cy="452.6" r="3.3" fill="#000"/>
<circle cx="170.1" cy="453.4" r="3.3" fill="#000"/>
<circle cx="173.5" cy="453.1" r="3.3" fill="#000"/>
<circle cx="176.6" cy="460.7" r="3.3" fill="#000"/>
<circle cx="179.8" cy="467" r="3.3" fill="#000"/>
<circle cx="182.8" cy="467.4" r="3.3" fill="#000"/>
<circle cx="186.3" cy="468.4" r="3.3" fill="#000"/>
<circle cx="188.8" cy="392.6" r="3.3" fill="#000"/>
<circle cx="192.6" cy="388.7" r="3.3" fill="#000"/>
<circle cx="195.3" cy="444.4" r="3.3" fill="#000"/>
<circle cx="198.7" cy="441.5" r="3.3" fill="#000"/>
<circle cx="201.6" cy="446.1" r="3.3" fill="#000"/>
<circle cx="205.3" cy="441.5" r="3.3" fill="#000"/>
<circle cx="208.4" cy="449.1" r="3.3" fill="#000"/>
<circle cx="211.3" cy="467.5" r="3.3" fill="#000"/>
<circle cx="214.4" cy="469.2" r="3.3" fill="#000"/>
<circle cx="217.8" cy="453.4" r="3.3" fill="#000"/>
<circle cx="220.8" cy="467.9" r="3.3" fill="#000"/>
<circle cx="224.2" cy="450.5" r="3.3" fill="#000"/>
<circle cx="227.3" cy="428.7" r="3.3" fill="#000"/>
<circle cx="230.3" cy="478.9" r="3.3" fill="#000"/>
<circle cx="233.5" cy="467" r="3.3" fill="#000"/>
<circle cx="236.7" cy="478.9" r="3.3" fill="#000"/>
<circle cx="239.9" cy="496" r="3.3" fill="#000"/>
<circle cx="243.1" cy="481.7" r="3.3" fill="#000"/>
<circle cx="246.3" cy="463" r="3.3" fill="#000"/>
<circle cx="249.5" cy="428.5" r="3.3" fill="#000"/>
<circle cx="252.7" cy="436.4" r="3.3" fill="#000"/>
<circle cx="255.9" cy="481" r="3.3" fill="#000"/>
<circle cx="259" cy="447.7" r="3.3" fill="#000"/>
<circle cx="262.2" cy="426.4" r="3.3" fill="#000"/>
<circle cx="265.4" cy="452.3" r="3.3" fill="#000"/>
<circle cx="268.6" cy="480.4" r="3.3" fill="#000"/>
<circle cx="271.8" cy="500.9" r="3.3" fill="#000"/>
<circle cx="275" cy="506.6" r="3.3" fill="#000"/>
<circle cx="278.2" cy="466.8" r="3.3" fill="#000"/>
<circle cx="281.4" cy="458.7" r="3.3" fill="#000"/>
<circle cx="284.1" cy="492.8" r="3.3" fill="#000"/>
<circle cx="287.8" cy="513" r="3.3" fill="#000"/>
<circle cx="291" cy="520.4" r="3.3" fill="#000"/>
<circle cx="294.1" cy="519.4" r="3.3" fill="#000"/>
<circle cx="297.3" cy="520.4" r="3.3" fill="#000"/>
<circle cx="300.5" cy="500.9" r="3.3" fill="#000"/>
<circle cx="303.7" cy="497" r="3.3" fill="#000"/>
<circle cx="306.7" cy="466.8" r="3.3" fill="#000"/>
<circle cx="309.9" cy="444.5" r="3.3" fill="#000"/>
<circle cx="313.1" cy="497.7" r="3.3" fill="#000"/>
<circle cx="316.3" cy="514.7" r="3.3" fill="#000"/>
<circle cx="319.5" cy="473.2" r="3.3" fill="#000"/>
<circle cx="322.7" cy="480.6" r="3.3" fill="#000"/>
<circle cx="325.9" cy="466.8" r="3.3" fill="#000"/>
<circle cx="329" cy="458.9" r="3.3" fill="#000"/>
<circle cx="332.2" cy="478.5" r="3.3" fill="#000"/>
<circle cx="335.4" cy="468.9" r="3.3" fill="#000"/>
<circle cx="338.6" cy="476.4" r="3.3" fill="#000"/>
<circle cx="341.8" cy="457.2" r="3.3" fill="#000"/>
<circle cx="345" cy="437" r="3.3" fill="#000"/>
<circle cx="348.2" cy="450.9" r="3.3" fill="#000"/>
<circle cx="351.4" cy="448.7" r="3.3" fill="#000"/>
<circle cx="354.6" cy="477.4" r="3.3" fill="#000"/>
<circle cx="357.8" cy="434.9" r="3.3" fill="#000"/>
<circle cx="361" cy="427" r="3.3" fill="#000"/>
<circle cx="364.1" cy="434.9" r="3.3" fill="#000"/>
<circle cx="367.3" cy="472.8" r="3.3" fill="#000"/>
<circle cx="370.5" cy="439.6" r="3.3" fill="#000"/>
<circle cx="373.5" cy="440.2" r="3.3" fill="#000"/>
<circle cx="376.7" cy="432.1" r="3.3" fill="#000"/>
<circle cx="379.9" cy="405.5" r="3.3" fill="#000"/>
<circle cx="383.1" cy="401.3" r="3.3" fill="#000"/>
<circle cx="386.3" cy="393.8" r="3.3" fill="#000"/>
<circle cx="389.5" cy="393.8" r="3.3" fill="#000"/>
<circle cx="392.7" cy="381.1" r="3.3" fill="#000"/>
<circle cx="395.9" cy="407.7" r="3.3" fill="#000"/>
<circle cx="399" cy="403.4" r="3.3" fill="#000"/>
<circle cx="402.2" cy="376.4" r="3.3" fill="#000"/>
<circle cx="405.4" cy="401.9" r="3.3" fill="#000"/>
<circle cx="408.6" cy="444.9" r="3.3" fill="#000"/>
<circle cx="411.8" cy="440.2" r="3.3" fill="#000"/>
<circle cx="415" cy="449.6" r="3.3" fill="#000"/>
<circle cx="418.2" cy="446" r="3.3" fill="#000"/>
<circle cx="421.4" cy="470.4" r="3.3" fill="#000"/>
<circle cx="424.6" cy="433.8" r="3.3" fill="#000"/>
<circle cx="427.8" cy="415.1" r="3.3" fill="#000"/>
<circle cx="431" cy="407" r="3.3" fill="#000"/>
<circle cx="434.1" cy="446.6" r="3.3" fill="#000"/>
<circle cx="437.3" cy="459.8" r="3.3" fill="#000"/>
<circle cx="440.5" cy="467.2" r="3.3" fill="#000"/>
<circle cx="446.8" cy="400.9" r="3.3" fill="#000"/>
<circle cx="450.2" cy="421.3" r="3.3" fill="#000"/>
<circle cx="453.3" cy="426" r="3.3" fill="#000"/>
<circle cx="459.6" cy="401.7" r="3.3" fill="#000"/>
<circle cx="463" cy="406.8" r="3.3" fill="#000"/>
<circle cx="465.9" cy="465.5" r="3.3" fill="#000"/>
<circle cx="468.9" cy="444.6" r="3.3" fill="#000"/>
<circle cx="471.5" cy="430.6" r="3.3" fill="#000"/>
<circle cx="474.9" cy="428.9" r="3.3" fill="#000"/>
<circle cx="478.8" cy="424.3" r="3.3" fill="#000"/>
<circle cx="488" cy="434.9" r="3.3" fill="#000"/>
<circle cx="491.9" cy="408.5" r="3.3" fill="#000"/>
<circle cx="494.5" cy="382.1" r="3.3" fill="#000"/>
<circle cx="497.5" cy="445.6" r="3.3" fill="#000"/>
<circle cx="500.4" cy="425.5" r="3.3" fill="#000"/>
<circle cx="504.3" cy="446.8" r="3.3" fill="#000"/>
<circle cx="510.6" cy="406.5" r="3.3" fill="#000"/>
<circle cx="516.6" cy="372.4" r="3.3" fill="#000"/>
<circle cx="519.9" cy="366.9" r="3.3" fill="#000"/>
<circle cx="526.2" cy="354.3" r="3.3" fill="#000"/>
<circle cx="529.1" cy="397.7" r="3.3" fill="#000"/>
<circle cx="532.7" cy="399.4" r="3.3" fill="#000"/>
<circle cx="535.8" cy="390.5" r="3.3" fill="#000"/>
<circle cx="539.2" cy="358.4" r="3.3" fill="#000"/>
<circle cx="545.5" cy="373.6" r="3.3" fill="#000"/>
<circle cx="548.4" cy="340.6" r="3.3" fill="#000"/>
<circle cx="554.9" cy="382" r="3.3" fill="#000"/>
<circle cx="558" cy="370.7" r="3.3" fill="#000"/>
<circle cx="561.6" cy="359.6" r="3.3" fill="#000"/>
<circle cx="564" cy="335.1" r="3.3" fill="#000"/>
<circle cx="567.7" cy="367.3" r="3.3" fill="#000"/>
<circle cx="570.8" cy="316.5" r="3.3" fill="#000"/>
<circle cx="574.2" cy="281.3" r="3.3" fill="#000"/>
<circle cx="577.3" cy="337" r="3.3" fill="#000"/>
<circle cx="579.7" cy="342.3" r="3.3" fill="#000"/>
<circle cx="583.3" cy="306.6" r="3.3" fill="#000"/>
<circle cx="586.4" cy="295.3" r="3.3" fill="#000"/>
<circle cx="589.8" cy="295.3" r="3.3" fill="#000"/>
<circle cx="593" cy="296.5" r="3.3" fill="#000"/>
<circle cx="596.1" cy="291" r="3.3" fill="#000"/>
<circle cx="599.7" cy="303.3" r="3.3" fill="#000"/>
<line x1="122.2" y1="501.7" x2="596.6" y2="364.7" stroke="#f23b2d" stroke-width="5.5"/>
<line x1="281.4" y1="496" x2="596.6" y2="338" stroke="#3b3499" stroke-width="5.5"/>
<line x1="441.4" y1="448.7" x2="596.6" y2="315.3" stroke="#f7832a" stroke-width="5.5"/>
<line x1="520.7" y1="394.1" x2="596.1" y2="300.1" stroke="#fbf237" stroke-width="5.5"/>
<rect x="87.2" y="269.7" width="524.5" height="309.09999999999997" fill="none" stroke="#000" stroke-width="1.9"/>
<path d="M102.9,578.8v-3M102.9,269.7v3M134.8,578.8v-6M134.8,269.7v6M166.7,578.8v-3M166.7,269.7v3M198.5,578.8v-6M198.5,269.7v6M230.4,578.8v-3M230.4,269.7v3M262.3,578.8v-6M262.3,269.7v6M294.1,578.8v-3M294.1,269.7v3M326.0,578.8v-6M326.0,269.7v6M357.9,578.8v-3M357.9,269.7v3M389.8,578.8v-6M389.8,269.7v6M421.6,578.8v-3M421.6,269.7v3M453.5,578.8v-6M453.5,269.7v6M485.4,578.8v-3M485.4,269.7v3M517.2,578.8v-6M517.2,269.7v6M549.1,578.8v-3M549.1,269.7v3M581.0,578.8v-6M581.0,269.7v6M87.2,578.2h10M611.7,578.2h-10M87.2,556.2h5M611.7,556.2h-5M87.2,534.2h10M611.7,534.2h-10M87.2,512.2h5M611.7,512.2h-5M87.2,490.2h10M611.7,490.2h-10M87.2,468.2h5M611.7,468.2h-5M87.2,446.2h10M611.7,446.2h-10M87.2,424.2h5M611.7,424.2h-5M87.2,402.2h10M611.7,402.2h-10M87.2,380.2h5M611.7,380.2h-5M87.2,358.2h10M611.7,358.2h-10M87.2,336.2h5M611.7,336.2h-5M87.2,314.2h10M611.7,314.2h-10M87.2,292.2h5M611.7,292.2h-5M87.2,270.2h10M611.7,270.2h-10" stroke="#111" stroke-width="1.9" fill="none"/>
<g stroke="#000" stroke-width="0.35"><text transform="translate(82.9,580.1) scale(1.14,1)" font-size="15.9" text-anchor="end">-0.8</text><text x="618.9" y="580.0" font-size="15.2">13.2</text><text transform="translate(82.9,539.9) scale(1.14,1)" font-size="15.9" text-anchor="end">-0.6</text><text x="618.9" y="539.5" font-size="15.2">13.4</text><text transform="translate(82.9,495.9) scale(1.14,1)" font-size="15.9" text-anchor="end">-0.4</text><text x="618.9" y="495.5" font-size="15.2">13.6</text><text transform="translate(82.9,451.9) scale(1.14,1)" font-size="15.9" text-anchor="end">-0.2</text><text x="618.9" y="451.5" font-size="15.2">13.8</text><text transform="translate(82.9,407.9) scale(1.14,1)" font-size="15.9" text-anchor="end">0.0</text><text x="618.9" y="407.5" font-size="15.2">14.0</text><text transform="translate(82.9,363.9) scale(1.14,1)" font-size="15.9" text-anchor="end">0.2</text><text x="618.9" y="363.5" font-size="15.2">14.2</text><text transform="translate(82.9,319.9) scale(1.14,1)" font-size="15.9" text-anchor="end">0.4</text><text x="618.9" y="319.5" font-size="15.2">14.4</text><text transform="translate(82.9,280.4) scale(1.14,1)" font-size="15.9" text-anchor="end">0.6</text><text x="618.9" y="276.3" font-size="15.2">14.6</text><text x="135.8" y="597.6" text-anchor="middle" font-size="15.6">1860</text><text x="199.5" y="597.6" text-anchor="middle" font-size="15.6">1880</text><text x="263.3" y="597.6" text-anchor="middle" font-size="15.6">1900</text><text x="327.0" y="597.6" text-anchor="middle" font-size="15.6">1920</text><text x="390.8" y="597.6" text-anchor="middle" font-size="15.6">1940</text><text x="454.5" y="597.6" text-anchor="middle" font-size="15.6">1960</text><text x="518.2" y="597.6" text-anchor="middle" font-size="15.6">1980</text><text x="582.0" y="597.6" text-anchor="middle" font-size="15.6">2000</text></g>
<text transform="translate(36.5,431.5) rotate(-90)" text-anchor="middle" font-size="15.8">Diferencia en (°C) desde 1981-1990</text>
<text transform="translate(685.5,425.5) rotate(90)" text-anchor="middle" font-size="15.8">Temperatura media anual</text>
<text transform="translate(666.5,424) rotate(90)" text-anchor="middle" font-size="15.8">mundial estimada (°C)</text>
<circle cx="109.4" cy="640.3" r="3.4" fill="#000"/>
<rect x="98" y="661" width="22.4" height="8" fill="#7b9aae"/>
<rect x="98.5" y="684.5" width="21.5" height="11.5" fill="#b4c3cb" stroke="#2a86a6" stroke-width="1.2"/>
<g font-size="15.7" stroke="#000" stroke-width="0.2"><text x="132.3" y="647.8">Media anual</text><text x="132.3" y="671.1">Series suaves</text><text x="132.3" y="694.5">5-95% barras de errores decenales</text></g>
<g stroke="#000" stroke-width="0.4"><text x="445.6" y="631" font-size="13.6">Período</text><text x="516.3" y="631" font-size="13.6">Tasa</text></g>
<g stroke="#000" stroke-width="0.2"><text x="456" y="642.4" font-size="9.4">Años</text><text x="502" y="642.4" font-size="10">°C por decenio</text></g>
<rect x="411" y="652.7" width="29.2" height="5.8" fill="#fbf237"/>
<text x="472.3" y="660.3" font-size="14" font-weight="bold" text-anchor="end">25</text>
<text x="494.3" y="660.3" font-size="14" font-weight="bold">0.177±0.052</text>
<rect x="411" y="666.8000000000001" width="29.2" height="5.8" fill="#f7903a"/>
<text x="472.3" y="674.4" font-size="14" font-weight="bold" text-anchor="end">50</text>
<text x="494.3" y="674.4" font-size="14" font-weight="bold">0.128±0.026</text>
<rect x="411" y="682.5" width="29.2" height="5.8" fill="#3b3499"/>
<text x="472.3" y="688.6" font-size="14" font-weight="bold" text-anchor="end">100</text>
<text x="494.3" y="688.6" font-size="14" font-weight="bold">0.074±0.018</text>
<rect x="411" y="697.3000000000001" width="29.2" height="5.8" fill="#f23b2d"/>
<text x="472.3" y="703.3" font-size="14" font-weight="bold" text-anchor="end">150</text>
<text x="494.3" y="703.3" font-size="14" font-weight="bold">0.045±0.012</text>
</svg></body></html>
